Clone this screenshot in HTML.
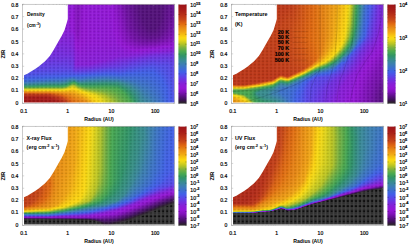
<!DOCTYPE html><html><head><meta charset="utf-8"><title>fig</title><style>html,body{margin:0;padding:0;background:#fff}body{width:409px;height:245px;position:relative;overflow:hidden;font-family:"Liberation Sans",sans-serif}.p{position:absolute;width:151px;height:99px;overflow:hidden}.p i{position:absolute;top:0;height:99px;display:block}.b{stroke:#000;stroke-width:.18px}</style></head><body><div class="p" style="left:24px;top:4px"><i style="left:0px;width:1px;background:linear-gradient(#8520d9 0.5px,#7b28dc 31.5px,#6838e3 53.5px,#4a56e8 72.5px,#4060e8 74.5px,#3c6fce 77.5px,#3c80af 79.5px,#39889c 80.5px,#358f80 81.5px,#399b5f 82.5px,#5dab49 83.5px,#9dbc30 84.5px,#dad11c 85.5px,#fad110 86.5px,#f0a414 87.5px,#e57c12 88.5px,#d25515 89.5px,#c13c18 90.5px,#ac2218 92.5px,#a71b18 93.5px,#a01718 98.5px)"></i><i style="left:1px;width:1px;background:linear-gradient(#8520d9 0.5px,#7b28dc 31.5px,#6838e3 53.5px,#4a56e8 72.5px,#4060e7 74.5px,#3c6fcd 77.5px,#3c81af 79.5px,#39889b 80.5px,#358f80 81.5px,#399b5f 82.5px,#5dab49 83.5px,#9dbc30 84.5px,#dad11c 85.5px,#fad110 86.5px,#f0a414 87.5px,#e57c12 88.5px,#d25515 89.5px,#c13c18 90.5px,#ac2218 92.5px,#a71b18 93.5px,#a01718 98.5px)"></i><i style="left:2px;width:1px;background:linear-gradient(#8520d9 0.5px,#7b28dc 31.5px,#6838e3 53.5px,#4d53e8 71.5px,#4061e7 74.5px,#3c6fcd 77.5px,#3c81ad 79.5px,#398999 80.5px,#34907d 81.5px,#399c5f 82.5px,#5dab49 83.5px,#9dbc30 84.5px,#dad11c 85.5px,#fad110 86.5px,#f0a414 87.5px,#e57c12 88.5px,#d25515 89.5px,#c13c18 90.5px,#ac2218 92.5px,#a71b18 93.5px,#a01718 98.5px)"></i><i style="left:3px;width:1px;background:linear-gradient(#8620d9 0.5px,#7b28dc 31.5px,#6838e3 53.5px,#4d53e8 71.5px,#4061e6 74.5px,#3c70cc 77.5px,#3c81ac 79.5px,#398997 80.5px,#34907a 81.5px,#3a9c5e 82.5px,#5dac49 83.5px,#9dbc30 84.5px,#dad11c 85.5px,#fad110 86.5px,#f0a414 87.5px,#e57c12 88.5px,#d25515 89.5px,#c13c18 90.5px,#ac2218 92.5px,#a71b18 93.5px,#a01718 98.5px)"></i><i style="left:4px;width:1px;background:linear-gradient(#8620d9 0.5px,#7b27dc 31.5px,#6838e3 53.5px,#4d53e8 71.5px,#4061e5 74.5px,#3c71cb 77.5px,#3b82ab 79.5px,#398a96 80.5px,#339179 81.5px,#3b9d5d 82.5px,#5dac49 83.5px,#9dbc30 84.5px,#dad11c 85.5px,#fad110 86.5px,#f0a414 87.5px,#e57c12 88.5px,#d25515 89.5px,#c13c18 90.5px,#ac2218 92.5px,#a71b18 93.5px,#a01718 98.5px)"></i><i style="left:5px;width:1px;background:linear-gradient(#8620d9 0.5px,#7b27dc 31.5px,#6838e3 53.5px,#4d53e8 71.5px,#4062e5 74.5px,#3c71ca 77.5px,#3b82aa 79.5px,#398a96 80.5px,#339178 81.5px,#3b9d5d 82.5px,#5dac49 83.5px,#9dbc30 84.5px,#dad11c 85.5px,#fad110 86.5px,#f0a414 87.5px,#e57c12 88.5px,#d25515 89.5px,#c13c18 90.5px,#ac2218 92.5px,#a71b18 93.5px,#a01718 98.5px)"></i><i style="left:6px;width:1px;background:linear-gradient(#8620d9 0.5px,#7c27dc 31.5px,#6739e3 54.5px,#4f51e8 70.5px,#4062e5 74.5px,#3c71ca 77.5px,#3b82a9 79.5px,#398a95 80.5px,#339178 81.5px,#3b9d5d 82.5px,#5dac49 83.5px,#9dbc30 84.5px,#dad11c 85.5px,#fad110 86.5px,#f0a414 87.5px,#e57c12 88.5px,#d25515 89.5px,#c13c18 90.5px,#ac2218 92.5px,#a71b18 93.5px,#a01718 98.5px)"></i><i style="left:7px;width:1px;background:linear-gradient(#8620d9 0.5px,#7c27dc 31.5px,#6739e3 54.5px,#4f51e8 70.5px,#4062e5 74.5px,#3c71ca 77.5px,#3b83a9 79.5px,#398a95 80.5px,#339178 81.5px,#3b9d5d 82.5px,#5eac49 83.5px,#9dbc30 84.5px,#dad11c 85.5px,#fad110 86.5px,#f0a414 87.5px,#e57c12 88.5px,#d25515 89.5px,#c13c18 90.5px,#ac2218 92.5px,#a71b18 93.5px,#a01718 98.5px)"></i><i style="left:8px;width:1px;background:linear-gradient(#861fd9 0.5px,#7c27dc 31.5px,#6739e3 54.5px,#514fe8 69.5px,#435de8 73.5px,#4062e5 74.5px,#3c72c9 77.5px,#388b93 80.5px,#339177 81.5px,#3b9d5d 82.5px,#5eac49 83.5px,#9dbc30 84.5px,#dad11c 85.5px,#fad110 86.5px,#f0a414 87.5px,#e57c12 88.5px,#d25515 89.5px,#c13c18 90.5px,#ac2218 92.5px,#a71b18 93.5px,#a01718 98.5px)"></i><i style="left:9px;width:1px;background:linear-gradient(#861fd9 0.5px,#7c27dc 31.5px,#6838e3 54.5px,#524ee8 69.5px,#435de8 73.5px,#4062e5 74.5px,#3c73c7 77.5px,#3b84a5 79.5px,#388c91 80.5px,#329274 81.5px,#3c9e5c 82.5px,#5eac49 83.5px,#9dbc30 84.5px,#dad11c 85.5px,#fad110 86.5px,#f0a414 87.5px,#e57d12 88.5px,#d25615 89.5px,#c13c18 90.5px,#ac2218 92.5px,#a71b18 93.5px,#a01718 98.5px)"></i><i style="left:10px;width:1px;background:linear-gradient(#871fd8 0.5px,#7c27dc 31.5px,#6838e3 54.5px,#554be8 68.5px,#435de8 73.5px,#3f62e4 74.5px,#3c73c6 77.5px,#3b84a4 79.5px,#388c8f 80.5px,#329272 81.5px,#3c9e5c 82.5px,#5eac49 83.5px,#9dbc30 84.5px,#dad11c 85.5px,#fad110 86.5px,#f0a414 87.5px,#e57e13 88.5px,#d45814 89.5px,#c13d18 90.5px,#b52d18 91.5px,#a71b18 93.5px,#a01718 98.5px)"></i><i style="left:11px;width:1px;background:linear-gradient(#871fd8 0.5px,#7c27dc 31.5px,#6739e3 55.5px,#554be8 68.5px,#435de8 73.5px,#3e67db 75.5px,#3c74c6 77.5px,#3a85a3 79.5px,#388c8f 80.5px,#329272 81.5px,#3d9f5b 82.5px,#5eac49 83.5px,#9dbc30 84.5px,#dad11c 85.5px,#fad110 86.5px,#f0a414 87.5px,#d65b13 89.5px,#c23e18 90.5px,#b52d18 91.5px,#a71b18 93.5px,#a01718 98.5px)"></i><i style="left:12px;width:1px;background:linear-gradient(#871fd8 0.5px,#7d26dc 31.5px,#6739e3 55.5px,#554be8 68.5px,#425ee8 73.5px,#3e68db 75.5px,#3c74c5 77.5px,#388c8e 80.5px,#329271 81.5px,#3d9f5b 82.5px,#5eac49 83.5px,#9dbc30 84.5px,#dad11c 85.5px,#fad110 86.5px,#f0a414 87.5px,#d75c13 89.5px,#c23e18 90.5px,#b52d18 91.5px,#a71b18 93.5px,#a01718 98.5px)"></i><i style="left:13px;width:1px;background:linear-gradient(#871fd8 0.5px,#7d26dc 31.5px,#6838e3 55.5px,#554be8 68.5px,#425ee8 73.5px,#3d6dd1 76.5px,#3c7db5 78.5px,#388c8e 80.5px,#329271 81.5px,#3d9f5b 82.5px,#5fac48 83.5px,#9ebc30 84.5px,#dad11c 85.5px,#fad110 86.5px,#f0a414 87.5px,#d75c13 89.5px,#c23e18 90.5px,#b52d18 91.5px,#a71b18 93.5px,#a01718 98.5px)"></i><i style="left:14px;width:1px;background:linear-gradient(#881ed8 0.5px,#7d26dc 31.5px,#6838e3 55.5px,#554be8 68.5px,#415fe8 73.5px,#3d6ed0 76.5px,#3c7eb4 78.5px,#378d8d 80.5px,#31936f 81.5px,#3ea05a 82.5px,#61ac48 83.5px,#9fbc2f 84.5px,#dad11c 85.5px,#fad110 86.5px,#f0a414 87.5px,#d75c13 89.5px,#c23e18 90.5px,#b52d18 91.5px,#a71b18 93.5px,#a01718 98.5px)"></i><i style="left:15px;width:1px;background:linear-gradient(#881ed8 0.5px,#7e25db 30.5px,#6937e2 55.5px,#5749e8 67.5px,#415fe8 73.5px,#3c6ecf 76.5px,#3c7fb2 78.5px,#378d8a 80.5px,#31936c 81.5px,#41a257 82.5px,#65ad46 83.5px,#a1bd2e 84.5px,#dad11c 85.5px,#fad110 86.5px,#f0a414 87.5px,#d75c13 89.5px,#c23f18 90.5px,#b52d18 91.5px,#a71b18 93.5px,#a01718 98.5px)"></i><i style="left:16px;width:1px;background:linear-gradient(#881ed8 0.5px,#7f25db 30.5px,#6838e3 56.5px,#5947e8 66.5px,#415fe8 73.5px,#3c6fce 76.5px,#3c80b1 78.5px,#368e87 80.5px,#309469 81.5px,#42a356 82.5px,#68ad45 83.5px,#a2bd2d 84.5px,#dbd11c 85.5px,#fad110 86.5px,#f0a414 87.5px,#d75c13 89.5px,#c23f18 90.5px,#b52d18 91.5px,#a71b18 93.5px,#a01718 98.5px)"></i><i style="left:17px;width:1px;background:linear-gradient(#881ed8 0.5px,#7f24db 29.5px,#6838e3 56.5px,#5b45e7 65.5px,#465ae8 72.5px,#415fe8 73.5px,#3c6fce 76.5px,#3c80b0 78.5px,#368e86 80.5px,#309468 81.5px,#43a455 82.5px,#69ad45 83.5px,#a3bd2d 84.5px,#dbd11c 85.5px,#fad110 86.5px,#f0a414 87.5px,#d75c13 89.5px,#c23f18 90.5px,#b52d18 91.5px,#a71b18 93.5px,#a01718 98.5px)"></i><i style="left:18px;width:1px;background:linear-gradient(#881ed8 0.5px,#8024db 29.5px,#6937e2 56.5px,#5c44e7 65.5px,#465ae8 72.5px,#415fe8 73.5px,#3c6fce 76.5px,#3c80b0 78.5px,#368e85 80.5px,#309468 81.5px,#43a455 82.5px,#69ad45 83.5px,#a3bd2d 84.5px,#dbd11c 85.5px,#fad110 86.5px,#f0a414 87.5px,#d75c13 89.5px,#c23f18 90.5px,#b62e18 91.5px,#a81c18 93.5px,#a01718 98.5px)"></i><i style="left:19px;width:1px;background:linear-gradient(#891ed8 0.5px,#8123da 28.5px,#6937e2 56.5px,#5c44e7 65.5px,#465ae8 72.5px,#415fe8 73.5px,#3c6fcd 76.5px,#3c80af 78.5px,#368e85 80.5px,#309468 81.5px,#43a455 82.5px,#69ae45 83.5px,#a3bd2d 84.5px,#dbd11c 85.5px,#fad110 86.5px,#f0a414 87.5px,#d75c13 89.5px,#c23f18 90.5px,#b62e18 91.5px,#a81c18 93.5px,#a01718 98.5px)"></i><i style="left:20px;width:1px;background:linear-gradient(#891dd8 0.5px,#8223da 27.5px,#6937e2 56.5px,#5c44e7 65.5px,#455be8 72.5px,#415fe8 73.5px,#3c70cc 76.5px,#39889b 79.5px,#368e85 80.5px,#309468 81.5px,#43a455 82.5px,#69ae45 83.5px,#a3bd2d 84.5px,#dbd11c 85.5px,#fad110 86.5px,#f0a414 87.5px,#d75c13 89.5px,#c23f18 90.5px,#b62e18 91.5px,#a81c18 93.5px,#a01718 98.5px)"></i><i style="left:21px;width:1px;background:linear-gradient(#891dd8 0.5px,#8322da 26.5px,#6b35e2 55.5px,#5c44e7 65.5px,#455be8 72.5px,#4060e8 73.5px,#3c71cb 76.5px,#39889a 79.5px,#368e84 80.5px,#319567 81.5px,#43a455 82.5px,#69ae45 83.5px,#a3bd2d 84.5px,#dbd11c 85.5px,#fad110 86.5px,#f0a414 87.5px,#d75c13 89.5px,#c23f18 90.5px,#b62e18 91.5px,#a81c18 93.5px,#a01718 98.5px)"></i><i style="left:22px;width:1px;background:linear-gradient(#891dd8 0.5px,#8322da 27.5px,#6a36e2 56.5px,#5947e8 66.5px,#4060e7 73.5px,#3c71ca 76.5px,#398998 79.5px,#329566 81.5px,#43a455 82.5px,#69ae45 83.5px,#a3bd2d 84.5px,#dbd11c 85.5px,#fad110 86.5px,#f0a414 87.5px,#d75c13 89.5px,#c23f18 90.5px,#b62e18 91.5px,#a81d18 93.5px,#a01718 98.5px)"></i><i style="left:23px;width:1px;background:linear-gradient(#8a1dd8 0.5px,#8322da 27.5px,#6b35e2 56.5px,#5947e8 66.5px,#4061e7 73.5px,#3c71ca 76.5px,#398a97 79.5px,#329666 81.5px,#43a455 82.5px,#69ae45 83.5px,#a3bd2d 84.5px,#dbd11c 85.5px,#fad110 86.5px,#f0a414 87.5px,#d85d13 89.5px,#c33f18 90.5px,#b72f18 91.5px,#a91e18 93.5px,#a01718 98.5px)"></i><i style="left:24px;width:1px;background:linear-gradient(#8a1dd8 0.5px,#8421d9 27.5px,#6b35e2 56.5px,#5947e8 66.5px,#4061e7 73.5px,#3c71ca 76.5px,#398a96 79.5px,#339665 81.5px,#44a454 82.5px,#69ae45 83.5px,#a3bd2d 84.5px,#dbd11c 85.5px,#fad110 86.5px,#f0a414 87.5px,#d85e13 89.5px,#c44118 90.5px,#b93118 91.5px,#ab2018 93.5px,#a41a18 95.5px,#a01718 98.5px)"></i><i style="left:25px;width:1px;background:linear-gradient(#8a1dd8 0.5px,#8421d9 27.5px,#6b35e2 56.5px,#5749e8 67.5px,#4061e7 73.5px,#3c72c8 76.5px,#398a96 79.5px,#339665 81.5px,#44a454 82.5px,#69ae45 83.5px,#a3bd2d 84.5px,#dbd11c 85.5px,#fad110 86.5px,#f0a514 87.5px,#d95f12 89.5px,#c54418 90.5px,#bb3318 91.5px,#ac2218 93.5px,#a51a18 95.5px,#a01718 98.5px)"></i><i style="left:26px;width:1px;background:linear-gradient(#8a1cd8 0.5px,#8421d9 28.5px,#6c34e1 56.5px,#5749e8 67.5px,#4061e7 73.5px,#3c73c7 76.5px,#398a96 79.5px,#339665 81.5px,#44a454 82.5px,#69ae45 83.5px,#a3bd2d 84.5px,#dbd11c 85.5px,#fad110 86.5px,#f1a714 87.5px,#dc6311 89.5px,#c74718 90.5px,#bd3618 91.5px,#a81c18 94.5px,#a11718 98.5px)"></i><i style="left:27px;width:1px;background:linear-gradient(#8b1cd8 0.5px,#8421d9 28.5px,#6e32e1 55.5px,#5749e8 67.5px,#4061e7 73.5px,#3c73c7 76.5px,#398a96 79.5px,#339665 81.5px,#44a454 82.5px,#69ae45 83.5px,#a3bd2d 84.5px,#dbd11c 85.5px,#fad210 86.5px,#f1aa13 87.5px,#df6710 89.5px,#ca4b17 90.5px,#bf3a18 91.5px,#aa1e18 94.5px,#a11718 98.5px)"></i><i style="left:28px;width:1px;background:linear-gradient(#8b1cd8 0.5px,#8421d9 29.5px,#6f31e0 54.5px,#5749e8 67.5px,#4061e6 73.5px,#3c73c6 76.5px,#398a95 79.5px,#339665 81.5px,#44a454 82.5px,#69ae45 83.5px,#a3bd2d 84.5px,#dbd11c 85.5px,#fad210 86.5px,#f2ab13 87.5px,#e16b10 89.5px,#ce5016 90.5px,#c13d18 91.5px,#b02818 93.5px,#a71b18 95.5px,#a21818 98.5px)"></i><i style="left:29px;width:1px;background:linear-gradient(#8b1cd7 0.5px,#8520d9 29.5px,#722fdf 52.5px,#5947e8 66.5px,#4061e5 73.5px,#3c73c6 76.5px,#398a95 79.5px,#339665 81.5px,#44a454 82.5px,#69ae45 83.5px,#a3bd2d 84.5px,#dbd11c 85.5px,#fad210 86.5px,#f2ac13 87.5px,#e16e11 89.5px,#d15415 90.5px,#c34018 91.5px,#bb3318 92.5px,#a81d18 95.5px,#a21818 98.5px)"></i><i style="left:30px;width:1px;background:linear-gradient(#8b1cd7 0.5px,#8520d9 30.5px,#742ddf 50.5px,#5c44e7 65.5px,#435de8 72.5px,#4062e5 73.5px,#3c73c6 76.5px,#398a95 79.5px,#339665 81.5px,#44a454 82.5px,#69ae45 83.5px,#a3bd2d 84.5px,#dbd11c 85.5px,#fbd210 86.5px,#f2ad13 87.5px,#e27211 89.5px,#c54418 91.5px,#bd3618 92.5px,#aa1f18 95.5px,#a31918 98.5px)"></i><i style="left:31px;width:1px;background:linear-gradient(#8c1cd7 0.5px,#8520d9 30.5px,#742ddf 50.5px,#5c44e7 65.5px,#435de8 72.5px,#3f62e4 73.5px,#3c73c6 76.5px,#398a95 79.5px,#339665 81.5px,#44a454 82.5px,#69ae45 83.5px,#a3bd2d 84.5px,#dbd11c 85.5px,#fbd210 86.5px,#f2af13 87.5px,#e37612 89.5px,#c74718 91.5px,#b72f18 93.5px,#a81c18 96.5px,#a41918 98.5px)"></i><i style="left:32px;width:1px;background:linear-gradient(#8c1bd7 0.5px,#8620d9 30.5px,#752dde 50.5px,#5c44e7 65.5px,#435de8 72.5px,#3f62e4 73.5px,#3c73c6 76.5px,#398a95 79.5px,#339665 81.5px,#44a454 82.5px,#69ae45 83.5px,#a3bd2d 84.5px,#dbd11c 85.5px,#fbd310 86.5px,#f3b013 87.5px,#da6012 90.5px,#ca4b17 91.5px,#b93118 93.5px,#a71b18 97.5px,#a51a18 98.5px)"></i><i style="left:33px;width:1px;background:linear-gradient(#8c1bd7 0.5px,#8620d9 31.5px,#732ddf 51.5px,#5c44e7 65.5px,#435de8 72.5px,#3f62e4 73.5px,#3c73c6 76.5px,#398a95 79.5px,#339765 81.5px,#44a454 82.5px,#69ae45 83.5px,#a3bd2d 84.5px,#dad11c 85.5px,#fbd310 86.5px,#f3b013 87.5px,#e47b12 89.5px,#dd6411 90.5px,#cd4f16 91.5px,#bb3318 93.5px,#a81c18 97.5px,#a61a18 98.5px)"></i><i style="left:34px;width:1px;background:linear-gradient(#8d1bd7 0.5px,#861fd9 31.5px,#722edf 52.5px,#5947e8 66.5px,#435de8 72.5px,#3f62e4 73.5px,#3c74c6 76.5px,#398a95 79.5px,#339765 81.5px,#44a454 82.5px,#69ad45 83.5px,#a2bd2e 84.5px,#d9d11c 85.5px,#fbd310 86.5px,#f3b113 87.5px,#e57d12 89.5px,#df6710 90.5px,#c54318 92.5px,#b72f18 94.5px,#a71b18 98.5px)"></i><i style="left:35px;width:1px;background:linear-gradient(#8d1bd7 0.5px,#861fd9 32.5px,#6f31e0 54.5px,#564ae8 67.5px,#425ee8 72.5px,#3e68db 74.5px,#3c74c5 76.5px,#398a95 79.5px,#339765 81.5px,#43a455 82.5px,#67ad46 83.5px,#a1bd2e 84.5px,#d9d11c 85.5px,#fbd410 86.5px,#ec9714 88.5px,#e06a10 90.5px,#c74618 92.5px,#ba3218 94.5px,#a91d18 98.5px)"></i><i style="left:36px;width:1px;background:linear-gradient(#8d1ad7 0.5px,#881ed8 31.5px,#6e32e1 55.5px,#564ae8 67.5px,#425ee8 72.5px,#3e68da 74.5px,#3c7db5 77.5px,#388b93 79.5px,#349764 81.5px,#44a454 82.5px,#67ad46 83.5px,#a1bd2e 84.5px,#dad11c 85.5px,#fbd410 86.5px,#ed9914 88.5px,#e16d11 90.5px,#ca4b17 92.5px,#b83018 95.5px,#ab2118 98.5px)"></i><i style="left:37px;width:1px;background:linear-gradient(#8d1ad7 0.5px,#881ed8 31.5px,#6e32e1 55.5px,#564ae8 67.5px,#415fe8 72.5px,#3c6fce 75.5px,#3a85a2 78.5px,#388c91 79.5px,#339179 80.5px,#359863 81.5px,#45a553 82.5px,#69ae45 83.5px,#a3be2d 84.5px,#dcd21c 85.5px,#fbd310 86.5px,#ed9a14 88.5px,#d95f12 91.5px,#c64418 93.5px,#b62e18 96.5px,#ae2518 98.5px)"></i><i style="left:38px;width:1px;background:linear-gradient(#8e1ad7 0.5px,#891dd8 28.5px,#712fe0 53.5px,#5947e8 66.5px,#415fe8 72.5px,#3c6fcd 75.5px,#3a86a0 78.5px,#388c8e 79.5px,#339176 80.5px,#379a61 81.5px,#46a752 82.5px,#6cae44 83.5px,#a7bf2b 84.5px,#e0d31b 85.5px,#fad210 86.5px,#ed9b14 88.5px,#dd6411 91.5px,#c94918 93.5px,#b93118 96.5px,#b12918 98.5px)"></i><i style="left:39px;width:1px;background:linear-gradient(#8e1ad7 0.5px,#8b1cd8 26.5px,#722edf 52.5px,#5947e8 66.5px,#415fe8 72.5px,#3c70cc 75.5px,#3a879e 78.5px,#378d8b 79.5px,#329273 80.5px,#399b5f 81.5px,#4aa84f 82.5px,#73af42 83.5px,#adc129 84.5px,#e4d51a 85.5px,#fad010 86.5px,#ee9d14 88.5px,#e06910 91.5px,#c64518 94.5px,#b72f18 97.5px,#b52d18 98.5px)"></i><i style="left:40px;width:1px;background:linear-gradient(#8e1ad7 0.5px,#8c1cd7 25.5px,#742ddf 51.5px,#5c44e7 65.5px,#415fe8 72.5px,#3c71ca 75.5px,#39889b 78.5px,#368e88 79.5px,#31936f 80.5px,#3a9d5e 81.5px,#4ea94e 82.5px,#7bb13e 83.5px,#b8c424 84.5px,#e8d619 85.5px,#fad010 86.5px,#ee9e14 88.5px,#e26f11 91.5px,#c44218 95.5px,#bb3318 97.5px,#b93118 98.5px)"></i><i style="left:41px;width:1px;background:linear-gradient(#8e1ad7 0.5px,#8d1bd7 24.5px,#752cde 50.5px,#5c44e7 65.5px,#415fe8 72.5px,#3c72c9 75.5px,#398999 78.5px,#368e84 79.5px,#31936b 80.5px,#3d9f5b 81.5px,#55aa4c 82.5px,#89b539 83.5px,#c3c821 84.5px,#eed817 85.5px,#facf10 86.5px,#efa014 88.5px,#e37411 91.5px,#d85e13 93.5px,#c84818 95.5px,#bd3618 98.5px)"></i><i style="left:42px;width:1px;background:linear-gradient(#8e1ad7 0.5px,#8e1ad7 23.5px,#752cde 50.5px,#5c44e7 65.5px,#415fe8 72.5px,#3d6cd3 74.5px,#3b84a5 77.5px,#398a94 78.5px,#339665 80.5px,#42a356 81.5px,#62ac47 82.5px,#cfcd1f 84.5px,#f3d815 85.5px,#f9cc10 86.5px,#efa114 88.5px,#e47812 91.5px,#d55a14 94.5px,#c44118 97.5px,#c13c18 98.5px)"></i><i style="left:43px;width:1px;background:linear-gradient(#8e1ad7 0.5px,#8f19d7 22.5px,#772bde 49.5px,#5e42e6 64.5px,#4a56e8 70.5px,#4060e8 72.5px,#3d6dd1 74.5px,#3a86a0 77.5px,#378d8d 78.5px,#339175 79.5px,#389b60 80.5px,#48a850 81.5px,#72af42 82.5px,#adc029 83.5px,#dad11c 84.5px,#f8d812 85.5px,#f8c910 86.5px,#efa114 88.5px,#e57c12 91.5px,#e06810 93.5px,#c74718 97.5px,#c44218 98.5px)"></i><i style="left:44px;width:1px;background:linear-gradient(#8e1ad7 0.5px,#9019d7 21.5px,#772ade 49.5px,#5f41e6 64.5px,#4a56e8 70.5px,#4060e8 72.5px,#3c78be 75.5px,#368e84 78.5px,#30946a 79.5px,#3fa159 80.5px,#59ab4a 81.5px,#89b538 82.5px,#bfc722 83.5px,#e5d51a 84.5px,#fcd810 85.5px,#efa214 88.5px,#e57f13 91.5px,#d95e12 95.5px,#c84718 98.5px)"></i><i style="left:45px;width:1px;background:linear-gradient(#8f1ad7 0.5px,#9118d6 20.5px,#7c27dc 44.5px,#6937e2 59.5px,#564ae8 67.5px,#4061e7 72.5px,#3c7bba 75.5px,#388b93 77.5px,#339179 78.5px,#369962 79.5px,#47a751 80.5px,#6dae44 81.5px,#a4be2d 82.5px,#cecd1f 83.5px,#eed817 84.5px,#fbd410 85.5px,#f0a214 88.5px,#e68213 91.5px,#d95f12 96.5px,#ce5016 98.5px)"></i><i style="left:46px;width:1px;background:linear-gradient(#8f19d7 0.5px,#9317d6 18.5px,#8c1bd7 28.5px,#7f25db 43.5px,#6a36e2 59.5px,#5749e8 67.5px,#4062e5 72.5px,#3c7db5 75.5px,#378d8a 77.5px,#31936e 78.5px,#3ea05a 79.5px,#57ab4b 80.5px,#85b43a 81.5px,#bac524 82.5px,#dbd11c 83.5px,#f3d814 84.5px,#fad010 85.5px,#f0a414 88.5px,#e78513 91.5px,#dd6411 96.5px,#d45814 98.5px)"></i><i style="left:47px;width:1px;background:linear-gradient(#8f19d7 0.5px,#9416d6 16.5px,#8f1ad7 27.5px,#871fd8 33.5px,#8024db 43.5px,#752cde 52.5px,#613fe5 64.5px,#455be8 71.5px,#3f62e4 72.5px,#3c80b1 75.5px,#358f81 77.5px,#349764 78.5px,#46a652 79.5px,#68ad45 80.5px,#9abb31 81.5px,#c5c921 82.5px,#e2d41a 83.5px,#f7d813 84.5px,#f9ce10 85.5px,#ed9b14 89.5px,#e47b12 93.5px,#dd6311 97.5px,#d95e12 98.5px)"></i><i style="left:48px;width:1px;background:linear-gradient(#9019d7 0.5px,#9316d5 9.5px,#9218d6 26.5px,#881ed8 32.5px,#8223da 43.5px,#7d26dc 46.5px,#762bde 52.5px,#6739e3 61.5px,#613fe5 65.5px,#455be8 71.5px,#3f63e3 72.5px,#3c81ad 75.5px,#398a96 76.5px,#339178 77.5px,#3b9d5d 78.5px,#51a94d 79.5px,#75af41 80.5px,#a7bf2c 81.5px,#cbcb20 82.5px,#e7d619 83.5px,#f9d812 84.5px,#ee9d14 89.5px,#e57f13 93.5px,#dc6311 98.5px)"></i><i style="left:49px;width:1px;background:linear-gradient(#9118d6 0.5px,#9216d3 8.5px,#9118d6 28.5px,#891dd8 31.5px,#8520d9 43.5px,#7f24db 46.5px,#7a29dd 52.5px,#6b35e2 61.5px,#653be4 65.5px,#4a56e8 70.5px,#3f63e3 72.5px,#3c81ad 75.5px,#388b93 76.5px,#329271 77.5px,#3fa159 78.5px,#58ab4b 79.5px,#7ab13f 80.5px,#a9bf2a 81.5px,#cacb20 82.5px,#e6d619 83.5px,#f8d812 84.5px,#f4b612 87.5px,#ea8f14 91.5px,#e06810 98.5px)"></i><i style="left:50px;width:1px;background:linear-gradient(#9015d1 0.5px,#8e15ce 5.5px,#9015d0 27.5px,#9416d6 29.5px,#881ed8 44.5px,#8322da 49.5px,#7929dd 60.5px,#6b35e2 65.5px,#5749e8 68.5px,#445ce8 71.5px,#3f63e2 72.5px,#3c74c5 74.5px,#3c80b1 75.5px,#398a96 76.5px,#329273 77.5px,#3fa059 78.5px,#54aa4c 79.5px,#73af42 80.5px,#9dbb30 81.5px,#c1c722 82.5px,#ded31b 83.5px,#f4d814 84.5px,#fad110 85.5px,#ed9b14 90.5px,#e47a12 95.5px,#e16d11 98.5px)"></i><i style="left:51px;width:1px;background:linear-gradient(#8613c3 0.5px,#8914c7 27.5px,#9317d6 39.5px,#871fd8 49.5px,#8322da 60.5px,#6e32e1 65.5px,#534de8 69.5px,#435de8 71.5px,#3d6ad6 73.5px,#3c71ca 74.5px,#3c7cb7 75.5px,#3a879e 76.5px,#358f80 77.5px,#379961 78.5px,#47a851 79.5px,#64ad47 80.5px,#87b539 81.5px,#b0c128 82.5px,#eed817 84.5px,#fbd610 85.5px,#f1a714 89.5px,#e88914 93.5px,#e27011 98.5px)"></i><i style="left:52px;width:1px;background:linear-gradient(#8413c0 0.5px,#8613c3 30.5px,#9015d0 36.5px,#9316d6 42.5px,#891dd8 48.5px,#8520d9 60.5px,#6e32e1 65.5px,#4b55e8 70.5px,#435de8 71.5px,#3c6fce 74.5px,#3c78be 75.5px,#388c8f 77.5px,#31936e 78.5px,#3ea05a 79.5px,#52aa4d 80.5px,#71af42 81.5px,#c0c722 83.5px,#e1d41b 84.5px,#f7d812 85.5px,#f6c111 87.5px,#ed9a14 91.5px,#e57c12 96.5px,#e37311 98.5px)"></i><i style="left:53px;width:1px;background:linear-gradient(#8413c0 0.5px,#8513c1 30.5px,#8f15d0 36.5px,#9216d4 42.5px,#891dd8 50.5px,#8620d9 60.5px,#6e32e1 65.5px,#4a56e8 70.5px,#435de8 71.5px,#3d6ed0 74.5px,#3c75c3 75.5px,#398998 77.5px,#34907d 78.5px,#359863 79.5px,#44a554 80.5px,#5eac49 81.5px,#82b33c 82.5px,#adc129 83.5px,#d1ce1e 84.5px,#f0d816 85.5px,#fbd310 86.5px,#f0a614 90.5px,#e88814 94.5px,#e37612 98.5px)"></i><i style="left:54px;width:1px;background:linear-gradient(#8413c0 0.5px,#8613c3 28.5px,#9015d1 38.5px,#9217d6 43.5px,#8a1dd8 51.5px,#8620d9 60.5px,#6e32e1 65.5px,#4a56e8 70.5px,#425ee8 71.5px,#3d6dd2 74.5px,#3c73c6 75.5px,#3a879e 77.5px,#368e87 78.5px,#31936b 79.5px,#4fa94e 81.5px,#70af43 82.5px,#c2c822 84.5px,#e4d51a 85.5px,#fad811 86.5px,#efa114 91.5px,#e78613 95.5px,#e47812 98.5px)"></i><i style="left:55px;width:1px;background:linear-gradient(#8513c1 0.5px,#8914c6 27.5px,#9317d6 42.5px,#891dd8 53.5px,#8620d9 60.5px,#6d33e1 65.5px,#514fe8 69.5px,#425ee8 71.5px,#3c73c7 75.5px,#378d8d 78.5px,#329272 79.5px,#399b5f 80.5px,#46a752 81.5px,#63ac47 82.5px,#b4c326 84.5px,#d8d01d 85.5px,#f3d814 86.5px,#fad110 87.5px,#f0a414 91.5px,#e88814 95.5px,#e47b12 98.5px)"></i><i style="left:56px;width:1px;background:linear-gradient(#8814c6 0.5px,#8d15cd 30.5px,#9217d6 42.5px,#891ed8 56.5px,#8620d9 60.5px,#6d33e1 65.5px,#514fe8 69.5px,#415fe8 71.5px,#3c73c6 75.5px,#388c8f 78.5px,#339176 79.5px,#369962 80.5px,#43a455 81.5px,#5aab4a 82.5px,#7cb13e 83.5px,#a6be2c 84.5px,#edd818 86.5px,#fcd610 87.5px,#f1a913 91.5px,#e88b14 95.5px,#e57d12 98.5px)"></i><i style="left:57px;width:1px;background:linear-gradient(#8c14cb 0.5px,#9216d4 38.5px,#8620d9 60.5px,#6d33e1 65.5px,#5050e8 69.5px,#415fe8 71.5px,#3d6ed0 74.5px,#3c7db5 76.5px,#388c90 78.5px,#349764 80.5px,#40a258 81.5px,#53aa4c 82.5px,#72af42 83.5px,#c0c722 85.5px,#e3d41a 86.5px,#f8d812 87.5px,#f4b712 90.5px,#eb9414 94.5px,#e57f13 98.5px)"></i><i style="left:58px;width:1px;background:linear-gradient(#9015d0 0.5px,#9316d4 37.5px,#8620d9 60.5px,#6c34e1 65.5px,#4f51e8 69.5px,#4060e8 71.5px,#3c6fce 74.5px,#3c7eb3 76.5px,#388c90 78.5px,#329666 80.5px,#4ea94e 82.5px,#6bae44 83.5px,#b5c325 85.5px,#d8d01d 86.5px,#f2d815 87.5px,#fad210 88.5px,#ef9f14 93.5px,#e78513 97.5px,#e68213 98.5px)"></i><i style="left:59px;width:1px;background:linear-gradient(#9216d3 0.5px,#9316d5 36.5px,#8620d9 60.5px,#6c34e1 65.5px,#4f51e8 69.5px,#4060e8 71.5px,#3c6fcd 74.5px,#3c7fb1 76.5px,#34907a 79.5px,#319567 80.5px,#49a850 82.5px,#84b43b 84.5px,#a9bf2a 85.5px,#ecd818 87.5px,#fcd710 88.5px,#f4b612 91.5px,#e98d14 96.5px,#e78413 98.5px)"></i><i style="left:60px;width:1px;background:linear-gradient(#9416d6 0.5px,#9216d3 29.5px,#9118d6 41.5px,#8620d9 60.5px,#6b35e2 65.5px,#4f51e8 69.5px,#4061e7 71.5px,#3c70cb 74.5px,#3a879e 77.5px,#319567 80.5px,#47a751 82.5px,#5fac48 83.5px,#7cb13e 84.5px,#c2c822 86.5px,#e3d51a 87.5px,#f8d812 88.5px,#f7c410 90.5px,#ea9214 96.5px,#e78714 98.5px)"></i><i style="left:61px;width:1px;background:linear-gradient(#9317d6 0.5px,#9316d4 29.5px,#9019d7 43.5px,#8620d9 60.5px,#6b35e2 65.5px,#4e52e8 69.5px,#4061e6 71.5px,#3c71ca 74.5px,#3a879c 77.5px,#319467 80.5px,#45a653 82.5px,#76b041 84.5px,#b9c424 86.5px,#d9d11c 87.5px,#f2d815 88.5px,#fbd310 89.5px,#ec9714 96.5px,#e88a14 98.5px)"></i><i style="left:62px;width:1px;background:linear-gradient(#9317d6 0.5px,#9316d5 30.5px,#881ed8 59.5px,#6b35e2 65.5px,#4e52e8 69.5px,#4061e5 71.5px,#3c72c9 74.5px,#39889c 77.5px,#309468 80.5px,#45a553 82.5px,#72af42 84.5px,#b1c227 86.5px,#edd817 88.5px,#fbd811 89.5px,#eb9514 97.5px,#e98e14 98.5px)"></i><i style="left:63px;width:1px;background:linear-gradient(#9317d6 0.5px,#9416d6 31.5px,#8620d9 60.5px,#6a36e2 65.5px,#455be8 70.5px,#4062e5 71.5px,#3c73c7 74.5px,#378d8b 78.5px,#309468 80.5px,#45a553 82.5px,#6faf43 84.5px,#c9cb20 87.5px,#e7d619 88.5px,#f6d813 89.5px,#fbd410 90.5px,#eb9314 98.5px)"></i><i style="left:64px;width:1px;background:linear-gradient(#9217d6 0.5px,#9118d6 39.5px,#8520d9 60.5px,#6a36e2 65.5px,#455be8 70.5px,#4062e5 71.5px,#3c73c7 74.5px,#378d8a 78.5px,#309468 80.5px,#45a553 82.5px,#6dae44 84.5px,#a4be2d 86.5px,#e0d31b 88.5px,#f2d815 89.5px,#fbd810 90.5px,#f5bc11 94.5px,#ed9914 98.5px)"></i><i style="left:65px;width:1px;background:linear-gradient(#9217d6 0.5px,#9118d6 38.5px,#8520d9 60.5px,#6937e2 65.5px,#445ce8 70.5px,#3f62e4 71.5px,#3c74c6 74.5px,#378d8a 78.5px,#309468 80.5px,#44a554 82.5px,#54aa4c 83.5px,#82b33c 85.5px,#bcc523 87.5px,#d9d11c 88.5px,#eed817 89.5px,#fbd610 91.5px,#f5ba12 95.5px,#efa014 98.5px)"></i><i style="left:66px;width:1px;background:linear-gradient(#9217d6 0.5px,#9118d6 38.5px,#881ed8 59.5px,#6f31e0 64.5px,#4c54e8 69.5px,#3f63e3 71.5px,#3c74c4 74.5px,#368e88 78.5px,#309468 80.5px,#43a455 82.5px,#51aa4d 83.5px,#7eb23e 85.5px,#b5c325 87.5px,#ead718 89.5px,#fbd811 91.5px,#f7c111 95.5px,#f1a814 98.5px)"></i><i style="left:67px;width:1px;background:linear-gradient(#9217d6 0.5px,#9118d6 37.5px,#871fd8 59.5px,#6e32e1 64.5px,#4b55e8 69.5px,#435de8 70.5px,#3e69d9 72.5px,#3c7db6 75.5px,#368e87 78.5px,#309468 80.5px,#42a356 82.5px,#50a94d 83.5px,#7ab13f 85.5px,#cbcb20 88.5px,#e5d51a 89.5px,#f1d815 90.5px,#fcd710 92.5px,#f6c111 96.5px,#f3b113 98.5px)"></i><i style="left:68px;width:1px;background:linear-gradient(#9217d6 0.5px,#9118d6 37.5px,#871fd8 59.5px,#6d33e1 64.5px,#4a56e8 69.5px,#435de8 70.5px,#3c6fcf 73.5px,#3b84a6 76.5px,#309468 80.5px,#42a356 82.5px,#4fa94e 83.5px,#77b040 85.5px,#c4c921 88.5px,#dfd31b 89.5px,#efd817 90.5px,#fad811 92.5px,#f7c111 97.5px,#f5b912 98.5px)"></i><i style="left:69px;width:1px;background:linear-gradient(#9217d6 0.5px,#9118d7 37.5px,#8620d9 59.5px,#6c34e1 64.5px,#514fe8 68.5px,#425ee8 70.5px,#3c6fce 73.5px,#398a96 77.5px,#309468 80.5px,#4fa94e 83.5px,#75af41 85.5px,#bec623 88.5px,#d9d11c 89.5px,#ecd818 90.5px,#fcd810 93.5px,#f7c211 98.5px)"></i><i style="left:70px;width:1px;background:linear-gradient(#9217d6 0.5px,#9118d7 37.5px,#881ed8 58.5px,#6b35e2 64.5px,#514fe8 68.5px,#425ee8 70.5px,#3c6fcd 73.5px,#398a96 77.5px,#309468 80.5px,#4ea94e 83.5px,#88b539 86.5px,#b9c424 88.5px,#e8d719 90.5px,#f9d812 93.5px,#fbd310 95.5px,#f8c810 98.5px)"></i><i style="left:71px;width:1px;background:linear-gradient(#9217d6 0.5px,#9018d7 38.5px,#871fd8 58.5px,#6a36e2 64.5px,#4957e8 69.5px,#415fe8 70.5px,#3c77c0 74.5px,#368e86 78.5px,#309468 80.5px,#4ea94e 83.5px,#85b43a 86.5px,#cacb20 89.5px,#e1d41b 90.5px,#edd817 91.5px,#fcd710 95.5px,#f9cc10 98.5px)"></i><i style="left:72px;width:1px;background:linear-gradient(#9217d6 0.5px,#9019d7 38.5px,#861fd9 58.5px,#6a36e2 64.5px,#4858e8 69.5px,#4060e8 70.5px,#3c77bf 74.5px,#368e86 78.5px,#309468 80.5px,#4da94e 83.5px,#82b33c 86.5px,#c2c822 89.5px,#d8d01d 90.5px,#e8d619 91.5px,#f7d813 94.5px,#fbd310 97.5px,#fad010 98.5px)"></i><i style="left:73px;width:1px;background:linear-gradient(#9217d6 0.5px,#9019d7 38.5px,#8620d9 58.5px,#6937e2 64.5px,#4759e8 69.5px,#4060e8 70.5px,#3c77bf 74.5px,#368e86 78.5px,#309468 80.5px,#4da94e 83.5px,#7eb23d 86.5px,#bbc523 89.5px,#e0d31b 91.5px,#ecd818 92.5px,#fcd610 97.5px,#fbd410 98.5px)"></i><i style="left:74px;width:1px;background:linear-gradient(#9217d6 0.5px,#9019d7 38.5px,#881ed8 57.5px,#6e32e1 63.5px,#4759e8 69.5px,#4060e8 70.5px,#3c78be 74.5px,#368e86 78.5px,#319467 80.5px,#4da94e 83.5px,#7bb13e 86.5px,#b6c325 89.5px,#e5d51a 92.5px,#f1d816 94.5px,#fcd710 98.5px)"></i><i style="left:75px;width:1px;background:linear-gradient(#9217d6 0.5px,#9019d7 38.5px,#871fd8 57.5px,#6d33e1 63.5px,#4759e8 69.5px,#4061e7 70.5px,#3c78be 74.5px,#368e85 78.5px,#319567 80.5px,#4ca94f 83.5px,#78b040 86.5px,#c0c722 90.5px,#ded21b 92.5px,#e8d719 93.5px,#f9d812 98.5px)"></i><i style="left:76px;width:1px;background:linear-gradient(#9217d6 0.5px,#9019d7 38.5px,#861fd9 57.5px,#6c34e1 63.5px,#4d53e8 68.5px,#4061e6 70.5px,#3c79bd 74.5px,#358f83 78.5px,#319567 80.5px,#4ca94f 83.5px,#76b041 86.5px,#bbc523 90.5px,#e1d41b 93.5px,#edd817 95.5px,#f5d814 98.5px)"></i><i style="left:77px;width:1px;background:linear-gradient(#9217d6 0.5px,#8f19d7 39.5px,#8620d9 57.5px,#6b35e2 63.5px,#4c54e8 68.5px,#4062e5 70.5px,#3c79bc 74.5px,#358f83 78.5px,#319567 80.5px,#4ca94f 83.5px,#84b43b 87.5px,#b6c425 90.5px,#e1d41b 94.5px,#efd817 97.5px,#f1d816 98.5px)"></i><i style="left:78px;width:1px;background:linear-gradient(#9317d6 0.5px,#8f19d7 39.5px,#8520d9 57.5px,#6a36e2 63.5px,#4c54e8 68.5px,#4062e5 70.5px,#3c7abb 74.5px,#358f82 78.5px,#319567 80.5px,#4ca94f 83.5px,#80b33c 87.5px,#b1c227 90.5px,#d8d01d 94.5px,#e9d719 97.5px,#edd818 98.5px)"></i><i style="left:79px;width:1px;background:linear-gradient(#9317d6 0.5px,#8f19d7 39.5px,#871fd8 56.5px,#6937e2 63.5px,#4b55e8 68.5px,#4062e5 70.5px,#3c7abb 74.5px,#358f82 78.5px,#319567 80.5px,#4ba94f 83.5px,#7cb13e 87.5px,#b8c424 91.5px,#ded21b 96.5px,#e7d619 98.5px)"></i><i style="left:80px;width:1px;background:linear-gradient(#9317d6 0.5px,#8f19d7 40.5px,#861fd9 56.5px,#6937e2 63.5px,#4b55e8 68.5px,#4062e5 70.5px,#3c7abb 74.5px,#358f82 78.5px,#319567 80.5px,#4ba84f 83.5px,#78b040 87.5px,#b1c227 91.5px,#d7d01d 96.5px,#e1d41b 98.5px)"></i><i style="left:81px;width:1px;background:linear-gradient(#9317d6 0.5px,#8f19d7 40.5px,#8620d9 56.5px,#6838e3 63.5px,#4a56e8 68.5px,#4062e5 70.5px,#3c7abb 74.5px,#358f82 78.5px,#319567 80.5px,#4aa84f 83.5px,#82b33c 88.5px,#b5c325 92.5px,#dbd11c 98.5px)"></i><i style="left:82px;width:1px;background:linear-gradient(#9317d6 0.5px,#8f19d7 40.5px,#8521d9 56.5px,#6739e3 63.5px,#4a56e8 68.5px,#4062e5 70.5px,#3c7abb 74.5px,#358f82 78.5px,#319567 80.5px,#4aa84f 83.5px,#7db23e 88.5px,#b8c424 93.5px,#d5cf1d 98.5px)"></i><i style="left:83px;width:1px;background:linear-gradient(#9317d6 0.5px,#8f19d7 40.5px,#871fd8 55.5px,#6b35e2 62.5px,#4a56e8 68.5px,#4062e5 70.5px,#3c79bb 74.5px,#358f83 78.5px,#319567 80.5px,#49a850 83.5px,#85b43b 89.5px,#b1c227 93.5px,#cfcd1f 98.5px)"></i><i style="left:84px;width:1px;background:linear-gradient(#9316d6 0.5px,#8f19d7 40.5px,#8620d9 55.5px,#6b35e2 62.5px,#4a56e8 68.5px,#4062e5 70.5px,#3c79bc 74.5px,#368e84 78.5px,#309468 80.5px,#47a851 83.5px,#8ab638 90.5px,#b3c226 94.5px,#cacb20 98.5px)"></i><i style="left:85px;width:1px;background:linear-gradient(#9316d6 0.5px,#8f19d7 41.5px,#8520d9 55.5px,#6a36e2 62.5px,#4a56e8 68.5px,#4062e5 70.5px,#3c78bd 74.5px,#368e85 78.5px,#309469 80.5px,#47a751 83.5px,#84b43b 90.5px,#b3c226 95.5px,#c4c821 98.5px)"></i><i style="left:86px;width:1px;background:linear-gradient(#9416d6 0.5px,#8f19d7 41.5px,#871fd8 54.5px,#6937e2 62.5px,#445ce8 69.5px,#4062e5 70.5px,#3c78be 74.5px,#368e86 78.5px,#30946a 80.5px,#46a752 83.5px,#88b539 91.5px,#b2c227 96.5px,#bec623 98.5px)"></i><i style="left:87px;width:1px;background:linear-gradient(#9416d6 0.5px,#8f19d7 41.5px,#861fd9 54.5px,#6838e3 62.5px,#445ce8 69.5px,#4062e5 70.5px,#3c77bf 74.5px,#368e87 78.5px,#31936b 80.5px,#45a653 83.5px,#8bb638 92.5px,#b7c424 98.5px)"></i><i style="left:88px;width:1px;background:linear-gradient(#9316d4 0.5px,#9019d7 39.5px,#8520d9 54.5px,#6838e3 62.5px,#445ce8 69.5px,#4062e5 70.5px,#3c77c0 74.5px,#368e87 78.5px,#31936c 80.5px,#45a553 83.5px,#94b934 94.5px,#b0c128 98.5px)"></i><i style="left:89px;width:1px;background:linear-gradient(#9015d1 0.5px,#9416d6 25.5px,#891dd8 51.5px,#8123da 55.5px,#633de4 63.5px,#445ce8 69.5px,#4062e5 70.5px,#3c76c1 74.5px,#368e88 78.5px,#31936d 80.5px,#3d9e5b 82.5px,#4ba84f 84.5px,#86b43a 93.5px,#a8bf2b 98.5px)"></i><i style="left:90px;width:1px;background:linear-gradient(#8e15cd 0.5px,#9416d6 25.5px,#8a1dd8 50.5px,#8421d9 54.5px,#633de4 63.5px,#445ce8 69.5px,#4061e6 70.5px,#3c76c2 74.5px,#368e88 78.5px,#31936e 80.5px,#349764 81.5px,#49a850 84.5px,#86b43a 94.5px,#a0bc2f 98.5px)"></i><i style="left:91px;width:1px;background:linear-gradient(#8b14c9 0.5px,#9416d6 29.5px,#881ed8 52.5px,#663ae3 62.5px,#4a56e8 68.5px,#4061e7 70.5px,#3c75c2 74.5px,#378d89 78.5px,#339665 81.5px,#48a850 84.5px,#8cb637 96.5px,#97ba32 98.5px)"></i><i style="left:92px;width:1px;background:linear-gradient(#8814c5 0.5px,#9317d6 33.5px,#881ed8 52.5px,#663ae3 62.5px,#4a56e8 68.5px,#4060e7 70.5px,#3c75c3 74.5px,#378d89 78.5px,#329566 81.5px,#47a751 84.5px,#8fb736 98.5px)"></i><i style="left:93px;width:1px;background:linear-gradient(#8613c2 0.5px,#9316d6 34.5px,#871fd8 52.5px,#653be4 62.5px,#5050e8 67.5px,#4060e7 70.5px,#3c74c4 74.5px,#378d8b 78.5px,#309468 81.5px,#46a652 84.5px,#87b53a 98.5px)"></i><i style="left:94px;width:1px;background:linear-gradient(#8313be 0.5px,#9015d1 28.5px,#9317d6 38.5px,#861fd9 52.5px,#653be4 62.5px,#5050e8 67.5px,#4060e7 70.5px,#3c73c6 74.5px,#388c8f 78.5px,#31936c 81.5px,#44a554 84.5px,#73af42 95.5px,#7eb23d 98.5px)"></i><i style="left:95px;width:1px;background:linear-gradient(#8112bb 0.5px,#8c14cb 26.5px,#9316d6 37.5px,#8620d9 52.5px,#643ce4 62.5px,#4f51e8 67.5px,#4060e7 70.5px,#3c72c8 74.5px,#388b92 78.5px,#339665 82.5px,#46a752 85.5px,#75af41 97.5px,#77b040 98.5px)"></i><i style="left:96px;width:1px;background:linear-gradient(#7e12b7 0.5px,#8a14c7 26.5px,#9316d6 39.5px,#8520d9 52.5px,#6040e5 63.5px,#4060e7 70.5px,#3c71c9 74.5px,#398a96 78.5px,#309469 82.5px,#47a751 86.5px,#70af43 97.5px,#72af42 98.5px)"></i><i style="left:97px;width:1px;background:linear-gradient(#7a12b2 0.5px,#8914c6 28.5px,#9317d6 41.5px,#8421d9 52.5px,#5f41e6 63.5px,#4061e6 70.5px,#3c71cb 74.5px,#388c8f 79.5px,#31936e 82.5px,#399c5f 84.5px,#48a850 87.5px,#6dae44 98.5px)"></i><i style="left:98px;width:1px;background:linear-gradient(#7711ad 0.5px,#8a14c8 32.5px,#9416d6 41.5px,#8421d9 52.5px,#5b45e7 64.5px,#4061e6 70.5px,#3c75c2 75.5px,#388b93 79.5px,#309469 83.5px,#46a652 87.5px,#69ae45 98.5px)"></i><i style="left:99px;width:1px;background:linear-gradient(#7311a8 0.5px,#8914c6 34.5px,#9317d6 42.5px,#8421d9 52.5px,#564ae8 65.5px,#4062e5 70.5px,#3c74c4 75.5px,#398a96 79.5px,#329666 84.5px,#46a752 88.5px,#65ad46 98.5px)"></i><i style="left:100px;width:1px;background:linear-gradient(#7011a4 0.5px,#7d12b6 22.5px,#8a14c8 37.5px,#9416d6 42.5px,#871fd8 51.5px,#564ae8 65.5px,#425ee8 69.5px,#3c73c6 75.5px,#388c90 80.5px,#30946a 84.5px,#47a751 89.5px,#61ac48 98.5px)"></i><i style="left:101px;width:1px;background:linear-gradient(#6e11a1 0.5px,#7812b0 21.5px,#8814c5 37.5px,#9416d6 42.5px,#871fd8 51.5px,#554be8 65.5px,#415fe8 69.5px,#3c73c8 75.5px,#388b93 80.5px,#319567 85.5px,#46a752 90.5px,#5dab49 98.5px)"></i><i style="left:102px;width:1px;background:linear-gradient(#6c119e 0.5px,#7511ab 21.5px,#8313be 35.5px,#8b14c9 39.5px,#9316d6 43.5px,#861fd9 51.5px,#5c44e7 63.5px,#4060e8 69.5px,#3c72c9 75.5px,#388c8e 81.5px,#329666 86.5px,#49a850 92.5px,#59ab4a 98.5px)"></i><i style="left:103px;width:1px;background:linear-gradient(#6a119b 0.5px,#7311a8 22.5px,#8613c3 38.5px,#9416d6 43.5px,#861fd9 51.5px,#653be4 60.5px,#4e52e8 66.5px,#4060e8 69.5px,#3c71ca 75.5px,#388b91 81.5px,#31936b 86.5px,#48a850 93.5px,#55aa4c 98.5px)"></i><i style="left:104px;width:1px;background:linear-gradient(#671198 0.5px,#7211a7 24.5px,#8814c5 39.5px,#9316d5 43.5px,#861fd9 51.5px,#6a36e2 58.5px,#524ee8 65.5px,#4061e7 69.5px,#3c71cb 75.5px,#378d8d 82.5px,#30946a 87.5px,#47a751 94.5px,#51a94d 98.5px)"></i><i style="left:105px;width:1px;background:linear-gradient(#651195 0.5px,#7011a4 24.5px,#8413bf 38.5px,#9416d6 44.5px,#8620d9 51.5px,#6c34e1 57.5px,#514fe8 65.5px,#4061e7 69.5px,#3c74c5 76.5px,#388c90 82.5px,#309469 88.5px,#48a850 96.5px,#4ca94f 98.5px)"></i><i style="left:106px;width:1px;background:linear-gradient(#631092 0.5px,#6e11a1 24.5px,#7912b0 33.5px,#8b14c9 41.5px,#9416d6 44.5px,#8520d9 51.5px,#6c34e1 57.5px,#5050e8 65.5px,#4061e6 69.5px,#3c73c7 76.5px,#398a94 82.5px,#30946a 89.5px,#46a652 97.5px,#48a850 98.5px)"></i><i style="left:107px;width:1px;background:linear-gradient(#61108f 0.5px,#6c119f 24.5px,#7611ac 33.5px,#9317d6 45.5px,#8421d9 51.5px,#6b35e2 57.5px,#4f51e8 65.5px,#4061e6 69.5px,#3c72c8 76.5px,#388b93 83.5px,#319567 91.5px,#44a554 98.5px)"></i><i style="left:108px;width:1px;background:linear-gradient(#5f108c 0.5px,#69119a 22.5px,#7511ab 34.5px,#9416d6 45.5px,#8321da 51.5px,#6a36e2 57.5px,#4f51e8 65.5px,#4061e6 69.5px,#3c72c9 76.5px,#398998 83.5px,#309468 92.5px,#3fa159 98.5px)"></i><i style="left:109px;width:1px;background:linear-gradient(#5d108a 0.5px,#661196 21.5px,#7311a8 34.5px,#8413bf 40.5px,#9316d5 45.5px,#881ed8 50.5px,#6d33e1 56.5px,#4e52e8 65.5px,#4062e5 69.5px,#3c74c4 77.5px,#388c91 85.5px,#319567 94.5px,#3a9d5e 98.5px)"></i><i style="left:110px;width:1px;background:linear-gradient(#5c1087 0.5px,#641093 21.5px,#7111a5 34.5px,#9317d6 46.5px,#8223da 51.5px,#6937e2 57.5px,#4957e8 66.5px,#4062e5 69.5px,#3c73c6 77.5px,#398a96 85.5px,#319567 96.5px,#359863 98.5px)"></i><i style="left:111px;width:1px;background:linear-gradient(#5a1085 0.5px,#621090 21.5px,#7211a7 35.5px,#9316d6 46.5px,#8123da 51.5px,#6838e3 57.5px,#4858e8 66.5px,#4062e5 69.5px,#3c75c3 78.5px,#388c91 87.5px,#309468 98.5px)"></i><i style="left:112px;width:1px;background:linear-gradient(#581082 0.5px,#621090 23.5px,#7111a5 35.5px,#8d15cc 44.5px,#9316d6 46.5px,#8024db 51.5px,#6838e3 57.5px,#4858e8 66.5px,#4062e5 69.5px,#3c74c5 78.5px,#398a96 87.5px,#31936f 98.5px)"></i><i style="left:113px;width:1px;background:linear-gradient(#571080 0.5px,#61108f 24.5px,#7011a4 35.5px,#8814c5 43.5px,#9317d6 46.5px,#8520d9 50.5px,#6e32e1 55.5px,#4b55e8 65.5px,#4062e5 69.5px,#3c73c7 78.5px,#39889b 87.5px,#339177 98.5px)"></i><i style="left:114px;width:1px;background:linear-gradient(#55107e 0.5px,#5f108d 24.5px,#6d11a0 34.5px,#7b12b3 39.5px,#8c14cb 44.5px,#9317d6 46.5px,#8421d9 50.5px,#6d33e1 55.5px,#4a56e8 65.5px,#3f62e4 69.5px,#3c74c5 79.5px,#39889c 88.5px,#358f7f 98.5px)"></i><i style="left:115px;width:1px;background:linear-gradient(#54107b 0.5px,#5d1089 22.5px,#661196 31.5px,#7611ac 38.5px,#8d15cc 44.5px,#9217d6 46.5px,#8322da 50.5px,#6c34e1 55.5px,#4a56e8 65.5px,#3f62e4 69.5px,#3c73c7 79.5px,#3a86a1 88.5px,#368e87 98.5px)"></i><i style="left:116px;width:1px;background:linear-gradient(#53117a 0.5px,#591084 19.5px,#621091 30.5px,#7411aa 38.5px,#8d15cc 44.5px,#9216d4 45.5px,#881ed8 49.5px,#6f31e0 54.5px,#4957e8 65.5px,#3f62e4 69.5px,#3c74c4 80.5px,#3a85a2 89.5px,#388c8e 98.5px)"></i><i style="left:117px;width:1px;background:linear-gradient(#53117a 0.5px,#56107f 17.5px,#631091 31.5px,#7311a7 38.5px,#9316d4 45.5px,#881ed8 49.5px,#6e32e1 54.5px,#4c54e8 64.5px,#4061e7 68.5px,#3c73c7 80.5px,#3a85a3 90.5px,#388b92 98.5px)"></i><i style="left:118px;width:1px;background:linear-gradient(#53117a 0.5px,#55107d 17.5px,#621090 31.5px,#7611ab 39.5px,#9316d5 45.5px,#871fd8 49.5px,#6e32e1 54.5px,#4c54e8 64.5px,#4061e7 68.5px,#3c74c4 81.5px,#3a86a1 92.5px,#398a95 98.5px)"></i><i style="left:119px;width:1px;background:linear-gradient(#53117a 0.5px,#54107c 18.5px,#631091 32.5px,#7511ab 39.5px,#9416d6 45.5px,#8620d9 49.5px,#6d33e1 54.5px,#4b55e8 64.5px,#4061e7 68.5px,#3c75c3 82.5px,#3a86a0 94.5px,#398998 98.5px)"></i><i style="left:120px;width:1px;background:linear-gradient(#53117a 0.5px,#55107d 20.5px,#621090 32.5px,#7511ab 39.5px,#9416d6 45.5px,#8521d9 49.5px,#7030e0 53.5px,#4b55e8 64.5px,#4061e6 68.5px,#3c76c2 83.5px,#3a869f 96.5px,#39889b 98.5px)"></i><i style="left:121px;width:1px;background:linear-gradient(#53117a 0.5px,#54107c 21.5px,#631092 33.5px,#7511ab 39.5px,#9316d6 45.5px,#8321da 49.5px,#6c34e1 54.5px,#4a56e8 64.5px,#4061e6 68.5px,#3c76c1 84.5px,#3a879e 98.5px)"></i><i style="left:122px;width:1px;background:linear-gradient(#53117a 0.5px,#54107b 22.5px,#621091 33.5px,#7511ab 39.5px,#9317d6 45.5px,#8322da 49.5px,#6f31e0 53.5px,#4d53e8 63.5px,#4061e6 68.5px,#3c77c0 85.5px,#3a86a0 98.5px)"></i><i style="left:123px;width:1px;background:linear-gradient(#53117a 0.5px,#55107d 24.5px,#641093 34.5px,#7511ab 39.5px,#8914c7 43.5px,#9317d6 45.5px,#881ed8 48.5px,#722fdf 52.5px,#4d53e8 63.5px,#4061e6 68.5px,#3c78bd 87.5px,#3a85a3 98.5px)"></i><i style="left:124px;width:1px;background:linear-gradient(#53117a 0.5px,#53117b 24.5px,#631092 34.5px,#7611ac 39.5px,#8a14c8 43.5px,#9115d2 44.5px,#8f1ad7 46.5px,#881ed8 48.5px,#712fe0 52.5px,#4c54e8 63.5px,#4061e6 68.5px,#3c78bd 88.5px,#3b84a6 98.5px)"></i><i style="left:125px;width:1px;background:linear-gradient(#53117a 0.5px,#54107c 25.5px,#621091 34.5px,#7c12b4 40.5px,#8a14c9 43.5px,#9115d2 44.5px,#8b1cd8 47.5px,#7030e0 52.5px,#4c54e8 63.5px,#4061e6 68.5px,#3c77c0 88.5px,#3b83a9 98.5px)"></i><i style="left:126px;width:1px;background:linear-gradient(#53117a 0.5px,#54107c 25.5px,#621091 34.5px,#7c12b4 40.5px,#8b14ca 43.5px,#9216d4 44.5px,#8520d9 48.5px,#7030e0 52.5px,#4f51e8 62.5px,#4061e6 68.5px,#3c77c0 89.5px,#3c81ac 98.5px)"></i><i style="left:127px;width:1px;background:linear-gradient(#53117a 0.5px,#54107c 25.5px,#631091 34.5px,#7711ad 39.5px,#8c14cb 43.5px,#9316d5 44.5px,#8421d9 48.5px,#6f31e0 52.5px,#4e52e8 62.5px,#4061e7 68.5px,#3c77c0 90.5px,#3c80af 98.5px)"></i><i style="left:128px;width:1px;background:linear-gradient(#53117a 0.5px,#53117a 24.5px,#631092 34.5px,#7d12b5 40.5px,#8d15cc 43.5px,#9416d6 44.5px,#8421d9 48.5px,#6f31e0 52.5px,#4e52e8 62.5px,#4061e7 68.5px,#3c77c1 91.5px,#3c7fb3 98.5px)"></i><i style="left:129px;width:1px;background:linear-gradient(#53117a 0.5px,#53117b 24.5px,#641093 34.5px,#7d12b6 40.5px,#8613c2 42.5px,#9416d6 44.5px,#8322da 48.5px,#6e32e1 52.5px,#4f51e8 62.5px,#4060e8 68.5px,#3c77bf 93.5px,#3c7db6 98.5px)"></i><i style="left:130px;width:1px;background:linear-gradient(#53117a 0.5px,#53117b 24.5px,#61108f 33.5px,#7812af 39.5px,#8613c2 42.5px,#9317d6 44.5px,#891dd8 47.5px,#722fdf 51.5px,#4f51e8 62.5px,#4061e7 69.5px,#3c79bc 96.5px,#3c7bb9 98.5px)"></i><i style="left:131px;width:1px;background:linear-gradient(#53117a 0.5px,#54107b 24.5px,#621090 33.5px,#7311a8 38.5px,#8713c4 42.5px,#9317d6 44.5px,#891ed8 47.5px,#762cde 50.5px,#5050e8 62.5px,#4061e7 70.5px,#3c79bc 98.5px)"></i><i style="left:132px;width:1px;background:linear-gradient(#53117a 0.5px,#54107b 23.5px,#631091 33.5px,#7411a9 38.5px,#8814c6 42.5px,#9015d1 43.5px,#8f19d7 45.5px,#881ed8 47.5px,#752cde 50.5px,#514fe8 62.5px,#4060e7 70.5px,#3c77bf 98.5px)"></i><i style="left:133px;width:1px;background:linear-gradient(#53117a 0.5px,#54107c 22.5px,#61108e 32.5px,#7511ab 38.5px,#8a14c8 42.5px,#9216d3 43.5px,#881ed8 47.5px,#712fe0 51.5px,#514fe8 62.5px,#4061e7 71.5px,#3c76c2 98.5px)"></i><i style="left:134px;width:1px;background:linear-gradient(#53117a 0.5px,#55107d 21.5px,#611090 32.5px,#7712ae 38.5px,#8c14ca 42.5px,#9316d5 43.5px,#881ed8 47.5px,#7130e0 51.5px,#524ee8 62.5px,#4061e7 72.5px,#3c74c5 98.5px)"></i><i style="left:135px;width:1px;background:linear-gradient(#53117a 0.5px,#55107d 19.5px,#631092 32.5px,#7912b1 38.5px,#8613c3 41.5px,#9416d6 43.5px,#871fd8 47.5px,#7030e0 51.5px,#524ee8 62.5px,#4061e7 73.5px,#3c72c9 98.5px)"></i><i style="left:136px;width:1px;background:linear-gradient(#53117a 0.5px,#55107d 17.5px,#631091 31.5px,#7711ad 37.5px,#8814c5 41.5px,#9316d6 43.5px,#871fd8 47.5px,#742ddf 50.5px,#544ce8 61.5px,#4060e8 73.5px,#3c70cc 98.5px)"></i><i style="left:137px;width:1px;background:linear-gradient(#54107b 0.5px,#56107f 16.5px,#631092 30.5px,#7411aa 36.5px,#8914c7 41.5px,#9317d6 43.5px,#8620d9 47.5px,#742ddf 50.5px,#554be8 61.5px,#4060e7 75.5px,#3c6ecf 98.5px)"></i><i style="left:138px;width:1px;background:linear-gradient(#55107d 0.5px,#581082 16.5px,#631092 29.5px,#7611ac 36.5px,#8b14c9 41.5px,#9115d2 42.5px,#9019d7 44.5px,#8520d9 47.5px,#7030e0 51.5px,#554be8 61.5px,#4060e8 76.5px,#3d6cd3 98.5px)"></i><i style="left:139px;width:1px;background:linear-gradient(#571080 0.5px,#5b1086 18.5px,#641093 28.5px,#7411a9 35.5px,#8c14cb 41.5px,#9216d3 42.5px,#8a1dd8 46.5px,#7030e0 51.5px,#554be8 61.5px,#4060e8 78.5px,#3e6ad7 98.5px)"></i><i style="left:140px;width:1px;background:linear-gradient(#581082 0.5px,#5f108c 23.5px,#6f11a3 33.5px,#8713c4 40.5px,#9316d5 42.5px,#8521d9 47.5px,#6f31e0 51.5px,#554be8 61.5px,#4060e7 80.5px,#3e68db 98.5px)"></i><i style="left:141px;width:1px;background:linear-gradient(#5a1085 0.5px,#621090 24.5px,#7411a9 34.5px,#8914c6 40.5px,#9416d6 42.5px,#8421d9 47.5px,#6f31e0 51.5px,#564ae8 61.5px,#4060e7 82.5px,#3f65de 98.5px)"></i><i style="left:142px;width:1px;background:linear-gradient(#5b1087 0.5px,#641093 23.5px,#7311a7 33.5px,#8a14c8 40.5px,#9416d6 42.5px,#8322da 47.5px,#6f31e0 51.5px,#5749e8 60.5px,#4060e8 85.5px,#3f63e2 98.5px)"></i><i style="left:143px;width:1px;background:linear-gradient(#5d108a 0.5px,#651195 22.5px,#7511aa 33.5px,#8112bc 37.5px,#8b14c9 40.5px,#9316d6 42.5px,#891dd8 46.5px,#722edf 50.5px,#5848e8 60.5px,#425ee8 85.5px,#4061e6 98.5px)"></i><i style="left:144px;width:1px;background:linear-gradient(#5f108c 0.5px,#651094 18.5px,#7311a8 31.5px,#8814c5 39.5px,#9317d6 42.5px,#891ed8 46.5px,#722edf 50.5px,#5848e8 60.5px,#455be8 85.5px,#415fe8 98.5px)"></i><i style="left:145px;width:1px;background:linear-gradient(#60108e 0.5px,#651094 15.5px,#7411a9 30.5px,#8914c7 39.5px,#9317d6 42.5px,#881ed8 46.5px,#722fdf 50.5px,#5848e8 61.5px,#4759e8 84.5px,#445ce8 98.5px)"></i><i style="left:146px;width:1px;background:linear-gradient(#621090 0.5px,#641092 12.5px,#7611ac 30.5px,#8b14c9 39.5px,#9317d6 42.5px,#881ed8 46.5px,#722fdf 50.5px,#5a46e7 61.5px,#4957e8 84.5px,#465ae8 98.5px)"></i><i style="left:147px;width:1px;background:linear-gradient(#631092 0.5px,#641093 11.5px,#7611ac 29.5px,#8f15d0 40.5px,#9217d6 42.5px,#881ed8 46.5px,#722fdf 50.5px,#5a46e7 61.5px,#4b55e8 86.5px,#4858e8 98.5px)"></i><i style="left:148px;width:1px;background:linear-gradient(#641093 0.5px,#631092 9.5px,#7111a5 23.5px,#7712ae 29.5px,#9015d0 40.5px,#9217d6 42.5px,#871ed8 46.5px,#712fe0 50.5px,#5a46e7 62.5px,#4b55e8 97.5px,#4b55e8 98.5px)"></i><i style="left:149px;width:1px;background:linear-gradient(#651195 0.5px,#631092 8.5px,#6b119d 15.5px,#7111a5 21.5px,#7611ad 28.5px,#8413c0 34.5px,#9115d1 40.5px,#9217d6 42.5px,#871ed8 46.5px,#712fe0 50.5px,#5b45e7 62.5px,#5050e8 86.5px,#4c54e8 96.5px,#4d53e8 98.5px)"></i><i style="left:150px;width:1px;background:linear-gradient(#661197 0.5px,#631091 7.5px,#6a119b 14.5px,#7011a4 17.5px,#7511ab 27.5px,#8513c0 34.5px,#9115d2 40.5px,#9416d6 41.5px,#871fd8 46.5px,#712fe0 50.5px,#5b45e7 62.5px,#554be8 85.5px,#4d53e8 90.5px,#4f51e8 98.5px)"></i></div><div class="p" style="left:233px;top:4px"><i style="left:0px;width:1px;background:linear-gradient(#bd3618 0.5px,#bf3818 59.5px,#bd3618 79.5px,#c23e18 80.5px,#dc6211 81.5px,#ec9614 82.5px,#f8c710 83.5px,#d4cf1e 84.5px,#87b53a 85.5px,#57aa4b 86.5px,#49a850 87.5px,#50a94d 88.5px,#7fb23d 89.5px,#d0cd1e 90.5px,#fad811 91.5px,#f1a614 94.5px,#ea9014 98.5px)"></i><i style="left:1px;width:1px;background:linear-gradient(#bd3618 0.5px,#bf3818 59.5px,#bd3618 79.5px,#c23d18 80.5px,#d95f12 81.5px,#eb9314 82.5px,#f8c610 83.5px,#d3cf1e 84.5px,#84b43b 85.5px,#55aa4c 86.5px,#49a850 87.5px,#4da94e 88.5px,#73af42 89.5px,#c5c921 90.5px,#f6d813 91.5px,#f9ca10 92.5px,#f1aa13 94.5px,#ec9714 97.5px,#eb9214 98.5px)"></i><i style="left:2px;width:1px;background:linear-gradient(#bd3618 0.5px,#bf3818 59.5px,#bd3618 79.5px,#c03b18 80.5px,#d55914 81.5px,#e98f14 82.5px,#f7c311 83.5px,#d3ce1e 84.5px,#80b23d 85.5px,#52aa4d 86.5px,#48a850 87.5px,#4ba94f 88.5px,#69ad45 89.5px,#b7c424 90.5px,#efd816 91.5px,#facf10 92.5px,#f3b013 94.5px,#f0a414 95.5px,#eb9514 98.5px)"></i><i style="left:3px;width:1px;background:linear-gradient(#bd3618 0.5px,#bf3818 59.5px,#bd3618 79.5px,#c03a18 80.5px,#d15415 81.5px,#e88c14 82.5px,#f7c211 83.5px,#d3ce1e 84.5px,#7eb23d 85.5px,#51aa4d 86.5px,#48a850 87.5px,#4aa84f 88.5px,#60ac48 89.5px,#a7bf2c 90.5px,#e6d619 91.5px,#fbd410 92.5px,#f1a913 95.5px,#ec9814 98.5px)"></i><i style="left:4px;width:1px;background:linear-gradient(#bd3618 0.5px,#bf3918 58.5px,#bd3618 79.5px,#c03a18 80.5px,#d15315 81.5px,#e88b14 82.5px,#f7c211 83.5px,#d3ce1e 84.5px,#7eb23e 85.5px,#51aa4d 86.5px,#48a850 87.5px,#49a850 88.5px,#5aab4a 89.5px,#97ba32 90.5px,#dbd11c 91.5px,#fbd811 92.5px,#f2af13 95.5px,#ef9f14 97.5px,#ed9b14 98.5px)"></i><i style="left:5px;width:1px;background:linear-gradient(#bd3618 0.5px,#bf3918 58.5px,#bd3618 79.5px,#c03a18 80.5px,#d05315 81.5px,#e88b14 82.5px,#f7c211 83.5px,#d3ce1e 84.5px,#7eb23e 85.5px,#51aa4d 86.5px,#48a850 87.5px,#49a850 88.5px,#54aa4c 89.5px,#88b539 90.5px,#cfcd1f 91.5px,#f6d813 92.5px,#face10 93.5px,#f1ab13 96.5px,#ee9e14 98.5px)"></i><i style="left:6px;width:1px;background:linear-gradient(#bd3618 0.5px,#bf3918 58.5px,#bd3618 79.5px,#c03a18 80.5px,#d05315 81.5px,#e88b14 82.5px,#f7c211 83.5px,#d3ce1e 84.5px,#7eb23e 85.5px,#51aa4d 86.5px,#48a850 87.5px,#48a850 88.5px,#51a94d 89.5px,#7bb13f 90.5px,#c3c822 91.5px,#efd816 92.5px,#fbd310 93.5px,#f1a814 97.5px,#efa214 98.5px)"></i><i style="left:7px;width:1px;background:linear-gradient(#bd3618 0.5px,#bf3918 57.5px,#bd3618 79.5px,#c03a18 80.5px,#d05315 81.5px,#e88b14 82.5px,#f7c211 83.5px,#d3ce1e 84.5px,#7eb23e 85.5px,#51aa4d 86.5px,#48a850 87.5px,#48a850 88.5px,#4ea94e 89.5px,#70af43 90.5px,#b6c325 91.5px,#e5d51a 92.5px,#fbd810 93.5px,#f0a614 98.5px)"></i><i style="left:8px;width:1px;background:linear-gradient(#bd3618 0.5px,#bf3918 57.5px,#bd3618 79.5px,#c03a18 80.5px,#d05315 81.5px,#e88b14 82.5px,#f7c211 83.5px,#d3ce1e 84.5px,#7eb23e 85.5px,#51aa4d 86.5px,#48a850 87.5px,#4ba94f 89.5px,#67ad46 90.5px,#a8bf2b 91.5px,#d9d11c 92.5px,#f4d814 93.5px,#fbd310 94.5px,#f2ac13 98.5px)"></i><i style="left:9px;width:1px;background:linear-gradient(#bd3618 0.5px,#bf3918 56.5px,#bd3618 79.5px,#bf3a18 80.5px,#d05215 81.5px,#e88a14 82.5px,#f7c211 83.5px,#d3ce1e 84.5px,#7db23e 85.5px,#51a94d 86.5px,#48a850 87.5px,#4aa84f 89.5px,#5eac49 90.5px,#98ba32 91.5px,#cccc1f 92.5px,#ebd818 93.5px,#fbd811 94.5px,#f3b212 98.5px)"></i><i style="left:10px;width:1px;background:linear-gradient(#bd3618 0.5px,#bf3918 56.5px,#bd3618 79.5px,#bf3918 80.5px,#cf5116 81.5px,#e88b14 82.5px,#f7c311 83.5px,#d1ce1e 84.5px,#7cb13e 85.5px,#51a94d 86.5px,#48a850 87.5px,#49a850 89.5px,#55aa4c 90.5px,#84b43b 91.5px,#bec623 92.5px,#dcd21c 93.5px,#f3d815 94.5px,#fbd510 95.5px,#f5b812 98.5px)"></i><i style="left:11px;width:1px;background:linear-gradient(#bd3618 0.5px,#bf3918 55.5px,#bd3618 79.5px,#bf3a18 80.5px,#d05315 81.5px,#e98d14 82.5px,#f8c910 83.5px,#c9ca20 84.5px,#75b041 85.5px,#4fa94e 86.5px,#48a850 87.5px,#48a850 89.5px,#4da94e 90.5px,#6bae44 91.5px,#a1bd2e 92.5px,#c9ca20 93.5px,#e6d619 94.5px,#f8d812 95.5px,#f8c710 97.5px,#f6bf11 98.5px)"></i><i style="left:12px;width:1px;background:linear-gradient(#bd3618 0.5px,#bf3918 55.5px,#bd3618 79.5px,#c03b18 80.5px,#d65a13 81.5px,#eb9414 82.5px,#fad110 83.5px,#bcc623 84.5px,#6dae44 85.5px,#4ca94f 86.5px,#47a751 88.5px,#48a850 90.5px,#55aa4c 91.5px,#79b03f 92.5px,#afc128 93.5px,#d2ce1e 94.5px,#eed817 95.5px,#fcd710 96.5px,#f7c510 98.5px)"></i><i style="left:13px;width:1px;background:linear-gradient(#bd3618 0.5px,#bf3918 54.5px,#bd3618 79.5px,#c23e18 80.5px,#dc6311 81.5px,#ed9c14 82.5px,#fcd810 83.5px,#b3c226 84.5px,#67ad46 85.5px,#4ba84f 86.5px,#47a751 89.5px,#4aa84f 91.5px,#5eac49 92.5px,#8ab638 93.5px,#b9c424 94.5px,#dbd11c 95.5px,#f4d814 96.5px,#fbd310 97.5px,#f9cb10 98.5px)"></i><i style="left:14px;width:1px;background:linear-gradient(#bd3618 0.5px,#bf3918 54.5px,#bd3618 79.5px,#c34018 80.5px,#e16c10 81.5px,#f0a414 82.5px,#f2d815 83.5px,#a4be2d 84.5px,#60ac48 85.5px,#49a850 86.5px,#47a751 91.5px,#4ea94e 92.5px,#68ad45 93.5px,#c2c822 95.5px,#e2d41a 96.5px,#f7d813 97.5px,#fbd210 98.5px)"></i><i style="left:15px;width:1px;background:linear-gradient(#bd3618 0.5px,#bf3a18 53.5px,#be3718 79.5px,#c54418 80.5px,#e37511 81.5px,#f2ad13 82.5px,#ecd818 83.5px,#99ba32 84.5px,#5bab4a 85.5px,#48a850 86.5px,#47a751 92.5px,#54aa4c 93.5px,#73af42 94.5px,#a2bd2e 95.5px,#c7ca20 96.5px,#e6d619 97.5px,#f7d812 98.5px)"></i><i style="left:16px;width:1px;background:linear-gradient(#bd3618 0.5px,#bf3a18 52.5px,#be3818 79.5px,#c84818 80.5px,#e57e13 81.5px,#f4b712 82.5px,#dfd31b 83.5px,#8db637 84.5px,#56aa4b 85.5px,#47a751 86.5px,#44a554 91.5px,#49a850 93.5px,#5cab49 94.5px,#80b23d 95.5px,#acc029 96.5px,#cdcc1f 97.5px,#e8d719 98.5px)"></i><i style="left:17px;width:1px;background:linear-gradient(#bd3618 0.5px,#c03a18 52.5px,#bd3618 78.5px,#bf3918 79.5px,#cc4e17 80.5px,#e78814 81.5px,#f6c111 82.5px,#d4cf1e 83.5px,#80b23d 84.5px,#51a94d 85.5px,#46a652 86.5px,#42a356 91.5px,#45a653 93.5px,#4da94e 94.5px,#65ad46 95.5px,#b2c227 97.5px,#cfcd1f 98.5px)"></i><i style="left:18px;width:1px;background:linear-gradient(#bd3618 0.5px,#c03a18 51.5px,#bd3618 78.5px,#c03a18 79.5px,#d35614 80.5px,#ea9014 81.5px,#f8c910 82.5px,#c9cb20 83.5px,#77b040 84.5px,#4da94e 85.5px,#44a554 86.5px,#3fa059 90.5px,#46a652 94.5px,#52aa4d 95.5px,#6bae44 96.5px,#b4c326 98.5px)"></i><i style="left:19px;width:1px;background:linear-gradient(#bd3618 0.5px,#c03a18 50.5px,#bd3618 78.5px,#c13c18 79.5px,#d95f12 80.5px,#ec9814 81.5px,#fbd310 82.5px,#bcc623 83.5px,#6dae44 84.5px,#48a850 85.5px,#3c9e5c 88.5px,#3d9f5b 92.5px,#47a751 95.5px,#55aa4c 96.5px,#70af43 97.5px,#93b934 98.5px)"></i><i style="left:20px;width:1px;background:linear-gradient(#bd3618 0.5px,#c03b18 49.5px,#bd3618 78.5px,#c33f18 79.5px,#e06810 80.5px,#ef9f14 81.5px,#f9d811 82.5px,#b2c227 83.5px,#66ad46 84.5px,#46a652 85.5px,#389b60 88.5px,#379a61 91.5px,#48a850 96.5px,#5aab4a 97.5px,#75af41 98.5px)"></i><i style="left:21px;width:1px;background:linear-gradient(#bd3618 0.5px,#c03b18 49.5px,#be3718 78.5px,#c44218 79.5px,#e27111 80.5px,#f1a913 81.5px,#f1d816 82.5px,#a3bd2d 83.5px,#5fac48 84.5px,#44a554 85.5px,#329666 88.5px,#309468 90.5px,#44a454 96.5px,#4aa84f 97.5px,#5eac49 98.5px)"></i><i style="left:22px;width:1px;background:linear-gradient(#bd3618 0.5px,#c03b18 48.5px,#be3718 78.5px,#c74618 79.5px,#e47912 80.5px,#f3b113 81.5px,#e9d719 82.5px,#98ba32 83.5px,#58ab4b 84.5px,#41a257 85.5px,#319567 87.5px,#339178 89.5px,#31936f 91.5px,#309468 92.5px,#44a554 97.5px,#4ca94f 98.5px)"></i><i style="left:23px;width:1px;background:linear-gradient(#bd3618 0.5px,#c03b18 47.5px,#bf3818 78.5px,#ca4b17 79.5px,#e78413 80.5px,#f5bc11 81.5px,#dcd21c 82.5px,#8db637 83.5px,#52aa4d 84.5px,#3fa059 85.5px,#359863 86.5px,#329270 87.5px,#358f7f 88.5px,#368e87 89.5px,#339179 91.5px,#309468 93.5px,#45a553 98.5px)"></i><i style="left:24px;width:1px;background:linear-gradient(#bd3618 0.5px,#c03b18 46.5px,#bd3618 77.5px,#bf3a18 78.5px,#d05315 79.5px,#e98c14 80.5px,#f7c410 81.5px,#d2ce1e 82.5px,#80b33c 83.5px,#4ca94f 84.5px,#3c9e5c 85.5px,#319567 86.5px,#368e88 88.5px,#388c8e 89.5px,#378d8a 90.5px,#319567 94.5px,#41a257 98.5px)"></i><i style="left:25px;width:1px;background:linear-gradient(#bd3618 0.5px,#c13c18 46.5px,#bd3618 77.5px,#c13c18 78.5px,#d75c13 79.5px,#eb9514 80.5px,#f9cd10 81.5px,#c7ca21 82.5px,#76b041 83.5px,#47a751 84.5px,#389b60 85.5px,#31936e 86.5px,#358f81 87.5px,#378d8d 88.5px,#388c8e 90.5px,#329666 95.5px,#3ea05a 98.5px)"></i><i style="left:26px;width:1px;background:linear-gradient(#bd3618 0.5px,#c13c18 45.5px,#bd3618 77.5px,#c33f18 78.5px,#df6710 79.5px,#ee9d14 80.5px,#fcd610 81.5px,#bac523 82.5px,#6bae44 83.5px,#43a455 84.5px,#359863 85.5px,#339176 86.5px,#368e88 87.5px,#388c8f 88.5px,#388c8f 90.5px,#358f83 92.5px,#30946a 95.5px,#3b9d5d 98.5px)"></i><i style="left:27px;width:1px;background:linear-gradient(#bd3618 0.5px,#c13c18 44.5px,#be3718 77.5px,#c54318 78.5px,#e27211 79.5px,#f1a714 80.5px,#f4d814 81.5px,#abc02a 82.5px,#61ac48 83.5px,#40a158 84.5px,#319567 85.5px,#34907d 86.5px,#378d8c 87.5px,#388c90 90.5px,#368e87 92.5px,#319567 96.5px,#399b5f 98.5px)"></i><i style="left:28px;width:1px;background:linear-gradient(#bd3618 0.5px,#c13c18 43.5px,#be3818 77.5px,#c84818 78.5px,#e57e13 79.5px,#f3b312 80.5px,#ead718 81.5px,#9abb31 82.5px,#57aa4b 83.5px,#3c9e5c 84.5px,#31936d 85.5px,#358f83 86.5px,#388c8e 87.5px,#388c8f 91.5px,#358f83 93.5px,#30946a 96.5px,#379a61 98.5px)"></i><i style="left:29px;width:1px;background:linear-gradient(#bd3618 0.5px,#c13d18 42.5px,#bd3618 76.5px,#bf3918 77.5px,#cf5116 78.5px,#e88a14 79.5px,#f6bf11 80.5px,#dbd21c 81.5px,#89b538 82.5px,#4da94e 83.5px,#399b5f 84.5px,#329272 85.5px,#368e87 86.5px,#388c8f 87.5px,#388c8e 92.5px,#319567 97.5px,#369962 98.5px)"></i><i style="left:30px;width:1px;background:linear-gradient(#bd3618 0.5px,#c13d18 42.5px,#bd3618 76.5px,#c13c18 77.5px,#d75c13 78.5px,#eb9414 79.5px,#f8ca10 80.5px,#cecc1f 81.5px,#7ab13f 82.5px,#47a751 83.5px,#369962 84.5px,#339177 85.5px,#378d8a 86.5px,#388c90 87.5px,#388c8f 92.5px,#339179 95.5px,#309468 97.5px,#349764 98.5px)"></i><i style="left:31px;width:1px;background:linear-gradient(#bd3618 0.5px,#c23d18 41.5px,#bd3618 76.5px,#c33f18 77.5px,#df6610 78.5px,#ee9d14 79.5px,#fbd410 80.5px,#bfc722 81.5px,#6eae43 82.5px,#43a455 83.5px,#339665 84.5px,#34907c 85.5px,#378d8c 86.5px,#388c91 88.5px,#378d8d 93.5px,#31936b 97.5px,#339665 98.5px)"></i><i style="left:32px;width:1px;background:linear-gradient(#bd3618 0.5px,#c23e18 40.5px,#be3718 76.5px,#c54318 77.5px,#e27311 78.5px,#f1a714 79.5px,#f6d813 80.5px,#b0c227 81.5px,#64ad47 82.5px,#40a158 83.5px,#309468 84.5px,#358f80 85.5px,#388c8e 86.5px,#388b92 91.5px,#388c8f 93.5px,#329566 98.5px)"></i><i style="left:33px;width:1px;background:linear-gradient(#bd3618 0.5px,#c23e18 39.5px,#be3818 76.5px,#c84818 77.5px,#e57f13 78.5px,#f3b412 79.5px,#ecd818 80.5px,#9fbc2f 81.5px,#59ab4a 82.5px,#3c9e5c 83.5px,#31936d 84.5px,#368e84 85.5px,#388c90 86.5px,#388b93 91.5px,#378d8b 94.5px,#309468 98.5px)"></i><i style="left:34px;width:1px;background:linear-gradient(#bd3618 0.5px,#c23e18 38.5px,#bd3618 75.5px,#bf3918 76.5px,#cf5216 77.5px,#e88b14 78.5px,#f6bf11 79.5px,#ddd21b 80.5px,#8fb736 81.5px,#50a94d 82.5px,#399c5f 83.5px,#329271 84.5px,#368e87 85.5px,#388c91 86.5px,#398a95 91.5px,#378d8d 94.5px,#309469 98.5px)"></i><i style="left:35px;width:1px;background:linear-gradient(#bd3618 0.5px,#c23f18 37.5px,#bd3618 75.5px,#c13c18 76.5px,#d75d13 77.5px,#eb9414 78.5px,#f8c910 79.5px,#d1cd1e 80.5px,#7fb23d 81.5px,#48a850 82.5px,#379a61 83.5px,#339176 84.5px,#378d8a 85.5px,#388b92 86.5px,#398998 90.5px,#388c8f 94.5px,#31936b 98.5px)"></i><i style="left:36px;width:1px;background:linear-gradient(#bd3618 0.5px,#c33f18 37.5px,#bd3618 75.5px,#c33f18 76.5px,#e06810 77.5px,#ee9e14 78.5px,#fbd310 79.5px,#c3c821 80.5px,#72af42 81.5px,#44a554 82.5px,#349764 83.5px,#378d8d 85.5px,#398998 87.5px,#39889b 90.5px,#388c90 94.5px,#31936e 98.5px)"></i><i style="left:37px;width:1px;background:linear-gradient(#bd3618 0.5px,#c33f18 36.5px,#be3718 75.5px,#c54418 76.5px,#e37411 77.5px,#f1a714 78.5px,#f8d812 79.5px,#b6c325 80.5px,#67ad46 81.5px,#40a258 82.5px,#319567 83.5px,#358f7f 84.5px,#388c90 85.5px,#3a869f 88.5px,#3a879d 91.5px,#378d8b 95.5px,#329270 98.5px)"></i><i style="left:38px;width:1px;background:linear-gradient(#bd3618 0.5px,#c34018 35.5px,#be3818 75.5px,#c94a18 76.5px,#e68113 77.5px,#f3b312 78.5px,#efd817 79.5px,#a5be2d 80.5px,#5cab49 81.5px,#3d9f5b 82.5px,#31936d 83.5px,#358f83 84.5px,#388b92 85.5px,#3b84a6 88.5px,#3b84a6 90.5px,#378d8d 95.5px,#329273 98.5px)"></i><i style="left:39px;width:1px;background:linear-gradient(#bd3618 0.5px,#c34018 34.5px,#bd3618 74.5px,#c03a18 75.5px,#d35614 76.5px,#e98e14 77.5px,#f6c011 78.5px,#e0d41b 79.5px,#92b835 80.5px,#50a94d 81.5px,#389b60 82.5px,#329274 83.5px,#378d89 84.5px,#3a879f 86.5px,#3c81ac 88.5px,#3b82ab 90.5px,#368e87 96.5px,#339176 98.5px)"></i><i style="left:40px;width:1px;background:linear-gradient(#bd3618 0.5px,#c44118 33.5px,#be3718 70.5px,#be3718 74.5px,#c44218 75.5px,#e16d11 76.5px,#efa014 77.5px,#fbd510 78.5px,#c3c821 79.5px,#73af42 80.5px,#43a455 81.5px,#319567 82.5px,#34907e 83.5px,#388c90 84.5px,#3b82ab 87.5px,#3c80b1 89.5px,#3b84a4 92.5px,#358f81 97.5px,#339179 98.5px)"></i><i style="left:41px;width:1px;background:linear-gradient(#bd3618 0.5px,#c44118 32.5px,#bf3918 67.5px,#bd3618 73.5px,#c03b18 74.5px,#d25615 75.5px,#e98c14 76.5px,#f6be11 77.5px,#e0d41b 78.5px,#93b834 79.5px,#52aa4d 80.5px,#399b5f 81.5px,#339175 82.5px,#378d8b 83.5px,#3b82aa 86.5px,#3c7fb1 88.5px,#3c81ad 91.5px,#34907c 98.5px)"></i><i style="left:42px;width:1px;background:linear-gradient(#bd3618 0.5px,#c44118 31.5px,#bf3a18 65.5px,#be3818 73.5px,#c74618 74.5px,#e37612 75.5px,#f1a814 76.5px,#f7d812 77.5px,#b5c325 78.5px,#66ad46 79.5px,#3fa159 80.5px,#31936c 81.5px,#368e85 82.5px,#398a96 83.5px,#3c80af 86.5px,#3c7fb2 90.5px,#3b84a4 93.5px,#358f80 98.5px)"></i><i style="left:43px;width:1px;background:linear-gradient(#bd3618 0.5px,#c44218 30.5px,#c03a18 64.5px,#be3718 72.5px,#c23f18 73.5px,#db6212 74.5px,#ec9614 75.5px,#f8ca10 76.5px,#d1ce1e 77.5px,#80b33c 78.5px,#47a751 79.5px,#339665 80.5px,#358f7f 81.5px,#388b93 82.5px,#3b83a9 84.5px,#3c7eb3 86.5px,#3c7eb4 90.5px,#3b83a8 93.5px,#368e84 98.5px)"></i><i style="left:44px;width:1px;background:linear-gradient(#bd3618 0.5px,#c44218 29.5px,#c13c18 62.5px,#bd3618 71.5px,#bf3a18 72.5px,#ce4f16 73.5px,#e78413 74.5px,#f4b412 75.5px,#edd817 76.5px,#a1bd2e 77.5px,#59ab4a 78.5px,#399b5f 79.5px,#339178 80.5px,#388c90 81.5px,#3b83a8 83.5px,#3c7eb4 85.5px,#3c7bb8 89.5px,#3b82ac 93.5px,#378d89 98.5px)"></i><i style="left:45px;width:1px;background:linear-gradient(#bd3618 0.5px,#c54218 28.5px,#c13c18 61.5px,#be3718 71.5px,#c54318 72.5px,#e16e11 73.5px,#efa014 74.5px,#fbd410 75.5px,#c0c722 76.5px,#70af43 77.5px,#41a257 78.5px,#31936f 79.5px,#378d8b 80.5px,#3b83a7 82.5px,#3c7db5 84.5px,#3c78be 88.5px,#3c80af 93.5px,#378d8d 98.5px)"></i><i style="left:46px;width:1px;background:linear-gradient(#bd3618 0.5px,#c54318 27.5px,#c23e18 59.5px,#be3718 70.5px,#c03b18 71.5px,#d35614 72.5px,#e98e14 73.5px,#f6bf11 74.5px,#dfd31b 75.5px,#8fb736 76.5px,#4ea94e 77.5px,#349864 78.5px,#358f82 79.5px,#398998 80.5px,#3c80af 82.5px,#3c75c4 87.5px,#3c7aba 91.5px,#3b84a6 95.5px,#388b92 98.5px)"></i><i style="left:47px;width:1px;background:linear-gradient(#bd3618 0.5px,#c54318 26.5px,#c23e18 58.5px,#be3718 70.5px,#c33f18 71.5px,#e06810 72.5px,#ee9e14 73.5px,#fbd310 74.5px,#c4c921 75.5px,#72af42 76.5px,#42a356 77.5px,#31936e 78.5px,#388c8e 79.5px,#3c81ac 81.5px,#3c73c7 86.5px,#3c71c9 88.5px,#3b82aa 95.5px,#398a96 98.5px)"></i><i style="left:48px;width:1px;background:linear-gradient(#bd3618 0.5px,#c54318 24.5px,#c34018 56.5px,#be3718 70.5px,#c34018 71.5px,#e06a10 72.5px,#ee9e14 73.5px,#fbd310 74.5px,#c5c921 75.5px,#73af42 76.5px,#41a357 77.5px,#329270 78.5px,#388c90 79.5px,#3c81ad 81.5px,#3c72c8 85.5px,#3c70cc 88.5px,#3c7bb8 93.5px,#39889b 98.5px)"></i><i style="left:49px;width:1px;background:linear-gradient(#bd3618 0.5px,#c54418 23.5px,#c44118 54.5px,#be3718 70.5px,#c13d18 71.5px,#da6012 72.5px,#ec9614 73.5px,#f8c910 74.5px,#d3ce1e 75.5px,#82b33c 76.5px,#46a652 77.5px,#31936c 78.5px,#378d8c 79.5px,#3b82ab 81.5px,#3c73c7 84.5px,#3c70cc 87.5px,#3c71c9 90.5px,#3a86a1 98.5px)"></i><i style="left:50px;width:1px;background:linear-gradient(#bd3618 0.5px,#c64418 22.5px,#c44218 53.5px,#be3718 70.5px,#c03a18 71.5px,#d15415 72.5px,#e88b14 73.5px,#f5bd11 74.5px,#e3d51a 75.5px,#93b834 76.5px,#4ca94f 77.5px,#319567 78.5px,#368e87 79.5px,#39889b 80.5px,#3c77c1 83.5px,#3c72c9 84.5px,#3c70cc 89.5px,#3c74c5 92.5px,#3b84a6 98.5px)"></i><i style="left:51px;width:1px;background:linear-gradient(#bd3618 0.5px,#c64418 20.5px,#c54318 50.5px,#bf3918 71.5px,#c94a18 72.5px,#e57e13 73.5px,#f3b113 74.5px,#efd817 75.5px,#a0bc2f 76.5px,#54aa4c 77.5px,#359863 78.5px,#358f83 79.5px,#398999 80.5px,#3c76c2 83.5px,#3c71ca 84.5px,#3c70cb 91.5px,#3c80b1 97.5px,#3b82ac 98.5px)"></i><i style="left:52px;width:1px;background:linear-gradient(#bd3618 0.5px,#c64518 19.5px,#c64418 49.5px,#bf3918 71.5px,#c54418 72.5px,#e27111 73.5px,#f0a414 74.5px,#f9d812 75.5px,#b0c227 76.5px,#5dac49 77.5px,#389a60 78.5px,#358f80 79.5px,#398998 80.5px,#3c75c3 83.5px,#3c71cb 84.5px,#3c70cd 91.5px,#3c76c1 95.5px,#3c7fb1 98.5px)"></i><i style="left:53px;width:1px;background:linear-gradient(#bd3618 0.5px,#c64418 17.5px,#c64518 47.5px,#bf3918 71.5px,#c34018 72.5px,#de6511 73.5px,#ed9b14 74.5px,#fad110 75.5px,#bec623 76.5px,#65ad46 77.5px,#3a9c5e 78.5px,#34907c 79.5px,#398a96 80.5px,#3c75c4 83.5px,#3c70cb 84.5px,#3c6fcd 92.5px,#3c76c2 96.5px,#3c7cb7 98.5px)"></i><i style="left:54px;width:1px;background:linear-gradient(#bd3618 0.5px,#c64418 15.5px,#c74718 44.5px,#bf3918 71.5px,#c23f18 72.5px,#db6112 73.5px,#ec9614 74.5px,#f9cc10 75.5px,#c5c921 76.5px,#69ad45 77.5px,#3a9d5e 78.5px,#34907c 79.5px,#398997 80.5px,#3c73c6 83.5px,#3c6fce 85.5px,#3c6fce 93.5px,#3c75c3 97.5px,#3c78be 98.5px)"></i><i style="left:55px;width:1px;background:linear-gradient(#be3718 0.5px,#c64518 14.5px,#c84818 41.5px,#c03a18 71.5px,#c54318 72.5px,#e16b10 73.5px,#ee9e14 74.5px,#fbd610 75.5px,#b5c326 76.5px,#5cab49 77.5px,#369962 78.5px,#358f83 79.5px,#3a879c 80.5px,#3c78bd 82.5px,#3c72c9 83.5px,#3d6dd1 87.5px,#3c6fce 95.5px,#3c74c4 98.5px)"></i><i style="left:56px;width:1px;background:linear-gradient(#be3818 0.5px,#c64518 14.5px,#c94918 40.5px,#c03b18 70.5px,#c13d18 71.5px,#ce5016 72.5px,#e68213 73.5px,#f4b412 74.5px,#e9d719 75.5px,#8fb736 76.5px,#47a751 77.5px,#31936c 78.5px,#388c8e 79.5px,#3c7db5 81.5px,#3c75c3 82.5px,#3c70cc 83.5px,#3d6cd3 90.5px,#3c6fcd 97.5px,#3c71ca 98.5px)"></i><i style="left:57px;width:1px;background:linear-gradient(#bf3918 0.5px,#c84718 16.5px,#ca4b17 40.5px,#c13c18 70.5px,#c54318 71.5px,#df6710 72.5px,#ec9814 73.5px,#f9ce10 74.5px,#c6c921 75.5px,#6dae44 76.5px,#3c9e5c 77.5px,#34907c 78.5px,#398998 79.5px,#3c79bc 81.5px,#3c72c8 82.5px,#3d6dd1 85.5px,#3d6bd5 93.5px,#3c6ecf 98.5px)"></i><i style="left:58px;width:1px;background:linear-gradient(#c03b18 0.5px,#ca4a17 20.5px,#ca4a17 44.5px,#c23f18 70.5px,#ce5116 71.5px,#e68013 72.5px,#f2af13 73.5px,#f0d816 74.5px,#a1bd2e 75.5px,#52aa4d 76.5px,#329566 77.5px,#378d8b 78.5px,#3c7eb4 80.5px,#3c75c3 81.5px,#3c70cc 82.5px,#3e69d8 89.5px,#3d6cd4 98.5px)"></i><i style="left:59px;width:1px;background:linear-gradient(#c23d18 0.5px,#cc4d17 25.5px,#c94918 49.5px,#c23e18 69.5px,#c64418 70.5px,#de6511 71.5px,#eb9514 72.5px,#f8c810 73.5px,#d1ce1e 74.5px,#79b03f 75.5px,#41a257 76.5px,#339176 77.5px,#398a96 78.5px,#3c7abb 80.5px,#3c72c8 81.5px,#3d6cd3 84.5px,#3e67db 92.5px,#3e69d8 98.5px)"></i><i style="left:60px;width:1px;background:linear-gradient(#c33f18 0.5px,#cd4f16 27.5px,#c94918 51.5px,#c34018 69.5px,#ce5016 70.5px,#e57c12 71.5px,#f1aa13 72.5px,#f6d813 73.5px,#aec128 74.5px,#5cab49 75.5px,#359863 76.5px,#368e86 77.5px,#3a86a0 78.5px,#3c75c2 80.5px,#3c70cc 81.5px,#3e67dc 88.5px,#3e67dd 98.5px)"></i><i style="left:61px;width:1px;background:linear-gradient(#c44118 0.5px,#ce5016 27.5px,#ca4a17 51.5px,#c33f18 68.5px,#c64418 69.5px,#dc6211 70.5px,#ea9114 71.5px,#f7c211 72.5px,#dbd11c 73.5px,#89b539 74.5px,#46a652 75.5px,#329271 76.5px,#388b93 77.5px,#3c7aba 79.5px,#3c72c8 80.5px,#3d6bd5 83.5px,#3f64e0 90.5px,#3f64e1 98.5px)"></i><i style="left:62px;width:1px;background:linear-gradient(#c54318 0.5px,#cf5216 28.5px,#ca4b17 52.5px,#c44118 68.5px,#cd4f16 69.5px,#e47912 70.5px,#f0a414 71.5px,#fcd810 72.5px,#bdc623 73.5px,#69ad45 74.5px,#3a9c5e 75.5px,#358f81 76.5px,#3a879d 77.5px,#3c76c1 79.5px,#3c70cc 80.5px,#3f65df 86.5px,#4062e5 98.5px)"></i><i style="left:63px;width:1px;background:linear-gradient(#c64518 0.5px,#d05315 28.5px,#cb4c17 52.5px,#c44118 67.5px,#c64518 68.5px,#db6112 69.5px,#f5bc11 71.5px,#e6d619 72.5px,#98ba32 73.5px,#4ea94e 74.5px,#31936b 75.5px,#388c91 76.5px,#3c7bb9 78.5px,#3c73c7 79.5px,#3d6cd4 81.5px,#4061e6 88.5px,#415fe8 98.5px)"></i><i style="left:64px;width:1px;background:linear-gradient(#c74718 0.5px,#d15415 28.5px,#cc4d17 52.5px,#c54318 67.5px,#ce5016 68.5px,#e37612 69.5px,#ef9f14 70.5px,#fad210 71.5px,#c7ca21 72.5px,#74af41 73.5px,#3fa059 74.5px,#34907c 75.5px,#39889c 76.5px,#3c77c0 78.5px,#3c70cc 79.5px,#3f64e1 84.5px,#415fe8 88.5px,#435de8 98.5px)"></i><i style="left:65px;width:1px;background:linear-gradient(#c94a18 0.5px,#d25615 29.5px,#cd4e16 52.5px,#c54318 66.5px,#c74718 67.5px,#db6112 68.5px,#f4b612 70.5px,#eed817 71.5px,#a6be2c 72.5px,#59ab4a 73.5px,#339665 74.5px,#378d8c 75.5px,#3b84a5 76.5px,#3c73c7 78.5px,#3d6bd5 80.5px,#4061e7 85.5px,#465ae8 98.5px)"></i><i style="left:66px;width:1px;background:linear-gradient(#cb4d17 0.5px,#d45714 31.5px,#cd4e16 54.5px,#c64518 66.5px,#cf5116 67.5px,#e37511 68.5px,#ee9d14 69.5px,#f9cd10 70.5px,#d1ce1e 71.5px,#82b33b 72.5px,#44a454 73.5px,#339177 74.5px,#398999 75.5px,#3c77c0 77.5px,#3c70cd 78.5px,#3f63e2 82.5px,#415fe8 85.5px,#4858e8 98.5px)"></i><i style="left:67px;width:1px;background:linear-gradient(#cd4f16 0.5px,#d55914 33.5px,#cd4e16 55.5px,#c64518 65.5px,#c84918 66.5px,#da6012 67.5px,#f3b113 69.5px,#f4d814 70.5px,#b3c326 71.5px,#65ad46 72.5px,#389a60 73.5px,#368e88 74.5px,#3a85a3 75.5px,#3c73c7 77.5px,#3e69d8 79.5px,#415fe8 83.5px,#4a56e8 95.5px,#4b55e8 98.5px)"></i><i style="left:68px;width:1px;background:linear-gradient(#cf5116 0.5px,#d65a13 33.5px,#ce5016 55.5px,#c74718 65.5px,#d05315 66.5px,#e27311 67.5px,#ed9914 68.5px,#f8c710 69.5px,#dcd21c 70.5px,#90b835 71.5px,#4aa84f 72.5px,#31936f 73.5px,#398a96 74.5px,#3c81ad 75.5px,#3c6fce 77.5px,#3f63e3 80.5px,#435de8 83.5px,#4d53e8 96.5px,#4d53e8 98.5px)"></i><i style="left:69px;width:1px;background:linear-gradient(#d05315 0.5px,#d75c13 33.5px,#cf5116 55.5px,#c74718 64.5px,#ca4b17 65.5px,#db6112 66.5px,#f2ac13 68.5px,#f9d812 69.5px,#bfc722 70.5px,#70af43 71.5px,#3c9e5c 72.5px,#358f83 73.5px,#3a86a1 74.5px,#3c73c7 76.5px,#3f66de 78.5px,#4060e8 80.5px,#4d53e8 90.5px,#4f51e8 98.5px)"></i><i style="left:70px;width:1px;background:linear-gradient(#d25515 0.5px,#d85d13 34.5px,#cf5216 56.5px,#c94918 64.5px,#d15415 65.5px,#e27211 66.5px,#ec9714 67.5px,#f7c311 68.5px,#e3d51a 69.5px,#9fbc2f 70.5px,#55aa4c 71.5px,#309468 72.5px,#388b93 73.5px,#3b82ab 74.5px,#3c6ecf 76.5px,#4062e5 78.5px,#455be8 81.5px,#5050e8 92.5px,#524ee8 98.5px)"></i><i style="left:71px;width:1px;background:linear-gradient(#d35714 0.5px,#d95f12 34.5px,#d05315 56.5px,#ca4b17 63.5px,#cd4f16 64.5px,#dd6411 65.5px,#f2ab13 67.5px,#fad811 68.5px,#c5c921 69.5px,#79b03f 70.5px,#40a258 71.5px,#34907d 72.5px,#3a879e 73.5px,#3c7db5 74.5px,#3d6ad6 76.5px,#3f63e3 77.5px,#415fe8 78.5px,#514fe8 87.5px,#544ce8 98.5px)"></i><i style="left:72px;width:1px;background:linear-gradient(#d55914 0.5px,#da6112 34.5px,#d25515 56.5px,#cd4f16 63.5px,#d75c13 64.5px,#ed9a14 66.5px,#f8c610 67.5px,#e0d41b 68.5px,#9fbc2f 69.5px,#59ab4a 70.5px,#319567 71.5px,#388c91 72.5px,#3c78bf 74.5px,#3f66de 76.5px,#4060e8 77.5px,#514fe8 84.5px,#5749e8 98.5px)"></i><i style="left:73px;width:1px;background:linear-gradient(#d65b13 0.5px,#dc6211 34.5px,#d35714 56.5px,#ce5016 62.5px,#d45814 63.5px,#e26f11 64.5px,#f3b212 66.5px,#f7d812 67.5px,#c1c822 68.5px,#77b040 69.5px,#41a257 70.5px,#34907c 71.5px,#3a879e 72.5px,#3c73c7 74.5px,#3f62e4 76.5px,#4759e8 78.5px,#564ae8 86.5px,#5947e8 98.5px)"></i><i style="left:74px;width:1px;background:linear-gradient(#d85d13 0.5px,#dd6411 34.5px,#d45814 56.5px,#d05315 61.5px,#d35714 62.5px,#df6710 63.5px,#efa114 65.5px,#f9cc10 66.5px,#dcd21c 67.5px,#9cbb30 68.5px,#58ab4b 69.5px,#339665 70.5px,#388c8f 71.5px,#3b82aa 72.5px,#3d6ed0 74.5px,#3f65df 75.5px,#415fe8 76.5px,#514fe8 80.5px,#5947e8 88.5px,#5a46e7 98.5px)"></i><i style="left:75px;width:1px;background:linear-gradient(#d95f12 0.5px,#de6611 34.5px,#d65a13 56.5px,#d35714 61.5px,#dc6211 62.5px,#ec9514 64.5px,#f5ba12 65.5px,#f2d815 66.5px,#bbc523 67.5px,#74af41 68.5px,#41a257 69.5px,#339179 70.5px,#3a879c 71.5px,#3c72c9 73.5px,#4061e5 75.5px,#524ee8 79.5px,#5a46e7 87.5px,#5c44e7 98.5px)"></i><i style="left:76px;width:1px;background:linear-gradient(#db6112 0.5px,#df6710 34.5px,#d75c13 56.5px,#d55914 60.5px,#da6012 61.5px,#e27211 62.5px,#f1a814 64.5px,#fad210 65.5px,#d5cf1d 66.5px,#96b933 67.5px,#57aa4b 68.5px,#339765 69.5px,#378d8d 70.5px,#3b83a9 71.5px,#3d6dd2 73.5px,#3f64e0 74.5px,#435de8 75.5px,#544ce8 78.5px,#5b45e7 89.5px,#5d43e6 98.5px)"></i><i style="left:77px;width:1px;background:linear-gradient(#dc6311 0.5px,#e06910 34.5px,#d85e13 56.5px,#d65b13 59.5px,#d95f12 60.5px,#e16c10 61.5px,#ed9b14 63.5px,#f6c111 64.5px,#eed817 65.5px,#b8c424 66.5px,#73af42 67.5px,#42a356 68.5px,#339178 69.5px,#39889b 70.5px,#3c72c9 72.5px,#4061e6 74.5px,#544ce8 77.5px,#5a46e7 82.5px,#5f41e6 98.5px)"></i><i style="left:78px;width:1px;background:linear-gradient(#de6511 0.5px,#e16b10 34.5px,#db6112 55.5px,#da6012 59.5px,#e06910 60.5px,#ea9114 62.5px,#f3b013 63.5px,#fcd610 64.5px,#d2ce1e 65.5px,#95b933 66.5px,#57ab4b 67.5px,#359863 68.5px,#378d8b 69.5px,#3b83a8 70.5px,#3d6dd2 72.5px,#3f64e1 73.5px,#435de8 74.5px,#5749e8 77.5px,#6040e5 98.5px)"></i><i style="left:79px;width:1px;background:linear-gradient(#df6710 0.5px,#e16d11 34.5px,#dc6311 55.5px,#db6212 58.5px,#e06910 59.5px,#e88c14 61.5px,#efa214 62.5px,#f8c710 63.5px,#e9d719 64.5px,#b4c326 65.5px,#72af42 66.5px,#42a356 67.5px,#339175 68.5px,#398899 69.5px,#3c7db5 70.5px,#3e68db 72.5px,#4060e7 73.5px,#564ae8 76.5px,#613fe5 96.5px,#623ee5 98.5px)"></i><i style="left:80px;width:1px;background:linear-gradient(#e06a10 0.5px,#e26f11 35.5px,#dd6511 57.5px,#e16b10 58.5px,#e88914 60.5px,#ed9c14 61.5px,#f8d812 63.5px,#cbcb20 64.5px,#8fb736 65.5px,#56aa4b 66.5px,#359863 67.5px,#368e88 68.5px,#3c77c1 70.5px,#3f63e2 72.5px,#455be8 73.5px,#544ce8 75.5px,#5c44e7 82.5px,#633de4 98.5px)"></i><i style="left:81px;width:1px;background:linear-gradient(#e16c10 0.5px,#e27011 36.5px,#df6710 56.5px,#e16d11 57.5px,#ec9814 60.5px,#f2af13 61.5px,#facf10 62.5px,#e3d51a 63.5px,#aec128 64.5px,#70af43 65.5px,#42a356 66.5px,#329274 67.5px,#398998 68.5px,#3c7eb4 69.5px,#3c71cb 70.5px,#415fe8 72.5px,#524ee8 74.5px,#5a46e7 77.5px,#653be4 98.5px)"></i><i style="left:82px;width:1px;background:linear-gradient(#e26f11 0.5px,#e27211 38.5px,#e16a10 55.5px,#e26f11 56.5px,#e78714 58.5px,#f1a714 60.5px,#f7c311 61.5px,#f5d813 62.5px,#c9ca20 63.5px,#8eb737 64.5px,#57aa4b 65.5px,#379a61 66.5px,#368e85 67.5px,#3b84a5 68.5px,#3c77c0 69.5px,#3d6bd4 70.5px,#3f63e3 71.5px,#465ae8 72.5px,#564ae8 74.5px,#643ce4 93.5px,#663ae3 98.5px)"></i><i style="left:83px;width:1px;background:linear-gradient(#e27111 0.5px,#e37411 40.5px,#e16e11 54.5px,#e47a12 56.5px,#efa114 59.5px,#fad210 61.5px,#e3d41a 62.5px,#afc128 63.5px,#72af42 64.5px,#45a553 65.5px,#31936d 66.5px,#388b93 67.5px,#3c72c9 69.5px,#4060e8 71.5px,#524ee8 73.5px,#5947e8 75.5px,#6838e3 98.5px)"></i><i style="left:84px;width:1px;background:linear-gradient(#e37411 0.5px,#e37512 43.5px,#e37311 53.5px,#e78614 56.5px,#ee9d14 58.5px,#f8c710 60.5px,#f5d813 61.5px,#cdcc1f 62.5px,#94b934 63.5px,#5eac49 64.5px,#3c9e5c 65.5px,#34907b 66.5px,#3a879c 67.5px,#3c6fce 69.5px,#3f66de 70.5px,#425ee8 71.5px,#544ce8 73.5px,#5d43e6 78.5px,#6937e2 98.5px)"></i><i style="left:85px;width:1px;background:linear-gradient(#e37712 0.5px,#e37712 46.5px,#e47812 52.5px,#ea9114 56.5px,#f1a913 58.5px,#fad210 60.5px,#e7d619 61.5px,#b8c424 62.5px,#7cb13e 63.5px,#4ca94f 64.5px,#339765 65.5px,#368e88 66.5px,#3c78be 68.5px,#3d6cd3 69.5px,#3f64e1 70.5px,#445ce8 71.5px,#554be8 73.5px,#653be4 86.5px,#6b35e2 98.5px)"></i><i style="left:86px;width:1px;background:linear-gradient(#e47912 0.5px,#e47b12 50.5px,#e98c14 54.5px,#f0a614 57.5px,#f8c810 59.5px,#f8d812 60.5px,#d5cf1d 61.5px,#a2bd2e 62.5px,#69ae45 63.5px,#42a356 64.5px,#329270 65.5px,#388b93 66.5px,#3c74c4 68.5px,#3f63e4 70.5px,#4f51e8 72.5px,#5947e8 74.5px,#6a36e2 93.5px,#6c34e1 98.5px)"></i><i style="left:87px;width:1px;background:linear-gradient(#e57c12 0.5px,#e57e13 48.5px,#e88b14 52.5px,#ee9c14 55.5px,#f3b212 57.5px,#fad210 59.5px,#edd818 60.5px,#c2c822 61.5px,#8bb638 62.5px,#59ab4a 63.5px,#3a9c5e 64.5px,#34907c 65.5px,#39889a 66.5px,#3c71c9 68.5px,#4061e6 70.5px,#5749e8 73.5px,#6937e2 88.5px,#6e32e1 98.5px)"></i><i style="left:88px;width:1px;background:linear-gradient(#e57f13 0.5px,#e68013 45.5px,#e88914 50.5px,#ee9d14 54.5px,#f3b013 56.5px,#f9d811 59.5px,#dbd21c 60.5px,#aec129 61.5px,#75b041 62.5px,#48a850 63.5px,#329666 64.5px,#368e88 65.5px,#3c7bb9 67.5px,#3c6fce 68.5px,#4060e8 70.5px,#5848e8 73.5px,#6a36e2 88.5px,#6f31e0 98.5px)"></i><i style="left:89px;width:1px;background:linear-gradient(#e68213 0.5px,#e68313 42.5px,#ea9014 50.5px,#f0a514 54.5px,#fad210 58.5px,#f0d816 59.5px,#cacb20 60.5px,#64ad47 62.5px,#40a258 63.5px,#329271 64.5px,#388b92 65.5px,#3c77bf 67.5px,#3d6dd2 68.5px,#425ee8 70.5px,#5848e8 73.5px,#6b35e2 87.5px,#7130e0 98.5px)"></i><i style="left:90px;width:1px;background:linear-gradient(#e78413 0.5px,#e78614 40.5px,#eb9414 49.5px,#f1a714 53.5px,#fbd811 58.5px,#e2d41a 59.5px,#b8c424 60.5px,#81b33c 61.5px,#54aa4c 62.5px,#399b5f 63.5px,#34907d 64.5px,#398999 65.5px,#3c74c5 67.5px,#3f64e2 69.5px,#435de8 70.5px,#5947e8 73.5px,#6d33e1 87.5px,#722edf 98.5px)"></i><i style="left:91px;width:1px;background:linear-gradient(#e78714 0.5px,#e88814 36.5px,#ec9614 47.5px,#f1a913 52.5px,#fbd310 57.5px,#f2d815 58.5px,#d0cd1e 59.5px,#a3bd2d 60.5px,#6eae43 61.5px,#46a752 62.5px,#319567 63.5px,#368e88 64.5px,#3c71ca 67.5px,#3f62e4 69.5px,#4e52e8 71.5px,#5947e8 73.5px,#6e32e1 86.5px,#742ddf 98.5px)"></i><i style="left:92px;width:1px;background:linear-gradient(#e88a14 0.5px,#e88b14 32.5px,#ec9514 44.5px,#f0a514 50.5px,#f8c810 55.5px,#fad811 57.5px,#e5d51a 58.5px,#bec623 59.5px,#8cb637 60.5px,#5dac49 61.5px,#3fa059 62.5px,#329272 63.5px,#388c91 64.5px,#3c6fce 67.5px,#4061e6 69.5px,#564ae8 72.5px,#6b35e2 82.5px,#752cde 98.5px)"></i><i style="left:93px;width:1px;background:linear-gradient(#e88b14 0.5px,#e98f14 32.5px,#ed9b14 44.5px,#f1a814 49.5px,#f9ce10 55.5px,#fcd710 56.5px,#efd817 57.5px,#cecd1f 58.5px,#a6be2c 59.5px,#74af41 60.5px,#4da94e 61.5px,#379a61 62.5px,#34907e 63.5px,#398998 64.5px,#3c76c1 66.5px,#3e66dd 68.5px,#4060e8 69.5px,#5749e8 72.5px,#6d33e1 82.5px,#772bde 98.5px)"></i><i style="left:94px;width:1px;background:linear-gradient(#e98e14 0.5px,#eb9314 32.5px,#efa014 44.5px,#f3b013 49.5px,#fbd410 55.5px,#f4d814 56.5px,#dad11c 57.5px,#b8c424 58.5px,#60ac48 60.5px,#42a356 61.5px,#30946a 62.5px,#378d89 63.5px,#3c7eb3 65.5px,#3c73c8 66.5px,#3f65e0 68.5px,#425ee8 69.5px,#5848e8 72.5px,#6d33e1 81.5px,#7929dd 98.5px)"></i><i style="left:95px;width:1px;background:linear-gradient(#ea9114 0.5px,#ec9614 32.5px,#f0a514 44.5px,#f6c111 51.5px,#f9d812 55.5px,#e5d51a 56.5px,#c3c821 57.5px,#70af43 59.5px,#4ca94f 60.5px,#389b60 61.5px,#34907a 62.5px,#388b93 63.5px,#3c70cd 66.5px,#3f63e3 68.5px,#435de8 69.5px,#5947e8 72.5px,#6f31e0 81.5px,#7a28dd 98.5px)"></i><i style="left:96px;width:1px;background:linear-gradient(#eb9314 0.5px,#ed9b14 33.5px,#f1a814 43.5px,#f7c211 50.5px,#fbd810 54.5px,#edd817 55.5px,#abc02a 57.5px,#80b23d 58.5px,#5aab4a 59.5px,#40a158 60.5px,#31936c 61.5px,#378d89 62.5px,#3c81ad 64.5px,#3d6dd2 66.5px,#4061e6 68.5px,#5a46e7 72.5px,#6f31e0 80.5px,#7c27dc 98.5px)"></i><i style="left:97px;width:1px;background:linear-gradient(#ec9614 0.5px,#ee9f14 33.5px,#f2ac13 42.5px,#f8c810 50.5px,#fcd810 53.5px,#f1d815 54.5px,#d8d01d 55.5px,#b8c424 56.5px,#69ae45 58.5px,#48a850 59.5px,#369962 60.5px,#34907d 61.5px,#398a94 62.5px,#3c7db6 64.5px,#3e6ad7 66.5px,#425ee8 68.5px,#5848e8 71.5px,#7030e0 79.5px,#7e26db 98.5px)"></i><i style="left:98px;width:1px;background:linear-gradient(#ec9814 0.5px,#f0a314 33.5px,#f4b412 43.5px,#fad210 51.5px,#fcd810 52.5px,#f2d815 53.5px,#ddd21b 54.5px,#c1c722 55.5px,#9fbc2f 56.5px,#76b041 57.5px,#56aa4b 58.5px,#3ea05a 59.5px,#329270 60.5px,#378d8c 61.5px,#3c77bf 64.5px,#3e67db 66.5px,#4061e6 67.5px,#5b45e7 71.5px,#7030e0 78.5px,#7f25db 98.5px)"></i><i style="left:99px;width:1px;background:linear-gradient(#ed9a14 0.5px,#f0a614 32.5px,#f5b912 43.5px,#fcd810 51.5px,#f2d815 52.5px,#ded31b 53.5px,#a7bf2b 55.5px,#61ac48 57.5px,#45a553 58.5px,#339765 59.5px,#358f80 60.5px,#398a96 61.5px,#3d6bd5 65.5px,#425ee8 67.5px,#5848e8 70.5px,#7030e0 77.5px,#8123da 98.5px)"></i><i style="left:100px;width:1px;background:linear-gradient(#ee9d14 0.5px,#f1aa13 31.5px,#f5bc11 42.5px,#fcd810 50.5px,#f2d815 51.5px,#ded31b 52.5px,#aabf2a 54.5px,#6aae45 56.5px,#4ea94e 57.5px,#3b9d5d 58.5px,#329274 59.5px,#388c8f 60.5px,#3c77c0 63.5px,#3e67db 65.5px,#4062e5 66.5px,#5b45e7 70.5px,#6f31e0 76.5px,#8123da 95.5px,#8322da 98.5px)"></i><i style="left:101px;width:1px;background:linear-gradient(#ef9f14 0.5px,#f3b013 32.5px,#f7c311 43.5px,#fcd810 49.5px,#f2d815 50.5px,#ded31b 51.5px,#aac02a 53.5px,#6dae44 55.5px,#53aa4c 56.5px,#40a258 57.5px,#309468 58.5px,#368e84 59.5px,#3c7bb9 62.5px,#3e69d8 64.5px,#425ee8 66.5px,#5d43e6 70.5px,#712fe0 76.5px,#8322da 95.5px,#8421d9 98.5px)"></i><i style="left:102px;width:1px;background:linear-gradient(#efa214 0.5px,#f4b512 33.5px,#f9cb10 44.5px,#fad811 48.5px,#f1d816 49.5px,#ded21b 50.5px,#abc02a 52.5px,#70af43 54.5px,#42a356 56.5px,#349764 57.5px,#388c91 59.5px,#3c7fb2 61.5px,#3e6ad7 63.5px,#4060e8 65.5px,#6040e5 70.5px,#712fe0 75.5px,#8322da 93.5px,#8620d9 98.5px)"></i><i style="left:103px;width:1px;background:linear-gradient(#f0a414 0.5px,#f5bb11 34.5px,#fad210 45.5px,#fad811 47.5px,#efd816 48.5px,#c4c921 50.5px,#8db737 52.5px,#70af43 53.5px,#44a554 55.5px,#369962 56.5px,#339176 57.5px,#378d8c 58.5px,#3b82ac 60.5px,#3d6bd4 62.5px,#3f64e1 63.5px,#415fe8 64.5px,#623ee5 70.5px,#712fe0 74.5px,#8421d9 91.5px,#871ed8 98.5px)"></i><i style="left:104px;width:1px;background:linear-gradient(#f1a814 0.5px,#f6c011 34.5px,#fbd610 45.5px,#f9d812 46.5px,#eed817 47.5px,#aac02a 50.5px,#71af42 52.5px,#45a653 54.5px,#389b60 55.5px,#329273 56.5px,#378d8a 57.5px,#3b83a8 59.5px,#3d6dd1 61.5px,#3f64e1 62.5px,#415fe8 63.5px,#653be4 70.5px,#732edf 74.5px,#8520d9 90.5px,#881ed8 98.5px)"></i><i style="left:105px;width:1px;background:linear-gradient(#f2ac13 0.5px,#f7c610 35.5px,#fcd710 44.5px,#f7d813 45.5px,#ecd818 46.5px,#a8bf2b 49.5px,#71af42 51.5px,#46a652 53.5px,#329270 55.5px,#368e86 56.5px,#3b84a5 58.5px,#3f64e1 61.5px,#425ee8 62.5px,#633de4 69.5px,#722edf 73.5px,#8620d9 88.5px,#891dd8 98.5px)"></i><i style="left:106px;width:1px;background:linear-gradient(#f3b013 0.5px,#f8ca10 35.5px,#fad811 43.5px,#f3d814 44.5px,#e7d619 45.5px,#bdc623 47.5px,#70af43 50.5px,#47a751 52.5px,#31936e 54.5px,#368e85 55.5px,#3c7db5 58.5px,#3f64e2 60.5px,#435de8 61.5px,#613fe5 68.5px,#722fdf 72.5px,#8620d9 86.5px,#8a1dd8 98.5px)"></i><i style="left:107px;width:1px;background:linear-gradient(#f4b512 0.5px,#facf10 36.5px,#fcd810 41.5px,#efd816 43.5px,#bac524 46.5px,#6eae43 49.5px,#47a751 51.5px,#31936b 53.5px,#398a96 55.5px,#3c7eb3 57.5px,#3f64e1 59.5px,#435de8 60.5px,#5f41e6 67.5px,#712fe0 71.5px,#861fd9 84.5px,#8b1cd8 98.5px)"></i><i style="left:108px;width:1px;background:linear-gradient(#f5b912 0.5px,#fbd210 36.5px,#fcd810 39.5px,#f3d815 41.5px,#e8d719 42.5px,#b4c326 45.5px,#6cae44 48.5px,#46a652 50.5px,#30946a 52.5px,#3b82a9 55.5px,#3c72c8 57.5px,#3f65de 58.5px,#425ee8 59.5px,#633de4 67.5px,#732edf 71.5px,#871fd8 83.5px,#8c1cd7 98.5px)"></i><i style="left:109px;width:1px;background:linear-gradient(#f6be11 0.5px,#fcd610 36.5px,#f8d812 38.5px,#ecd818 40.5px,#bec623 43.5px,#96b933 45.5px,#69ad45 47.5px,#45a653 49.5px,#30946a 51.5px,#398a95 53.5px,#3c78be 55.5px,#3d6bd5 57.5px,#4062e5 58.5px,#544ce8 62.5px,#742ddf 71.5px,#871ed8 82.5px,#8c1bd7 98.5px)"></i><i style="left:110px;width:1px;background:linear-gradient(#f7c211 0.5px,#f9d811 35.5px,#ead718 38.5px,#b7c425 42.5px,#76b041 45.5px,#52aa4d 47.5px,#399c5f 49.5px,#31936c 50.5px,#388b94 52.5px,#3c77c0 54.5px,#3c71ca 56.5px,#4060e8 58.5px,#554be8 61.5px,#762bde 71.5px,#881ed8 81.5px,#8d1bd7 98.5px)"></i><i style="left:111px;width:1px;background:linear-gradient(#f8c710 0.5px,#fbd811 30.5px,#edd817 35.5px,#c7ca21 39.5px,#acc029 41.5px,#6fae43 44.5px,#4ea94e 46.5px,#389b60 48.5px,#31936e 49.5px,#3b84a5 52.5px,#3c79bc 53.5px,#3c72c9 54.5px,#3c73c7 55.5px,#3c6fcf 56.5px,#3f65e0 57.5px,#455be8 58.5px,#554be8 60.5px,#762cde 70.5px,#881ed8 79.5px,#8e1ad7 98.5px)"></i><i style="left:112px;width:1px;background:linear-gradient(#f9cc10 0.5px,#fad811 24.5px,#eed817 31.5px,#ded31b 34.5px,#bac524 38.5px,#9ebc30 40.5px,#67ad46 43.5px,#48a850 45.5px,#369962 47.5px,#329270 48.5px,#3a869f 51.5px,#3c74c5 53.5px,#3d6ed0 55.5px,#435de8 57.5px,#554be8 59.5px,#7b28dc 71.5px,#881ed8 78.5px,#8f19d7 98.5px)"></i><i style="left:113px;width:1px;background:linear-gradient(#fad110 0.5px,#f9d811 16.5px,#e8d719 27.5px,#cecc1f 33.5px,#b6c325 36.5px,#8db737 39.5px,#4fa94e 43.5px,#339665 46.5px,#388b92 49.5px,#3b82ab 51.5px,#3d6cd3 53.5px,#3f64e2 55.5px,#445ce8 56.5px,#554be8 58.5px,#7d26dc 71.5px,#891dd8 78.5px,#9019d7 98.5px)"></i><i style="left:114px;width:1px;background:linear-gradient(#fcd710 0.5px,#efd816 16.5px,#ddd21c 24.5px,#b8c424 33.5px,#a4be2d 35.5px,#63ac47 40.5px,#48a850 42.5px,#309469 45.5px,#388b94 48.5px,#3b82aa 50.5px,#3e6ad7 52.5px,#3f62e4 53.5px,#4858e8 55.5px,#5a46e7 58.5px,#8520d9 73.5px,#9019d7 94.5px,#9018d7 98.5px)"></i><i style="left:115px;width:1px;background:linear-gradient(#f5d814 0.5px,#e4d51a 13.5px,#cccc1f 23.5px,#aec128 30.5px,#9abb31 33.5px,#62ac47 38.5px,#43a455 41.5px,#349764 43.5px,#34907e 45.5px,#3b82ab 49.5px,#3c77c0 50.5px,#3e68da 51.5px,#425ee8 52.5px,#5b45e7 57.5px,#871fd8 73.5px,#9118d6 98.5px)"></i><i style="left:116px;width:1px;background:linear-gradient(#e7d619 0.5px,#bfc722 21.5px,#9dbc30 28.5px,#83b43b 32.5px,#4aa84f 38.5px,#309469 42.5px,#388c90 45.5px,#3a86a1 47.5px,#3c81ae 48.5px,#3c76c1 49.5px,#3e68da 50.5px,#445ce8 51.5px,#5c44e7 56.5px,#8620d9 71.5px,#9118d7 93.5px,#9217d6 98.5px)"></i><i style="left:117px;width:1px;background:linear-gradient(#d4cf1e 0.5px,#b3c226 17.5px,#a7bf2b 21.5px,#62ac47 33.5px,#48a850 36.5px,#319567 40.5px,#398a94 44.5px,#3b84a5 46.5px,#3c7fb1 47.5px,#3e68db 49.5px,#445ce8 50.5px,#564ae8 53.5px,#772bde 65.5px,#891ed8 72.5px,#9317d6 98.5px)"></i><i style="left:118px;width:1px;background:linear-gradient(#c0c722 0.5px,#aac02a 10.5px,#8ab638 21.5px,#4da94e 33.5px,#319567 38.5px,#3a86a0 44.5px,#3c7db5 46.5px,#3f66de 48.5px,#445ce8 49.5px,#5749e8 52.5px,#752cde 63.5px,#891dd8 71.5px,#9416d6 98.5px)"></i><i style="left:119px;width:1px;background:linear-gradient(#a5be2c 0.5px,#6cae44 22.5px,#46a652 31.5px,#359863 35.5px,#309469 36.5px,#3a85a4 43.5px,#3c7aba 45.5px,#3f64e1 47.5px,#465ae8 48.5px,#5b45e7 52.5px,#782add 63.5px,#891dd8 70.5px,#9416d6 95.5px,#9316d5 98.5px)"></i><i style="left:120px;width:1px;background:linear-gradient(#87b53a 0.5px,#71af42 9.5px,#5aab4a 21.5px,#44a454 27.5px,#329666 33.5px,#398a94 39.5px,#3b83a9 42.5px,#3c76c1 44.5px,#3f63e3 46.5px,#4e52e8 48.5px,#653be4 54.5px,#881ed8 68.5px,#9416d6 90.5px,#9216d3 98.5px)"></i><i style="left:121px;width:1px;background:linear-gradient(#6bae44 0.5px,#4fa94e 16.5px,#42a356 23.5px,#309469 30.5px,#358f82 34.5px,#39889b 38.5px,#3c80af 41.5px,#3c72c8 43.5px,#4060e8 45.5px,#554be8 48.5px,#7030e0 57.5px,#8a1dd8 69.5px,#9316d5 88.5px,#9015d0 98.5px)"></i><i style="left:122px;width:1px;background:linear-gradient(#53aa4c 0.5px,#48a850 6.5px,#399c5f 21.5px,#31936d 26.5px,#378d8d 33.5px,#3c7cb7 40.5px,#425ee8 44.5px,#564ae8 47.5px,#722fdf 56.5px,#8a1cd8 68.5px,#9316d5 84.5px,#8e15ce 98.5px)"></i><i style="left:123px;width:1px;background:linear-gradient(#42a356 0.5px,#309469 19.5px,#3a86a0 34.5px,#3c77c0 39.5px,#3f63e2 42.5px,#445ce8 43.5px,#5b45e7 47.5px,#732edf 55.5px,#8b1cd8 67.5px,#9316d5 81.5px,#8d15cc 98.5px)"></i><i style="left:124px;width:1px;background:linear-gradient(#389b60 0.5px,#31936b 10.5px,#34907b 18.5px,#3a879f 30.5px,#3c81ae 34.5px,#3d6dd1 39.5px,#4062e5 41.5px,#5848e8 45.5px,#722fdf 53.5px,#8a1dd8 65.5px,#9316d5 79.5px,#8b14c9 98.5px)"></i><i style="left:125px;width:1px;background:linear-gradient(#31936c 0.5px,#378d8b 17.5px,#3c7cb7 33.5px,#3f65df 39.5px,#4060e8 40.5px,#5947e8 44.5px,#712fe0 51.5px,#8a1dd8 64.5px,#9416d5 76.5px,#8914c7 98.5px)"></i><i style="left:126px;width:1px;background:linear-gradient(#358f7f 0.5px,#3a869f 19.5px,#3c77c0 32.5px,#415fe8 39.5px,#5a46e7 43.5px,#722fdf 50.5px,#8a1dd8 62.5px,#9316d5 74.5px,#8814c5 98.5px)"></i><i style="left:127px;width:1px;background:linear-gradient(#388c90 0.5px,#3b82aa 18.5px,#3c70cc 32.5px,#435de8 38.5px,#5f41e6 43.5px,#732edf 49.5px,#8a1dd8 61.5px,#9316d5 72.5px,#8613c2 98.5px)"></i><i style="left:128px;width:1px;background:linear-gradient(#3a879e 0.5px,#3c7bb9 19.5px,#3d6cd4 32.5px,#4061e6 36.5px,#5c44e7 41.5px,#732ddf 48.5px,#8a1cd8 60.5px,#9316d4 71.5px,#8513c1 95.5px,#8413c0 98.5px)"></i><i style="left:129px;width:1px;background:linear-gradient(#3c81ac 0.5px,#3c74c6 19.5px,#3e68db 32.5px,#4060e8 35.5px,#5d43e6 40.5px,#722fdf 46.5px,#8a1dd8 58.5px,#9316d5 69.5px,#8513c2 90.5px,#8313be 98.5px)"></i><i style="left:130px;width:1px;background:linear-gradient(#3c7bba 0.5px,#3f64e1 32.5px,#425ee8 34.5px,#5e42e6 39.5px,#722edf 45.5px,#8a1cd8 57.5px,#9316d4 68.5px,#8413c0 88.5px,#8112bb 98.5px)"></i><i style="left:131px;width:1px;background:linear-gradient(#3c73c6 0.5px,#3f64e1 29.5px,#435de8 33.5px,#5b45e7 37.5px,#732edf 44.5px,#8a1dd8 55.5px,#9416d5 66.5px,#8413c0 85.5px,#7f12b9 98.5px)"></i><i style="left:132px;width:1px;background:linear-gradient(#3c6ecf 0.5px,#3f63e2 24.5px,#445ce8 31.5px,#643ce4 38.5px,#742ddf 43.5px,#8a1dd8 54.5px,#9316d5 65.5px,#8313be 84.5px,#7d12b6 98.5px)"></i><i style="left:133px;width:1px;background:linear-gradient(#3d6ad6 0.5px,#4061e6 22.5px,#4d53e8 31.5px,#722edf 41.5px,#8a1dd8 52.5px,#9316d4 64.5px,#8112bc 83.5px,#7a12b2 98.5px)"></i><i style="left:134px;width:1px;background:linear-gradient(#3e67dc 0.5px,#435de8 20.5px,#5b45e7 33.5px,#732edf 40.5px,#8a1dd8 51.5px,#9316d5 62.5px,#8012bb 82.5px,#7812af 98.5px)"></i><i style="left:135px;width:1px;background:linear-gradient(#3f63e3 0.5px,#445ce8 15.5px,#6040e5 33.5px,#762cde 40.5px,#8a1cd8 50.5px,#9416d5 60.5px,#8012ba 80.5px,#7611ac 98.5px)"></i><i style="left:136px;width:1px;background:linear-gradient(#415fe8 0.5px,#5050e8 18.5px,#653be4 33.5px,#7d26dc 42.5px,#8d1bd7 51.5px,#9316d4 59.5px,#7f12b9 79.5px,#7311a9 98.5px)"></i><i style="left:137px;width:1px;background:linear-gradient(#4759e8 0.5px,#643ce4 30.5px,#891ed8 46.5px,#9316d5 57.5px,#7e12b7 78.5px,#7111a5 98.5px)"></i><i style="left:138px;width:1px;background:linear-gradient(#4c54e8 0.5px,#6937e2 31.5px,#8a1dd8 46.5px,#9316d4 56.5px,#7e12b7 76.5px,#6f11a2 98.5px)"></i><i style="left:139px;width:1px;background:linear-gradient(#524ee8 0.5px,#6f31e0 32.5px,#8a1cd8 45.5px,#9416d6 54.5px,#7e12b7 74.5px,#6d119f 98.5px)"></i><i style="left:140px;width:1px;background:linear-gradient(#5749e8 0.5px,#722edf 32.5px,#8b1cd8 44.5px,#9316d5 53.5px,#7e12b7 72.5px,#6b119d 96.5px,#6a119c 98.5px)"></i><i style="left:141px;width:1px;background:linear-gradient(#5c44e7 0.5px,#762cde 32.5px,#8c1bd7 44.5px,#9316d5 52.5px,#7f12b8 70.5px,#6a119b 94.5px,#681198 98.5px)"></i><i style="left:142px;width:1px;background:linear-gradient(#613fe5 0.5px,#782add 31.5px,#8d1bd7 43.5px,#9316d4 51.5px,#8012b9 67.5px,#681199 93.5px,#661195 98.5px)"></i><i style="left:143px;width:1px;background:linear-gradient(#663ae3 0.5px,#7a28dd 30.5px,#9218d6 46.5px,#9115d2 51.5px,#8012ba 65.5px,#7311a7 79.5px,#661195 93.5px,#631092 98.5px)"></i><i style="left:144px;width:1px;background:linear-gradient(#6c34e1 0.5px,#7a29dd 26.5px,#9316d5 48.5px,#8012b9 64.5px,#7411a9 77.5px,#651094 90.5px,#61108f 98.5px)"></i><i style="left:145px;width:1px;background:linear-gradient(#7130e0 0.5px,#7b27dc 24.5px,#9316d5 47.5px,#8012ba 62.5px,#7711ad 74.5px,#631091 89.5px,#5e108b 98.5px)"></i><i style="left:146px;width:1px;background:linear-gradient(#752cde 0.5px,#772bde 12.5px,#8d1bd7 38.5px,#9316d5 46.5px,#8012ba 61.5px,#7712ae 73.5px,#61108f 88.5px,#5c1087 98.5px)"></i><i style="left:147px;width:1px;background:linear-gradient(#7a29dd 0.5px,#762bde 8.5px,#8e1ad7 38.5px,#9316d5 45.5px,#8513c1 55.5px,#7f12b9 62.5px,#7611ad 73.5px,#61108e 86.5px,#5a1085 97.5px,#591083 98.5px)"></i><i style="left:148px;width:1px;background:linear-gradient(#7e25db 0.5px,#772bde 6.5px,#871fd8 29.5px,#9416d5 43.5px,#8b14c9 51.5px,#8012bb 57.5px,#7912b0 71.5px,#69119b 79.5px,#60108d 85.5px,#5b1087 95.5px,#561080 98.5px)"></i><i style="left:149px;width:1px;background:linear-gradient(#8322da 0.5px,#782add 5.5px,#8421d9 18.5px,#8c1bd7 35.5px,#9416d6 41.5px,#8c14cb 50.5px,#8012ba 56.5px,#7912b1 70.5px,#6d11a0 77.5px,#61108f 82.5px,#5c1088 94.5px,#54107c 98.5px)"></i><i style="left:150px;width:1px;background:linear-gradient(#861fd9 0.5px,#7a29dd 4.5px,#7d26dc 9.5px,#8520d9 13.5px,#8b1cd7 34.5px,#9416d6 40.5px,#8d15cd 49.5px,#8012ba 55.5px,#7a12b2 69.5px,#6d119f 77.5px,#60108e 81.5px,#5b1087 94.5px,#521179 98.5px)"></i></div><div class="p" style="left:24px;top:126px"><i style="left:0px;width:1px;background:linear-gradient(#c03b18 0.5px,#d75c13 17.5px,#de6511 32.5px,#d75c13 48.5px,#c44118 68.5px,#c23e18 78.5px,#ca4a17 80.5px,#d95f12 81.5px,#ec9714 83.5px,#f5bb11 84.5px,#efd817 85.5px,#98ba32 86.5px,#329666 87.5px,#3c7db5 88.5px,#3f62e4 89.5px,#7030e0 90.5px,#8713c4 91.5px,#3c1257 92.5px,#343434 93.5px,#343434 98.5px)"></i><i style="left:1px;width:1px;background:linear-gradient(#c13c18 0.5px,#d85d13 18.5px,#de6511 33.5px,#d65b13 49.5px,#c44118 68.5px,#c33f18 78.5px,#c64418 79.5px,#cd4e16 80.5px,#dc6311 81.5px,#ed9a14 83.5px,#f5bd11 84.5px,#ecd818 85.5px,#91b835 86.5px,#329566 87.5px,#3c7db5 88.5px,#3f62e4 89.5px,#7030e0 90.5px,#8713c4 91.5px,#3c1257 92.5px,#343434 93.5px,#343434 98.5px)"></i><i style="left:2px;width:1px;background:linear-gradient(#c13c18 0.5px,#d85d13 18.5px,#de6511 33.5px,#d65b13 49.5px,#c44118 68.5px,#c23e18 77.5px,#c74718 79.5px,#d15415 80.5px,#e06810 81.5px,#ee9c14 83.5px,#f6c011 84.5px,#e8d719 85.5px,#89b538 86.5px,#319567 87.5px,#3c7db5 88.5px,#3f62e4 89.5px,#7030e0 90.5px,#8713c4 91.5px,#3e125a 92.5px,#343434 93.5px,#343434 98.5px)"></i><i style="left:3px;width:1px;background:linear-gradient(#c23d18 0.5px,#d85d13 18.5px,#de6511 33.5px,#d75b13 49.5px,#c34018 69.5px,#c23e18 76.5px,#c94a18 79.5px,#d45914 80.5px,#e16d11 81.5px,#ef9f14 83.5px,#f7c410 84.5px,#e5d51a 85.5px,#87b53a 86.5px,#309468 87.5px,#3c7db5 88.5px,#3f62e4 89.5px,#7030e0 90.5px,#8914c6 91.5px,#421260 92.5px,#343434 93.5px,#343434 98.5px)"></i><i style="left:4px;width:1px;background:linear-gradient(#c23e18 0.5px,#d95f12 19.5px,#de6611 35.5px,#d55914 51.5px,#c34018 69.5px,#c34018 76.5px,#c74618 78.5px,#cc4e17 79.5px,#e27111 81.5px,#efa214 83.5px,#f8c810 84.5px,#e0d31b 85.5px,#85b43a 86.5px,#309468 87.5px,#3c7db5 88.5px,#3f62e4 89.5px,#7030e0 90.5px,#8914c7 91.5px,#441163 92.5px,#343434 93.5px,#343434 98.5px)"></i><i style="left:5px;width:1px;background:linear-gradient(#c33f18 0.5px,#d95f12 19.5px,#de6611 35.5px,#d55914 51.5px,#c33f18 69.5px,#c34018 75.5px,#c84818 78.5px,#db6112 80.5px,#e98d14 82.5px,#f0a414 83.5px,#f9ca10 84.5px,#ddd21b 85.5px,#84b43b 86.5px,#309468 87.5px,#3c7db5 88.5px,#3f62e4 89.5px,#7030e0 90.5px,#8914c7 91.5px,#441163 92.5px,#343434 93.5px,#343434 98.5px)"></i><i style="left:6px;width:1px;background:linear-gradient(#c34018 0.5px,#da6012 19.5px,#df6610 35.5px,#d55a14 51.5px,#c23e18 69.5px,#c34018 74.5px,#c74618 77.5px,#cb4c17 78.5px,#de6511 80.5px,#f1a814 83.5px,#f9cc10 84.5px,#dbd11c 85.5px,#83b33b 86.5px,#309468 87.5px,#3c7db5 88.5px,#3f62e4 89.5px,#7030e0 90.5px,#8914c7 91.5px,#441163 92.5px,#343434 93.5px,#343434 98.5px)"></i><i style="left:7px;width:1px;background:linear-gradient(#c44118 0.5px,#da6012 19.5px,#df6710 35.5px,#d65a13 51.5px,#c23e18 69.5px,#c74618 76.5px,#cf5116 78.5px,#e06910 80.5px,#f2ab13 83.5px,#face10 84.5px,#d6cf1d 85.5px,#7db23e 86.5px,#309468 87.5px,#3c7db5 88.5px,#3f62e4 89.5px,#7030e0 90.5px,#8914c7 91.5px,#451165 92.5px,#343434 93.5px,#343434 98.5px)"></i><i style="left:8px;width:1px;background:linear-gradient(#c44118 0.5px,#da6012 18.5px,#e06810 34.5px,#d75c13 50.5px,#c23e18 68.5px,#c84818 76.5px,#da5f12 79.5px,#e16c11 80.5px,#eb9414 82.5px,#f2ac13 83.5px,#fad010 84.5px,#d1ce1e 85.5px,#77b040 86.5px,#30946a 87.5px,#3c7db5 88.5px,#3f62e4 89.5px,#7030e0 90.5px,#8914c7 91.5px,#471167 92.5px,#343434 93.5px,#343434 98.5px)"></i><i style="left:9px;width:1px;background:linear-gradient(#c54218 0.5px,#db6112 18.5px,#e06810 34.5px,#d85d13 50.5px,#c33f18 68.5px,#c84818 75.5px,#dc6211 79.5px,#e27011 80.5px,#ec9714 82.5px,#f3af13 83.5px,#fbd210 84.5px,#cecc1f 85.5px,#71af42 86.5px,#31936c 87.5px,#3c7db5 88.5px,#3f62e4 89.5px,#7030e0 90.5px,#8a14c7 91.5px,#471168 92.5px,#343434 93.5px,#343434 98.5px)"></i><i style="left:10px;width:1px;background:linear-gradient(#c54318 0.5px,#db6112 17.5px,#e06910 33.5px,#d95f12 49.5px,#c44218 67.5px,#c84818 74.5px,#d85d13 78.5px,#de6511 79.5px,#e27211 80.5px,#ed9a14 82.5px,#f4b412 83.5px,#fcd710 84.5px,#c9ca20 85.5px,#6aae45 86.5px,#329272 87.5px,#3c7db6 88.5px,#3f62e4 89.5px,#7030e0 90.5px,#8a14c7 91.5px,#471168 92.5px,#343434 93.5px,#343434 98.5px)"></i><i style="left:11px;width:1px;background:linear-gradient(#c64418 0.5px,#db6212 17.5px,#e06a10 34.5px,#d95e12 50.5px,#c64418 66.5px,#c84818 73.5px,#da6012 78.5px,#e06810 79.5px,#e88814 81.5px,#ed9b14 82.5px,#f4b612 83.5px,#fbd810 84.5px,#c6c921 85.5px,#67ad46 86.5px,#339175 87.5px,#3c7db6 88.5px,#3f62e4 89.5px,#7030e0 90.5px,#8a14c7 91.5px,#471168 92.5px,#343434 93.5px,#343434 98.5px)"></i><i style="left:12px;width:1px;background:linear-gradient(#c64518 0.5px,#db6212 16.5px,#e16b10 33.5px,#db6112 49.5px,#c74618 65.5px,#c84818 72.5px,#dc6311 78.5px,#e16b10 79.5px,#ee9d14 82.5px,#f4b712 83.5px,#fad811 84.5px,#c4c921 85.5px,#66ad46 86.5px,#339175 87.5px,#3c7db6 88.5px,#3f62e4 89.5px,#7030e0 90.5px,#8a14c7 91.5px,#471168 92.5px,#343434 93.5px,#343434 98.5px)"></i><i style="left:13px;width:1px;background:linear-gradient(#c74618 0.5px,#da6012 14.5px,#e16c10 30.5px,#de6511 46.5px,#cf5216 58.5px,#c74718 64.5px,#c94a18 71.5px,#db6112 77.5px,#e27011 79.5px,#e98d14 81.5px,#ee9f14 82.5px,#f5b912 83.5px,#f9d812 84.5px,#bfc722 85.5px,#63ac47 86.5px,#339175 87.5px,#3c7db6 88.5px,#3f62e4 89.5px,#7030e0 90.5px,#8a14c7 91.5px,#471168 92.5px,#343434 93.5px,#343434 98.5px)"></i><i style="left:14px;width:1px;background:linear-gradient(#c74718 0.5px,#da6112 13.5px,#e16c11 28.5px,#e06810 44.5px,#d25515 57.5px,#c84718 63.5px,#c94a18 69.5px,#da6012 76.5px,#e16b10 78.5px,#e68113 80.5px,#efa114 82.5px,#f7d813 84.5px,#b9c424 85.5px,#5fac48 86.5px,#339176 87.5px,#3c7db6 88.5px,#3f62e4 89.5px,#7030e0 90.5px,#8a14c7 91.5px,#471168 92.5px,#343434 93.5px,#343434 98.5px)"></i><i style="left:15px;width:1px;background:linear-gradient(#c84818 0.5px,#da5f12 11.5px,#e16d11 26.5px,#e06a10 43.5px,#d45814 56.5px,#c84818 62.5px,#cc4e17 69.5px,#dc6311 76.5px,#e47912 79.5px,#ea9114 81.5px,#f0a314 82.5px,#f6bf11 83.5px,#f4d814 84.5px,#b6c325 85.5px,#5dac49 86.5px,#339176 87.5px,#3c7db6 88.5px,#3f62e4 89.5px,#7030e0 90.5px,#8a14c7 91.5px,#471168 92.5px,#343434 93.5px,#343434 98.5px)"></i><i style="left:16px;width:1px;background:linear-gradient(#ca4a17 0.5px,#db6112 11.5px,#e16e11 26.5px,#e16b10 43.5px,#d55a14 56.5px,#ca4b17 62.5px,#d15415 70.5px,#de6611 76.5px,#e57c12 79.5px,#eb9314 81.5px,#f0a414 82.5px,#f7c211 83.5px,#f1d816 84.5px,#b4c326 85.5px,#5dac49 86.5px,#339176 87.5px,#3c7db6 88.5px,#3f62e4 89.5px,#7030e0 90.5px,#8a14c7 91.5px,#471168 92.5px,#343434 93.5px,#343434 98.5px)"></i><i style="left:17px;width:1px;background:linear-gradient(#cc4e17 0.5px,#dd6411 12.5px,#e27011 30.5px,#e06a10 46.5px,#d15515 59.5px,#cd4f16 63.5px,#d55a14 71.5px,#e06910 76.5px,#e88814 80.5px,#eb9514 81.5px,#f1a714 82.5px,#f7c410 83.5px,#efd816 84.5px,#b2c227 85.5px,#5dab49 86.5px,#339176 87.5px,#3c7db6 88.5px,#3f62e4 89.5px,#7030e0 90.5px,#8a14c7 91.5px,#471168 92.5px,#343434 93.5px,#343434 98.5px)"></i><i style="left:18px;width:1px;background:linear-gradient(#cf5116 0.5px,#e06810 14.5px,#e27211 32.5px,#e06910 48.5px,#d15315 63.5px,#d95f12 72.5px,#e16d11 76.5px,#e88a14 80.5px,#ec9714 81.5px,#f1aa13 82.5px,#f8c610 83.5px,#eed817 84.5px,#b0c128 85.5px,#5dab49 86.5px,#339176 87.5px,#3c7db6 88.5px,#3f62e4 89.5px,#7030e0 90.5px,#8a14c7 91.5px,#471168 92.5px,#343434 93.5px,#343434 98.5px)"></i><i style="left:19px;width:1px;background:linear-gradient(#d25515 0.5px,#e16b10 15.5px,#e37311 34.5px,#e06a10 49.5px,#d35714 63.5px,#dc6211 72.5px,#e27111 76.5px,#e88c14 80.5px,#ec9914 81.5px,#f2ab13 82.5px,#f8c710 83.5px,#ebd818 84.5px,#aac02a 85.5px,#5bab4a 86.5px,#339176 87.5px,#3c7db6 88.5px,#3f62e4 89.5px,#7030e0 90.5px,#8a14c7 91.5px,#471168 92.5px,#343434 93.5px,#343434 98.5px)"></i><i style="left:20px;width:1px;background:linear-gradient(#d55914 0.5px,#e16c10 14.5px,#e37511 33.5px,#e16c10 49.5px,#d65b13 62.5px,#dd6311 71.5px,#e37512 76.5px,#e98d14 80.5px,#ed9a14 81.5px,#f2ad13 82.5px,#f8c810 83.5px,#e8d619 84.5px,#a3bd2d 85.5px,#58ab4b 86.5px,#339176 87.5px,#3c7db6 88.5px,#3f62e4 89.5px,#7030e0 90.5px,#8a14c7 91.5px,#471168 92.5px,#343434 93.5px,#343434 98.5px)"></i><i style="left:21px;width:1px;background:linear-gradient(#d75d13 0.5px,#e16e11 14.5px,#e37612 34.5px,#e16e11 49.5px,#d85e13 62.5px,#df6710 71.5px,#e88814 79.5px,#ea9014 80.5px,#ee9c14 81.5px,#f3af13 82.5px,#f9cb10 83.5px,#e5d51a 84.5px,#9fbc2f 85.5px,#56aa4b 86.5px,#339177 87.5px,#3c7db6 88.5px,#3f62e4 89.5px,#7030e0 90.5px,#8a14c7 91.5px,#471168 92.5px,#343434 93.5px,#343434 98.5px)"></i><i style="left:22px;width:1px;background:linear-gradient(#da6012 0.5px,#e27111 16.5px,#e47712 36.5px,#e16d11 51.5px,#da6012 61.5px,#e06810 70.5px,#e88b14 79.5px,#ee9f14 81.5px,#f3b312 82.5px,#facf10 83.5px,#e0d31b 84.5px,#9bbb31 85.5px,#51aa4d 86.5px,#339178 87.5px,#3c7cb6 88.5px,#3f62e4 89.5px,#7030e0 90.5px,#8a14c7 91.5px,#471168 92.5px,#332f34 93.5px,#343434 95.5px,#343434 98.5px)"></i><i style="left:23px;width:1px;background:linear-gradient(#dd6411 0.5px,#e47812 25.5px,#e37612 44.5px,#e06810 55.5px,#dc6311 63.5px,#e16e11 70.5px,#e98e14 79.5px,#efa014 81.5px,#f4b412 82.5px,#fad010 83.5px,#ddd21b 84.5px,#97ba33 85.5px,#4ba84f 86.5px,#34907c 87.5px,#3c7cb7 88.5px,#3f62e4 89.5px,#7030e0 90.5px,#8a14c7 91.5px,#471168 92.5px,#322d33 93.5px,#343434 94.5px,#343434 98.5px)"></i><i style="left:24px;width:1px;background:linear-gradient(#e06810 0.5px,#e47a12 27.5px,#e47712 46.5px,#e06910 55.5px,#de6511 61.5px,#e27111 69.5px,#e98c14 78.5px,#efa114 81.5px,#f4b512 82.5px,#fad110 83.5px,#dbd11c 84.5px,#94b934 85.5px,#48a850 86.5px,#358f7f 87.5px,#3c7cb7 88.5px,#4062e5 89.5px,#7030e0 90.5px,#8a14c8 91.5px,#481169 92.5px,#322c33 93.5px,#343434 94.5px,#343434 98.5px)"></i><i style="left:25px;width:1px;background:linear-gradient(#e16c10 0.5px,#e57c12 30.5px,#e37712 49.5px,#e16b10 55.5px,#df6710 59.5px,#e47912 70.5px,#ea8f14 78.5px,#ed9a14 80.5px,#f0a314 81.5px,#f5b812 82.5px,#fbd410 83.5px,#d5cf1d 84.5px,#8eb737 85.5px,#46a652 86.5px,#368e84 87.5px,#3c7aba 88.5px,#415fe8 89.5px,#722edf 90.5px,#8d15cc 91.5px,#4c116f 92.5px,#322c33 93.5px,#343434 94.5px,#343434 98.5px)"></i><i style="left:26px;width:1px;background:linear-gradient(#e26f11 0.5px,#e57e13 32.5px,#e47812 50.5px,#e16b10 57.5px,#e57d12 69.5px,#eb9314 78.5px,#ee9e14 80.5px,#f1a913 81.5px,#fad811 83.5px,#cbcb20 84.5px,#82b33c 85.5px,#42a356 86.5px,#378d8d 87.5px,#3c77c0 88.5px,#465ae8 89.5px,#762cde 90.5px,#8e15ce 91.5px,#4f1173 92.5px,#322c33 93.5px,#343434 94.5px,#343434 98.5px)"></i><i style="left:27px;width:1px;background:linear-gradient(#e37311 0.5px,#e68013 34.5px,#e47912 52.5px,#e37311 58.5px,#ea9014 76.5px,#efa214 80.5px,#f3b013 81.5px,#f8c610 82.5px,#f3d814 83.5px,#c0c722 84.5px,#75b041 85.5px,#3d9f5b 86.5px,#388b93 87.5px,#3c74c5 88.5px,#4957e8 89.5px,#7929dd 90.5px,#8e15cd 91.5px,#4f1174 92.5px,#322c33 93.5px,#343434 94.5px,#343434 98.5px)"></i><i style="left:28px;width:1px;background:linear-gradient(#e37612 0.5px,#e68213 37.5px,#e47b12 59.5px,#eb9314 76.5px,#ee9f14 79.5px,#f1a614 80.5px,#f4b612 81.5px,#f9cc10 82.5px,#edd818 83.5px,#b4c326 84.5px,#6cae44 85.5px,#389b60 86.5px,#398999 87.5px,#3c73c8 88.5px,#4b55e8 89.5px,#7d26dc 90.5px,#8c14ca 91.5px,#4e1173 92.5px,#322c33 93.5px,#343434 94.5px,#343434 98.5px)"></i><i style="left:29px;width:1px;background:linear-gradient(#e47912 0.5px,#e78413 40.5px,#e68113 59.5px,#ec9714 76.5px,#efa214 79.5px,#f2ab13 80.5px,#fad210 82.5px,#e3d51a 83.5px,#a7bf2b 84.5px,#62ac47 85.5px,#349764 86.5px,#3a86a0 87.5px,#3c70cc 88.5px,#4e52e8 89.5px,#7f25db 90.5px,#8a14c8 91.5px,#4e1172 92.5px,#322c33 93.5px,#343434 94.5px,#343434 98.5px)"></i><i style="left:30px;width:1px;background:linear-gradient(#e57d12 0.5px,#e78613 44.5px,#e88814 60.5px,#eb9514 74.5px,#efa014 78.5px,#f0a514 79.5px,#f3b013 80.5px,#fcd710 82.5px,#dad11c 83.5px,#9cbb30 84.5px,#59ab4a 85.5px,#309469 86.5px,#3b84a5 87.5px,#3d6dd2 88.5px,#534de8 89.5px,#8223da 90.5px,#8a14c8 91.5px,#4e1172 92.5px,#322c33 93.5px,#343434 94.5px,#343434 98.5px)"></i><i style="left:31px;width:1px;background:linear-gradient(#e68013 0.5px,#e98d14 63.5px,#ed9a14 75.5px,#efa214 78.5px,#f1a814 79.5px,#f4b412 80.5px,#f8d812 82.5px,#cfcd1f 83.5px,#90b835 84.5px,#51a94d 85.5px,#329271 86.5px,#3b82aa 87.5px,#3d6bd5 88.5px,#564ae8 89.5px,#8321da 90.5px,#8a14c8 91.5px,#4e1172 92.5px,#322c33 93.5px,#343434 94.5px,#343434 98.5px)"></i><i style="left:32px;width:1px;background:linear-gradient(#e68313 0.5px,#ea9014 64.5px,#ee9e14 76.5px,#f0a414 78.5px,#f2ac13 79.5px,#f9cc10 81.5px,#f2d815 82.5px,#c6c921 83.5px,#85b43a 84.5px,#47a851 85.5px,#34907a 86.5px,#3c80b0 87.5px,#3e6ad7 88.5px,#5749e8 89.5px,#8421d9 90.5px,#8914c7 91.5px,#4d1172 92.5px,#322c33 93.5px,#343434 94.5px,#343434 98.5px)"></i><i style="left:33px;width:1px;background:linear-gradient(#e78714 0.5px,#ea9114 62.5px,#ee9e14 75.5px,#f1a714 78.5px,#f3b013 79.5px,#fad010 81.5px,#edd818 82.5px,#bcc623 83.5px,#7ab13f 84.5px,#44a454 85.5px,#358f81 86.5px,#3c7db5 87.5px,#3e67db 88.5px,#5a46e7 89.5px,#871fd8 90.5px,#8814c6 91.5px,#4d1171 92.5px,#322c33 93.5px,#343434 94.5px,#343434 98.5px)"></i><i style="left:34px;width:1px;background:linear-gradient(#e88a14 0.5px,#ea9014 57.5px,#ee9d14 73.5px,#f1a714 77.5px,#f4b612 79.5px,#fbd510 81.5px,#e5d51a 82.5px,#b3c226 83.5px,#71af42 84.5px,#3fa059 85.5px,#378d8a 86.5px,#3c7bba 87.5px,#3f65e0 88.5px,#5f41e6 89.5px,#891dd8 90.5px,#8713c4 91.5px,#4d1171 92.5px,#322c33 93.5px,#343434 94.5px,#343434 98.5px)"></i><i style="left:35px;width:1px;background:linear-gradient(#e98c14 0.5px,#ea9114 52.5px,#ee9e14 72.5px,#f2ab13 77.5px,#f6bd11 79.5px,#fbd811 81.5px,#dcd21c 82.5px,#a8bf2b 83.5px,#69ad45 84.5px,#3b9d5d 85.5px,#388c90 86.5px,#3c79bd 87.5px,#3f63e3 88.5px,#633de4 89.5px,#8b1cd8 90.5px,#8613c3 91.5px,#4d1170 92.5px,#322c33 93.5px,#343434 94.5px,#343434 98.5px)"></i><i style="left:36px;width:1px;background:linear-gradient(#e98e14 0.5px,#ea9114 44.5px,#ed9c14 69.5px,#f1a714 75.5px,#f5b912 78.5px,#face10 80.5px,#f6d813 81.5px,#d4cf1e 82.5px,#9dbc30 83.5px,#60ac48 84.5px,#379a61 85.5px,#398a95 86.5px,#3c76c1 87.5px,#4062e5 88.5px,#663ae3 89.5px,#8b1cd7 90.5px,#8613c2 91.5px,#4d1170 92.5px,#322c33 93.5px,#343434 94.5px,#343434 98.5px)"></i><i style="left:37px;width:1px;background:linear-gradient(#ea9014 0.5px,#eb9214 45.5px,#ee9e14 69.5px,#f1aa13 75.5px,#f6bf11 78.5px,#fbd210 80.5px,#f1d815 81.5px,#cbcb20 82.5px,#93b834 83.5px,#58ab4b 84.5px,#329666 85.5px,#39889c 86.5px,#3c74c5 87.5px,#4060e8 88.5px,#6739e3 89.5px,#8b1cd7 90.5px,#8613c2 91.5px,#4d1170 92.5px,#322c33 93.5px,#343434 94.5px,#343434 98.5px)"></i><i style="left:38px;width:1px;background:linear-gradient(#ea9214 0.5px,#eb9414 46.5px,#efa014 69.5px,#f1aa13 74.5px,#f7c410 78.5px,#fbd510 80.5px,#edd818 81.5px,#c3c821 82.5px,#88b539 83.5px,#50a94d 84.5px,#31936b 85.5px,#3a86a0 86.5px,#3c72c8 87.5px,#435de8 88.5px,#6838e3 89.5px,#8b1cd7 90.5px,#8613c2 91.5px,#4d1171 92.5px,#322b33 93.5px,#343434 94.5px,#343434 98.5px)"></i><i style="left:39px;width:1px;background:linear-gradient(#eb9314 0.5px,#ec9614 47.5px,#efa214 68.5px,#f1aa13 73.5px,#facf10 79.5px,#fbd810 80.5px,#e5d51a 81.5px,#bac524 82.5px,#7db23e 83.5px,#48a850 84.5px,#329272 85.5px,#3b84a5 86.5px,#3c70cc 87.5px,#455be8 88.5px,#6937e2 89.5px,#8b1cd7 90.5px,#8613c3 91.5px,#4e1173 92.5px,#312a33 93.5px,#343434 94.5px,#343434 98.5px)"></i><i style="left:40px;width:1px;background:linear-gradient(#eb9514 0.5px,#ec9814 47.5px,#f0a414 68.5px,#f2ae13 73.5px,#fbd210 79.5px,#f7d813 80.5px,#dbd11c 81.5px,#adc029 82.5px,#72af42 83.5px,#43a455 84.5px,#34907b 85.5px,#3b82ab 86.5px,#3d6ed0 87.5px,#4858e8 88.5px,#6c34e1 89.5px,#8c1cd7 90.5px,#8613c3 91.5px,#4f1174 92.5px,#312a33 93.5px,#343434 94.5px,#343434 98.5px)"></i><i style="left:41px;width:1px;background:linear-gradient(#ec9714 0.5px,#ed9914 47.5px,#f0a514 67.5px,#f3b312 73.5px,#fbd510 79.5px,#f1d815 80.5px,#cfcd1f 81.5px,#9fbc2f 82.5px,#67ad46 83.5px,#3e9f5a 84.5px,#368e84 85.5px,#3c80b1 86.5px,#3d6cd2 87.5px,#4a56e8 88.5px,#6e32e1 89.5px,#8c1bd7 90.5px,#8613c3 91.5px,#4f1174 92.5px,#312a33 93.5px,#343434 94.5px,#343434 98.5px)"></i><i style="left:42px;width:1px;background:linear-gradient(#ec9814 0.5px,#ed9b14 47.5px,#f1a814 67.5px,#f4b812 73.5px,#fbd810 79.5px,#ead719 80.5px,#c4c921 81.5px,#5dab49 83.5px,#389b60 84.5px,#378d8d 85.5px,#3c7db6 86.5px,#3d6bd6 87.5px,#4c54e8 88.5px,#6f31e0 89.5px,#8c1bd7 90.5px,#8613c3 91.5px,#4f1174 92.5px,#312a33 93.5px,#343434 94.5px,#343434 98.5px)"></i><i style="left:43px;width:1px;background:linear-gradient(#ed9a14 0.5px,#ee9c14 46.5px,#f1a913 66.5px,#f5bc11 73.5px,#fbd410 78.5px,#f7d813 79.5px,#dfd31b 80.5px,#b9c424 81.5px,#83b43b 82.5px,#52aa4d 83.5px,#339665 84.5px,#398a95 85.5px,#3c7abb 86.5px,#3e69d9 87.5px,#4e52e8 88.5px,#6f31e0 89.5px,#8c1bd7 90.5px,#8613c3 91.5px,#4f1174 92.5px,#312a33 93.5px,#343434 94.5px,#343434 98.5px)"></i><i style="left:44px;width:1px;background:linear-gradient(#ed9b14 0.5px,#ee9e14 45.5px,#f1ab13 65.5px,#f6c011 73.5px,#fcd710 78.5px,#f1d815 79.5px,#d4cf1e 80.5px,#abc02a 81.5px,#75b041 82.5px,#47a851 83.5px,#31936d 84.5px,#39889b 85.5px,#3c78be 86.5px,#3e68db 87.5px,#4f51e8 88.5px,#7030e0 89.5px,#8c1bd7 90.5px,#8613c3 91.5px,#4f1174 92.5px,#312a33 93.5px,#343434 94.5px,#343434 98.5px)"></i><i style="left:45px;width:1px;background:linear-gradient(#ee9d14 0.5px,#efa014 44.5px,#f2ac13 63.5px,#f6c011 72.5px,#fad811 78.5px,#ead718 79.5px,#c8ca20 80.5px,#9dbc30 81.5px,#6bae44 82.5px,#42a356 83.5px,#339176 84.5px,#3a86a0 85.5px,#3c76c2 86.5px,#3f66de 87.5px,#534de8 88.5px,#722edf 89.5px,#8c1bd7 90.5px,#8613c2 91.5px,#4f1174 92.5px,#312a33 93.5px,#343434 94.5px,#343434 98.5px)"></i><i style="left:46px;width:1px;background:linear-gradient(#ee9f14 0.5px,#efa114 43.5px,#f2ae13 62.5px,#f7c311 72.5px,#fbd510 77.5px,#f6d813 78.5px,#e0d41b 79.5px,#bfc722 80.5px,#61ac48 82.5px,#3d9f5b 83.5px,#34907e 84.5px,#3b84a6 85.5px,#3f64e1 87.5px,#554be8 88.5px,#742ddf 89.5px,#8c1bd7 90.5px,#8613c2 91.5px,#4f1174 92.5px,#312a33 93.5px,#343434 94.5px,#343434 98.5px)"></i><i style="left:47px;width:1px;background:linear-gradient(#efa014 0.5px,#f0a314 43.5px,#f3b013 61.5px,#f8c610 72.5px,#fcd810 77.5px,#f1d815 78.5px,#d6d01d 79.5px,#b4c326 80.5px,#84b43b 81.5px,#58ab4b 82.5px,#399b5f 83.5px,#368e86 84.5px,#3b82ab 85.5px,#3f63e3 87.5px,#564ae8 88.5px,#742ddf 89.5px,#8c1bd7 90.5px,#8613c2 91.5px,#4f1174 92.5px,#312a33 93.5px,#343434 94.5px,#343434 98.5px)"></i><i style="left:48px;width:1px;background:linear-gradient(#efa214 0.5px,#f0a514 42.5px,#f3b312 60.5px,#f8c910 72.5px,#fbd510 76.5px,#f9d812 77.5px,#ead718 78.5px,#cccc1f 79.5px,#a8bf2b 80.5px,#77b040 81.5px,#4fa94e 82.5px,#349764 83.5px,#378d8d 84.5px,#3c80af 85.5px,#3f62e4 87.5px,#5749e8 88.5px,#742ddf 89.5px,#8c1bd7 90.5px,#8613c3 91.5px,#4f1174 92.5px,#312933 93.5px,#343434 94.5px,#343434 98.5px)"></i><i style="left:49px;width:1px;background:linear-gradient(#f0a414 0.5px,#f1a614 40.5px,#f4b712 61.5px,#f9ce10 73.5px,#fcd710 76.5px,#f4d814 77.5px,#e0d31b 78.5px,#c3c822 79.5px,#9cbb30 80.5px,#6eae43 81.5px,#47a751 82.5px,#309469 83.5px,#388b93 84.5px,#3c7eb4 85.5px,#4060e8 87.5px,#5947e8 88.5px,#752cde 89.5px,#8c1bd7 90.5px,#8613c3 91.5px,#511177 92.5px,#312833 93.5px,#343434 94.5px,#343434 98.5px)"></i><i style="left:50px;width:1px;background:linear-gradient(#f0a614 0.5px,#f1a814 38.5px,#f6bd11 63.5px,#fad811 76.5px,#efd817 77.5px,#bac523 79.5px,#65ad46 81.5px,#42a356 82.5px,#329272 83.5px,#398998 84.5px,#3d6dd1 86.5px,#435de8 87.5px,#5c44e7 88.5px,#762bde 89.5px,#8d1bd7 90.5px,#8713c4 91.5px,#55107d 92.5px,#302733 93.5px,#343434 94.5px,#343434 98.5px)"></i><i style="left:51px;width:1px;background:linear-gradient(#f1a814 0.5px,#f1ab13 35.5px,#f6c111 63.5px,#fcd710 75.5px,#f6d813 76.5px,#e7d619 77.5px,#b1c227 79.5px,#5dac49 81.5px,#3e9f5a 82.5px,#339179 83.5px,#3a879d 84.5px,#3d6cd3 86.5px,#445ce8 87.5px,#5e42e6 88.5px,#772bde 89.5px,#8d1bd7 90.5px,#8713c4 91.5px,#571080 92.5px,#302633 93.5px,#343434 94.5px,#343434 98.5px)"></i><i style="left:52px;width:1px;background:linear-gradient(#f1ab13 0.5px,#f2ad13 31.5px,#f7c311 62.5px,#fbd811 75.5px,#f2d815 76.5px,#dfd31b 77.5px,#c6c921 78.5px,#a6be2c 79.5px,#7ab13f 80.5px,#54aa4c 81.5px,#399c5f 82.5px,#358f80 83.5px,#3a85a2 84.5px,#3d6bd5 86.5px,#455be8 87.5px,#5e42e6 88.5px,#782add 89.5px,#8d1bd7 90.5px,#8713c4 91.5px,#571080 92.5px,#302633 93.5px,#343434 94.5px,#343434 98.5px)"></i><i style="left:53px;width:1px;background:linear-gradient(#f2ae13 0.5px,#f3b212 32.5px,#f8c710 63.5px,#fcd710 74.5px,#f8d812 75.5px,#ecd818 76.5px,#bec623 78.5px,#9bbb31 79.5px,#70af43 80.5px,#4ba94f 81.5px,#359863 82.5px,#3b84a6 84.5px,#3e69d8 86.5px,#4759e8 87.5px,#6040e5 88.5px,#782add 89.5px,#8d1bd7 90.5px,#8713c4 91.5px,#571080 92.5px,#302633 93.5px,#343434 94.5px,#343434 98.5px)"></i><i style="left:54px;width:1px;background:linear-gradient(#f3b113 0.5px,#f4b812 36.5px,#f9cc10 65.5px,#fbd811 74.5px,#f3d815 75.5px,#e3d41a 76.5px,#b5c325 78.5px,#67ad46 80.5px,#45a653 81.5px,#309468 82.5px,#378d8d 83.5px,#3c75c3 85.5px,#3e68da 86.5px,#4a56e8 87.5px,#7a28dd 89.5px,#8e1ad7 90.5px,#8713c3 91.5px,#561080 92.5px,#2f2332 93.5px,#343434 94.5px,#343434 98.5px)"></i><i style="left:55px;width:1px;background:linear-gradient(#f3b412 0.5px,#f6be11 41.5px,#fbd210 68.5px,#fad811 73.5px,#ecd818 75.5px,#c5c921 77.5px,#abc02a 78.5px,#5eac49 80.5px,#41a257 81.5px,#31936f 82.5px,#388b93 83.5px,#3c73c6 85.5px,#3e67dc 86.5px,#4c54e8 87.5px,#7d26dc 89.5px,#8f19d7 90.5px,#8613c2 91.5px,#56107f 92.5px,#2e1f32 93.5px,#343434 94.5px,#343434 98.5px)"></i><i style="left:56px;width:1px;background:linear-gradient(#f4b712 0.5px,#f8c710 49.5px,#fcd710 70.5px,#f4d814 73.5px,#edd817 74.5px,#d0cd1f 76.5px,#bdc623 77.5px,#9fbc2f 78.5px,#76b041 79.5px,#54aa4c 80.5px,#3c9e5c 81.5px,#339177 82.5px,#398998 83.5px,#3c71ca 85.5px,#3f65df 86.5px,#4e52e8 87.5px,#7f25db 89.5px,#9019d7 90.5px,#8513c1 91.5px,#56107f 92.5px,#2e1f32 93.5px,#343434 94.5px,#343434 98.5px)"></i><i style="left:57px;width:1px;background:linear-gradient(#f5ba12 0.5px,#fad010 61.5px,#fad811 70.5px,#edd818 73.5px,#c7ca20 76.5px,#b5c326 77.5px,#6cae44 79.5px,#4ba94f 80.5px,#379a61 81.5px,#358f7f 82.5px,#3a879d 83.5px,#3f64e2 86.5px,#5050e8 87.5px,#7f24db 89.5px,#9019d7 90.5px,#8513c1 91.5px,#56107f 92.5px,#2e1f32 93.5px,#343434 94.5px,#343434 98.5px)"></i><i style="left:58px;width:1px;background:linear-gradient(#f6bd11 0.5px,#fcd610 65.5px,#f8d812 69.5px,#ecd818 72.5px,#cecc1f 75.5px,#c0c722 76.5px,#abc02a 77.5px,#63ac47 79.5px,#45a553 80.5px,#329666 81.5px,#3a85a2 83.5px,#3f62e4 86.5px,#524ee8 87.5px,#8024db 89.5px,#9019d7 90.5px,#8513c0 91.5px,#56107f 92.5px,#2e1e32 93.5px,#343434 94.5px,#343434 98.5px)"></i><i style="left:59px;width:1px;background:linear-gradient(#f6c111 0.5px,#fbd810 65.5px,#ead718 71.5px,#c7ca20 75.5px,#bac524 76.5px,#9fbc2f 77.5px,#79b040 78.5px,#59ab4a 79.5px,#40a258 80.5px,#31936c 81.5px,#378d8d 82.5px,#3d6dd2 85.5px,#4060e7 86.5px,#554be8 87.5px,#6c34e1 88.5px,#8222da 89.5px,#9118d7 90.5px,#8413c0 91.5px,#561080 92.5px,#2f1d34 93.5px,#343434 94.5px,#343434 98.5px)"></i><i style="left:60px;width:1px;background:linear-gradient(#f7c510 0.5px,#fad811 63.5px,#edd818 69.5px,#d4cf1e 73.5px,#c2c822 75.5px,#b2c227 76.5px,#6faf43 78.5px,#51a94d 79.5px,#3c9e5c 80.5px,#329274 81.5px,#388b92 82.5px,#3d6bd4 85.5px,#415fe8 86.5px,#5749e8 87.5px,#6e32e1 88.5px,#8520d9 89.5px,#9118d6 90.5px,#8413bf 91.5px,#571080 92.5px,#2f1d35 93.5px,#343434 94.5px,#343434 98.5px)"></i><i style="left:61px;width:1px;background:linear-gradient(#f8c910 0.5px,#fad811 55.5px,#efd816 66.5px,#e0d41b 70.5px,#c6c921 74.5px,#bcc623 75.5px,#a8bf2b 76.5px,#66ad46 78.5px,#48a850 79.5px,#389a60 80.5px,#34907b 81.5px,#3c81ae 83.5px,#3e6ad7 85.5px,#435de8 86.5px,#5848e8 87.5px,#7030e0 88.5px,#861fd9 89.5px,#9217d6 90.5px,#8313be 91.5px,#571080 92.5px,#2f1d36 93.5px,#343434 94.5px,#343434 98.5px)"></i><i style="left:62px;width:1px;background:linear-gradient(#f9cc10 0.5px,#fad811 41.5px,#f1d816 62.5px,#e6d619 67.5px,#c8ca20 73.5px,#b7c424 75.5px,#9ebc2f 76.5px,#7bb13f 77.5px,#44a554 79.5px,#339765 80.5px,#39889b 82.5px,#3e68d9 85.5px,#455be8 86.5px,#5a46e7 87.5px,#712fe0 88.5px,#871fd8 89.5px,#9217d6 90.5px,#8313be 91.5px,#571080 92.5px,#2f1d36 93.5px,#343434 94.5px,#343434 98.5px)"></i><i style="left:63px;width:1px;background:linear-gradient(#fad010 0.5px,#f9d811 30.5px,#edd817 61.5px,#dbd11c 68.5px,#bdc623 74.5px,#b0c128 75.5px,#71af42 77.5px,#55aa4c 78.5px,#40a158 79.5px,#30946a 80.5px,#368e88 81.5px,#3c72c9 84.5px,#3e67dc 85.5px,#4858e8 86.5px,#5d43e6 87.5px,#732edf 88.5px,#881ed8 89.5px,#9317d6 90.5px,#8313be 91.5px,#571080 92.5px,#301c38 93.5px,#343434 94.5px,#343434 98.5px)"></i><i style="left:64px;width:1px;background:linear-gradient(#fbd310 0.5px,#f8d812 22.5px,#ead718 59.5px,#d8d01d 67.5px,#b9c424 74.5px,#a7bf2c 75.5px,#68ad45 77.5px,#4da94e 78.5px,#3c9e5c 79.5px,#329271 80.5px,#388c8e 81.5px,#3c70cb 84.5px,#3f66de 85.5px,#4957e8 86.5px,#5f41e6 87.5px,#752cde 88.5px,#891ed8 89.5px,#9317d6 90.5px,#8212bd 91.5px,#571081 92.5px,#321a3d 93.5px,#343434 94.5px,#343434 98.5px)"></i><i style="left:65px;width:1px;background:linear-gradient(#fcd710 0.5px,#e7d619 56.5px,#d4cf1e 66.5px,#bac524 73.5px,#b0c128 74.5px,#98ba32 75.5px,#77b040 76.5px,#46a652 78.5px,#389a60 79.5px,#339177 80.5px,#388b92 81.5px,#3c6fce 84.5px,#3f64e0 85.5px,#4c54e8 86.5px,#772bde 88.5px,#8a1dd8 89.5px,#9416d6 90.5px,#8212bd 91.5px,#5a1085 92.5px,#341843 93.5px,#343434 94.5px,#343434 98.5px)"></i><i style="left:66px;width:1px;background:linear-gradient(#f9d812 0.5px,#e3d51a 53.5px,#d3ce1e 64.5px,#b7c424 72.5px,#aec128 73.5px,#9dbc30 74.5px,#53aa4c 77.5px,#339765 79.5px,#3b82ac 82.5px,#3f62e4 85.5px,#4f51e8 86.5px,#7a28dd 88.5px,#8b1cd8 89.5px,#9316d5 90.5px,#8212bd 91.5px,#5d1089 92.5px,#37154a 93.5px,#343434 94.5px,#343434 98.5px)"></i><i style="left:67px;width:1px;background:linear-gradient(#f4d814 0.5px,#dcd21c 54.5px,#cacb20 65.5px,#bac524 70.5px,#a9bf2a 72.5px,#88b539 74.5px,#4aa84f 77.5px,#30946a 79.5px,#3c80b0 82.5px,#4060e8 85.5px,#534de8 86.5px,#7d26dc 88.5px,#8c1bd7 89.5px,#9216d3 90.5px,#8112bc 91.5px,#5f108c 92.5px,#391351 93.5px,#322e33 94.5px,#343434 95.5px,#343434 98.5px)"></i><i style="left:68px;width:1px;background:linear-gradient(#efd816 0.5px,#d4cf1d 55.5px,#c1c722 66.5px,#b6c325 69.5px,#a5be2c 71.5px,#89b539 73.5px,#44a554 77.5px,#389b60 78.5px,#329270 79.5px,#3c7eb3 82.5px,#3e69d8 84.5px,#445ce8 85.5px,#5749e8 86.5px,#8024db 88.5px,#8d1bd7 89.5px,#9115d1 90.5px,#8112bc 91.5px,#61108f 92.5px,#3d1258 93.5px,#322c33 94.5px,#343434 95.5px,#343434 98.5px)"></i><i style="left:69px;width:1px;background:linear-gradient(#ead719 0.5px,#cecd1f 55.5px,#b8c424 67.5px,#a1bd2e 70.5px,#6bae44 74.5px,#4ba94f 76.5px,#349864 78.5px,#339176 79.5px,#3a86a1 81.5px,#3e67dc 84.5px,#4759e8 85.5px,#5a46e7 86.5px,#7030e0 87.5px,#8421d9 88.5px,#8e1ad7 89.5px,#8f15d0 90.5px,#8112bb 91.5px,#621091 92.5px,#40125d 93.5px,#302633 94.5px,#343434 95.5px,#343434 98.5px)"></i><i style="left:70px;width:1px;background:linear-gradient(#e2d41a 0.5px,#c9cb20 54.5px,#b6c325 65.5px,#a5be2c 68.5px,#87b53a 71.5px,#46a652 76.5px,#319567 78.5px,#3b84a5 81.5px,#3f64e0 84.5px,#4b55e8 85.5px,#732edf 87.5px,#861fd9 88.5px,#8f19d7 89.5px,#8e15ce 90.5px,#8012ba 91.5px,#631092 92.5px,#431162 93.5px,#2f2132 94.5px,#343434 95.5px,#343434 98.5px)"></i><i style="left:71px;width:1px;background:linear-gradient(#dad11c 0.5px,#c5c921 51.5px,#b9c424 61.5px,#a6be2c 66.5px,#85b43a 70.5px,#4da94e 75.5px,#389b60 77.5px,#31936c 78.5px,#3b83a9 81.5px,#3f62e4 84.5px,#4e52e8 85.5px,#772bde 87.5px,#891ed8 88.5px,#9019d7 89.5px,#8d15cd 90.5px,#8012ba 91.5px,#651094 92.5px,#471167 93.5px,#301c38 94.5px,#343434 95.5px,#343434 98.5px)"></i><i style="left:72px;width:1px;background:linear-gradient(#d3ce1e 0.5px,#c1c822 48.5px,#b6c325 59.5px,#9ebc2f 65.5px,#82b33c 69.5px,#53aa4c 74.5px,#3fa059 76.5px,#359863 77.5px,#329271 78.5px,#398998 80.5px,#4060e8 84.5px,#653be4 86.5px,#7a29dd 87.5px,#8a1dd8 88.5px,#9118d6 89.5px,#8c14cb 90.5px,#7f12b9 91.5px,#661196 92.5px,#49116b 93.5px,#331940 94.5px,#333134 95.5px,#343434 98.5px)"></i><i style="left:73px;width:1px;background:linear-gradient(#cbcb20 0.5px,#bcc623 46.5px,#afc128 58.5px,#92b835 65.5px,#57aa4b 73.5px,#44a554 75.5px,#329566 77.5px,#39889b 80.5px,#3e69d9 83.5px,#435de8 84.5px,#554be8 85.5px,#7d26dc 87.5px,#8b1cd8 88.5px,#9217d6 89.5px,#8c14ca 90.5px,#7f12b8 91.5px,#4d1171 93.5px,#37154b 94.5px,#302733 95.5px,#343434 96.5px,#343434 98.5px)"></i><i style="left:74px;width:1px;background:linear-gradient(#c3c821 0.5px,#b8c424 43.5px,#a6bf2c 57.5px,#8cb637 64.5px,#59ab4a 72.5px,#48a850 74.5px,#30946a 77.5px,#3a869f 80.5px,#3e67dc 83.5px,#465ae8 84.5px,#5848e8 85.5px,#8024db 87.5px,#9317d6 89.5px,#7e12b8 91.5px,#3b1255 94.5px,#2f1d34 95.5px,#333234 96.5px,#343434 98.5px)"></i><i style="left:75px;width:1px;background:linear-gradient(#bbc523 0.5px,#b1c227 41.5px,#9bbb31 57.5px,#81b33c 64.5px,#53aa4c 72.5px,#45a553 74.5px,#359863 76.5px,#31936f 77.5px,#388c8f 79.5px,#3c6fcd 82.5px,#3f64e0 83.5px,#4a56e8 84.5px,#5c44e7 85.5px,#7130e0 86.5px,#8322da 87.5px,#9316d6 89.5px,#7e12b7 91.5px,#3f125c 94.5px,#321a3e 95.5px,#312a33 96.5px,#343434 97.5px,#343434 98.5px)"></i><i style="left:76px;width:1px;background:linear-gradient(#b2c227 0.5px,#a5be2c 42.5px,#90b835 57.5px,#6eae43 66.5px,#47a751 73.5px,#329566 76.5px,#388b92 79.5px,#3f62e4 83.5px,#4d53e8 84.5px,#742ddf 86.5px,#861fd9 87.5px,#9416d5 89.5px,#7d12b6 91.5px,#421261 94.5px,#351747 95.5px,#2f2232 96.5px,#333234 97.5px,#343434 98.5px)"></i><i style="left:77px;width:1px;background:linear-gradient(#a8bf2b 0.5px,#9bbb31 42.5px,#88b539 56.5px,#66ad46 66.5px,#47a751 72.5px,#369962 75.5px,#31936b 76.5px,#398a95 79.5px,#3d6bd5 82.5px,#4060e8 83.5px,#633de4 85.5px,#782add 86.5px,#891ed8 87.5px,#9216d3 89.5px,#7c12b4 91.5px,#451165 94.5px,#38144e 95.5px,#301c37 96.5px,#312b33 97.5px,#343334 98.5px)"></i><i style="left:78px;width:1px;background:linear-gradient(#9dbc30 0.5px,#8fb736 43.5px,#7eb23d 56.5px,#63ad47 65.5px,#42a356 72.5px,#329666 75.5px,#368e88 78.5px,#398999 79.5px,#3e69d9 82.5px,#435de8 83.5px,#534de8 84.5px,#7c27dc 86.5px,#8a1dd8 87.5px,#9019d7 88.5px,#9115d1 89.5px,#7912b1 91.5px,#481169 94.5px,#3a1255 95.5px,#33193f 96.5px,#2f2332 97.5px,#322e33 98.5px)"></i><i style="left:79px;width:1px;background:linear-gradient(#93b834 0.5px,#85b43a 43.5px,#71af42 58.5px,#58ab4b 66.5px,#42a356 71.5px,#31936b 75.5px,#378d8b 78.5px,#3a879c 79.5px,#3c71ca 81.5px,#3e67dd 82.5px,#465ae8 83.5px,#5749e8 84.5px,#7f25db 86.5px,#8b1cd8 87.5px,#9118d7 88.5px,#8f15cf 89.5px,#7812ae 91.5px,#3d1258 95.5px,#2f1d35 97.5px,#302533 98.5px)"></i><i style="left:80px;width:1px;background:linear-gradient(#88b539 0.5px,#7ab03f 44.5px,#69ae45 58.5px,#4da94e 67.5px,#3a9d5e 72.5px,#319567 74.5px,#388c8f 78.5px,#3a86a1 79.5px,#3c6fce 81.5px,#3f64e1 82.5px,#4a56e8 83.5px,#5b45e7 84.5px,#7030e0 85.5px,#8322da 86.5px,#9217d6 88.5px,#8e15ce 89.5px,#8413c0 90.5px,#3e125a 95.5px,#311b3a 97.5px,#2f2132 98.5px)"></i><i style="left:81px;width:1px;background:linear-gradient(#7eb23d 0.5px,#6faf43 47.5px,#60ac48 59.5px,#45a653 68.5px,#31936c 74.5px,#368e87 77.5px,#388b94 78.5px,#3c77c0 80.5px,#4061e6 82.5px,#6040e5 84.5px,#742ddf 85.5px,#8620d9 86.5px,#9317d6 88.5px,#8313be 90.5px,#3e125a 95.5px,#321a3d 97.5px,#2e1f32 98.5px)"></i><i style="left:82px;width:1px;background:linear-gradient(#74af41 0.5px,#67ad46 47.5px,#5bab4a 58.5px,#45a553 67.5px,#309469 73.5px,#378d8b 77.5px,#398999 78.5px,#3e68d9 81.5px,#425ee8 82.5px,#643ce4 84.5px,#7929dd 85.5px,#881ed8 86.5px,#9416d6 88.5px,#8212bd 90.5px,#48116a 94.5px,#3d1258 95.5px,#2e1e32 98.5px)"></i><i style="left:83px;width:1px;background:linear-gradient(#6cae44 0.5px,#60ac48 47.5px,#55aa4c 58.5px,#41a257 67.5px,#309468 72.5px,#388c8f 77.5px,#3a86a0 78.5px,#3c70cc 80.5px,#3f65de 81.5px,#465ae8 82.5px,#564ae8 83.5px,#7d26dc 85.5px,#8a1dd8 86.5px,#9316d5 88.5px,#8112bb 90.5px,#471168 94.5px,#3c1257 95.5px,#2e1e33 98.5px)"></i><i style="left:84px;width:1px;background:linear-gradient(#64ad47 0.5px,#57ab4b 48.5px,#4ea94e 58.5px,#3d9f5b 67.5px,#31936c 72.5px,#368e88 76.5px,#388b93 77.5px,#3c78be 79.5px,#3f63e3 81.5px,#4a56e8 82.5px,#5a46e7 83.5px,#8024db 85.5px,#8b1cd8 86.5px,#9216d3 88.5px,#8012ba 90.5px,#471167 94.5px,#3c1257 95.5px,#2f1d34 98.5px)"></i><i style="left:85px;width:1px;background:linear-gradient(#5cab49 0.5px,#4fa94e 50.5px,#45a553 61.5px,#329566 70.5px,#378d8b 76.5px,#398998 77.5px,#3e6ad7 80.5px,#4060e8 81.5px,#5e42e6 83.5px,#722fdf 84.5px,#8421d9 85.5px,#9118d6 87.5px,#9015d1 88.5px,#7e12b7 90.5px,#461166 94.5px,#3b1256 95.5px,#2f1d34 98.5px)"></i><i style="left:86px;width:1px;background:linear-gradient(#54aa4c 0.5px,#46a752 57.5px,#349864 68.5px,#31936f 71.5px,#388c8f 76.5px,#3a879e 77.5px,#3c71ca 79.5px,#3e67dc 80.5px,#435de8 81.5px,#623ee5 83.5px,#762cde 84.5px,#861fd9 85.5px,#9217d6 87.5px,#8f15cf 88.5px,#7c12b5 90.5px,#441163 94.5px,#3a1254 95.5px,#311b3a 97.5px,#2e2032 98.5px)"></i><i style="left:87px;width:1px;background:linear-gradient(#4ca94f 0.5px,#43a455 57.5px,#329566 68.5px,#378d89 75.5px,#388b93 76.5px,#3b84a5 77.5px,#3d6ed0 79.5px,#3f64e0 80.5px,#4759e8 81.5px,#663ae3 83.5px,#7a29dd 84.5px,#881ed8 85.5px,#9317d6 87.5px,#8513c2 89.5px,#7b12b3 90.5px,#431162 94.5px,#341843 96.5px,#2f1d35 97.5px,#302633 98.5px)"></i><i style="left:88px;width:1px;background:linear-gradient(#47a851 0.5px,#41a257 56.5px,#319567 67.5px,#368e86 74.5px,#398997 76.5px,#3c75c3 78.5px,#4062e5 80.5px,#5848e8 82.5px,#7e26db 84.5px,#8a1dd8 85.5px,#9416d6 87.5px,#8413c0 89.5px,#6c119e 91.5px,#421261 94.5px,#33193f 96.5px,#2f2032 97.5px,#322b33 98.5px)"></i><i style="left:89px;width:1px;background:linear-gradient(#46a652 0.5px,#3ea05a 55.5px,#319567 66.5px,#368e88 74.5px,#388c8f 75.5px,#3a879c 76.5px,#3c72c9 78.5px,#415fe8 80.5px,#5c44e7 82.5px,#6f31e0 83.5px,#8123da 84.5px,#9019d7 86.5px,#9316d5 87.5px,#8313bf 89.5px,#6a119c 91.5px,#41125f 94.5px,#311b3b 96.5px,#302433 97.5px,#333034 98.5px)"></i><i style="left:90px;width:1px;background:linear-gradient(#45a553 0.5px,#3c9e5c 54.5px,#309468 65.5px,#378d8b 74.5px,#388b92 75.5px,#3a85a3 76.5px,#3c6fce 78.5px,#3f66de 79.5px,#445ce8 80.5px,#6040e5 82.5px,#732edf 83.5px,#8421d9 84.5px,#9118d7 86.5px,#9216d3 87.5px,#8212bd 89.5px,#5a1085 92.5px,#3f125c 94.5px,#301c38 96.5px,#302733 97.5px,#333234 98.5px)"></i><i style="left:91px;width:1px;background:linear-gradient(#43a455 0.5px,#3a9d5e 53.5px,#30946a 64.5px,#378d8d 74.5px,#398a96 75.5px,#3d6cd3 78.5px,#3f63e2 79.5px,#4759e8 80.5px,#643ce4 82.5px,#772bde 83.5px,#871fd8 84.5px,#9218d6 86.5px,#9015d1 87.5px,#8112bb 89.5px,#581082 92.5px,#3e125a 94.5px,#2f1d34 96.5px,#343434 98.5px)"></i><i style="left:92px;width:1px;background:linear-gradient(#42a356 0.5px,#389b60 53.5px,#31936b 63.5px,#388c90 74.5px,#3a879c 75.5px,#3c73c7 77.5px,#4061e6 79.5px,#5848e8 81.5px,#7b28dc 83.5px,#891ed8 84.5px,#9317d6 86.5px,#7e12b8 89.5px,#3c1257 94.5px,#2e1f32 96.5px,#322d33 97.5px,#343434 98.5px)"></i><i style="left:93px;width:1px;background:linear-gradient(#41a257 0.5px,#369962 52.5px,#31936d 62.5px,#388c8e 73.5px,#398a95 74.5px,#3b84a5 75.5px,#3c6fce 77.5px,#425ee8 79.5px,#5c44e7 81.5px,#8024db 83.5px,#8a1dd8 84.5px,#9416d6 86.5px,#7b12b3 89.5px,#3a1253 94.5px,#331940 95.5px,#2f2232 96.5px,#332f34 97.5px,#343434 98.5px)"></i><i style="left:94px;width:1px;background:linear-gradient(#3fa159 0.5px,#349764 52.5px,#31936f 61.5px,#378d8d 72.5px,#388b93 73.5px,#3a879e 74.5px,#3d6bd4 77.5px,#3f63e2 78.5px,#4759e8 79.5px,#633de4 81.5px,#752cde 82.5px,#8520d9 83.5px,#9118d7 85.5px,#9216d3 86.5px,#8212bd 88.5px,#5c1088 91.5px,#41125f 93.5px,#311b3b 95.5px,#302633 96.5px,#333134 97.5px,#343434 98.5px)"></i><i style="left:95px;width:1px;background:linear-gradient(#3ea05a 0.5px,#329666 51.5px,#329272 61.5px,#378d8d 71.5px,#39889b 73.5px,#4060e8 78.5px,#5947e8 80.5px,#7b28dc 82.5px,#891ed8 83.5px,#9217d6 85.5px,#8713c4 87.5px,#7f12b9 88.5px,#3e125b 93.5px,#301c37 95.5px,#343334 97.5px,#343434 98.5px)"></i><i style="left:96px;width:1px;background:linear-gradient(#3d9e5b 0.5px,#309468 51.5px,#34907d 64.5px,#388b92 71.5px,#3b84a6 73.5px,#3f65df 77.5px,#445ce8 78.5px,#5e42e6 80.5px,#7030e0 81.5px,#8123da 82.5px,#8f19d7 84.5px,#9416d6 85.5px,#7a12b2 88.5px,#3b1256 93.5px,#2e1e32 95.5px,#322c33 96.5px,#343434 97.5px,#343434 98.5px)"></i><i style="left:97px;width:1px;background:linear-gradient(#3b9d5d 0.5px,#309469 49.5px,#358f80 64.5px,#388c91 70.5px,#3a85a3 72.5px,#4062e5 77.5px,#554be8 79.5px,#762bde 81.5px,#8520d9 82.5px,#9118d7 84.5px,#9216d3 85.5px,#8212bd 87.5px,#4f1175 91.5px,#391351 93.5px,#321a3f 94.5px,#2f2332 95.5px,#333034 96.5px,#343434 98.5px)"></i><i style="left:98px;width:1px;background:linear-gradient(#3a9c5e 0.5px,#31936b 47.5px,#358f81 63.5px,#388c91 69.5px,#3a86a1 71.5px,#3e66dd 76.5px,#425ee8 77.5px,#5a46e7 79.5px,#7c27dc 81.5px,#891ed8 82.5px,#9217d6 84.5px,#8713c4 86.5px,#7f12b8 87.5px,#40125d 92.5px,#311b39 94.5px,#312733 95.5px,#343334 96.5px,#343434 98.5px)"></i><i style="left:99px;width:1px;background:linear-gradient(#399b5f 0.5px,#31936c 44.5px,#358f81 61.5px,#388c90 68.5px,#3a879e 70.5px,#3d6bd5 75.5px,#3f63e2 76.5px,#465ae8 77.5px,#6040e5 79.5px,#8123da 81.5px,#8f19d7 83.5px,#9416d6 84.5px,#7a12b2 87.5px,#3d1258 92.5px,#2f1d34 94.5px,#343434 96.5px,#343434 98.5px)"></i><i style="left:100px;width:1px;background:linear-gradient(#379a61 0.5px,#31936d 41.5px,#358f82 60.5px,#388c90 67.5px,#3a879c 69.5px,#3c6fce 74.5px,#4061e7 76.5px,#5749e8 78.5px,#772bde 80.5px,#8620d9 81.5px,#9118d7 83.5px,#9216d3 84.5px,#8212bd 86.5px,#3a1254 92.5px,#2f2132 94.5px,#332f34 95.5px,#343434 96.5px,#343434 98.5px)"></i><i style="left:101px;width:1px;background:linear-gradient(#369962 0.5px,#31936d 37.5px,#358f82 58.5px,#398a95 67.5px,#3c77bf 72.5px,#3f65df 75.5px,#435de8 76.5px,#5c44e7 78.5px,#7d26dc 80.5px,#891dd8 81.5px,#9217d6 83.5px,#8713c4 85.5px,#7f12b8 86.5px,#41125f 91.5px,#311b3b 93.5px,#302633 94.5px,#333234 95.5px,#343434 98.5px)"></i><i style="left:102px;width:1px;background:linear-gradient(#349864 0.5px,#31936e 32.5px,#358f81 55.5px,#388b93 65.5px,#3b82ab 69.5px,#3e69d8 74.5px,#3f62e4 75.5px,#544ce8 77.5px,#8222da 80.5px,#8f19d7 82.5px,#9416d6 83.5px,#7a12b2 86.5px,#3e125a 91.5px,#2f1d36 93.5px,#343434 95.5px,#343434 98.5px)"></i><i style="left:103px;width:1px;background:linear-gradient(#339765 0.5px,#31936f 29.5px,#358f82 53.5px,#398a95 64.5px,#3c7fb2 69.5px,#3d6dd1 73.5px,#415fe8 75.5px,#5947e8 77.5px,#7929dd 79.5px,#871fd8 80.5px,#9118d7 82.5px,#9115d2 83.5px,#8212bc 85.5px,#3b1256 91.5px,#2e1f32 93.5px,#322e33 94.5px,#343434 95.5px,#343434 98.5px)"></i><i style="left:104px;width:1px;background:linear-gradient(#329566 0.5px,#34907b 43.5px,#388b91 61.5px,#3b84a5 66.5px,#3c70cc 72.5px,#3f64e2 74.5px,#455be8 75.5px,#5e42e6 77.5px,#7e25db 79.5px,#891dd8 80.5px,#9317d6 82.5px,#8713c3 84.5px,#7e12b8 85.5px,#391350 91.5px,#321a3e 92.5px,#302433 93.5px,#333134 94.5px,#343434 98.5px)"></i><i style="left:105px;width:1px;background:linear-gradient(#309468 0.5px,#358f7f 44.5px,#388b93 60.5px,#3c80b1 67.5px,#3d6ed0 72.5px,#4061e7 74.5px,#564ae8 76.5px,#752cde 78.5px,#8322da 79.5px,#9316d5 82.5px,#7a12b1 85.5px,#3f125c 90.5px,#301c38 92.5px,#312933 93.5px,#343334 94.5px,#343434 98.5px)"></i><i style="left:106px;width:1px;background:linear-gradient(#30946a 0.5px,#358f82 44.5px,#398a95 59.5px,#3c7db5 67.5px,#3c70cc 71.5px,#445ce8 74.5px,#5c44e7 76.5px,#7b28dc 78.5px,#871ed8 79.5px,#9118d6 81.5px,#9115d1 82.5px,#8112bb 84.5px,#3c1257 90.5px,#2e1f32 92.5px,#322d33 93.5px,#343434 94.5px,#343434 98.5px)"></i><i style="left:107px;width:1px;background:linear-gradient(#31936e 0.5px,#368e84 43.5px,#398998 58.5px,#3c7aba 67.5px,#3d6dd1 71.5px,#4061e7 73.5px,#554be8 75.5px,#8124da 78.5px,#8f1ad7 80.5px,#9317d6 81.5px,#7d12b5 84.5px,#391350 90.5px,#321a3e 91.5px,#302433 92.5px,#333134 93.5px,#343434 98.5px)"></i><i style="left:108px;width:1px;background:linear-gradient(#329271 0.5px,#368e85 41.5px,#398998 56.5px,#3c7db5 65.5px,#3c6fce 70.5px,#445ce8 73.5px,#5b45e7 75.5px,#7929dd 77.5px,#8620d9 78.5px,#9216d4 81.5px,#8313be 83.5px,#3e125a 89.5px,#301c37 91.5px,#343334 93.5px,#343434 98.5px)"></i><i style="left:109px;width:1px;background:linear-gradient(#329274 0.5px,#368e87 40.5px,#39889a 55.5px,#3c7db5 64.5px,#3c70cc 69.5px,#4060e8 72.5px,#613fe5 75.5px,#7f25db 77.5px,#891dd8 78.5px,#9217d6 80.5px,#8713c4 82.5px,#7f12b9 83.5px,#3a1255 89.5px,#2f2032 91.5px,#322e33 92.5px,#343434 93.5px,#343434 98.5px)"></i><i style="left:110px;width:1px;background:linear-gradient(#339178 0.5px,#368e88 37.5px,#39889b 53.5px,#3c7db5 63.5px,#3d6ed0 69.5px,#3f63e3 71.5px,#4f51e8 73.5px,#6838e3 75.5px,#8421d9 77.5px,#9416d6 80.5px,#7a12b2 83.5px,#40125e 88.5px,#311b3b 90.5px,#302633 91.5px,#333234 92.5px,#343434 98.5px)"></i><i style="left:111px;width:1px;background:linear-gradient(#34907b 0.5px,#368e88 33.5px,#398899 50.5px,#3c7eb3 61.5px,#3c6fce 68.5px,#415fe8 71.5px,#6040e5 74.5px,#7d26dc 76.5px,#881ed8 77.5px,#9118d6 79.5px,#9115d2 80.5px,#8112bc 82.5px,#3d1258 88.5px,#2f1d35 90.5px,#343434 92.5px,#343434 98.5px)"></i><i style="left:112px;width:1px;background:linear-gradient(#34907e 0.5px,#368e87 27.5px,#398a96 45.5px,#3c7fb1 59.5px,#3c70cc 67.5px,#4062e5 70.5px,#4f51e8 72.5px,#6739e3 74.5px,#8322da 76.5px,#9317d6 79.5px,#7d12b6 82.5px,#391352 88.5px,#2f2232 90.5px,#333034 91.5px,#343434 93.5px,#343434 98.5px)"></i><i style="left:113px;width:1px;background:linear-gradient(#358f82 0.5px,#368e87 23.5px,#398998 44.5px,#3c7eb4 59.5px,#3d6ed0 67.5px,#425ee8 70.5px,#6040e5 73.5px,#871fd8 76.5px,#9216d3 79.5px,#8313be 81.5px,#3f125b 87.5px,#301c39 89.5px,#312733 90.5px,#343334 91.5px,#343434 98.5px)"></i><i style="left:114px;width:1px;background:linear-gradient(#368e85 0.5px,#368e88 19.5px,#39889a 43.5px,#3c7cb8 59.5px,#3c6fcd 66.5px,#4061e6 69.5px,#5a46e7 72.5px,#8123da 75.5px,#8e1ad7 77.5px,#9217d6 78.5px,#8814c5 80.5px,#8012ba 81.5px,#3b1255 87.5px,#2e1e32 89.5px,#322d33 90.5px,#343434 91.5px,#343434 98.5px)"></i><i style="left:115px;width:1px;background:linear-gradient(#378d89 0.5px,#378d89 16.5px,#3a879d 42.5px,#3c7abb 59.5px,#3c70cc 65.5px,#435de8 69.5px,#6040e5 72.5px,#8620d9 75.5px,#9416d5 78.5px,#7b12b3 81.5px,#41125e 86.5px,#321a3d 88.5px,#302433 89.5px,#333134 90.5px,#343434 93.5px,#343434 98.5px)"></i><i style="left:116px;width:1px;background:linear-gradient(#378d8c 0.5px,#378d8a 13.5px,#3a869f 41.5px,#3c78be 59.5px,#3d6ed0 65.5px,#4061e7 68.5px,#5a46e7 71.5px,#7f24db 74.5px,#891dd8 75.5px,#9218d6 77.5px,#9115d1 78.5px,#8212bc 80.5px,#3d1259 86.5px,#2f1d36 88.5px,#343334 90.5px,#343434 98.5px)"></i><i style="left:117px;width:1px;background:linear-gradient(#388c8f 0.5px,#378d8c 10.5px,#3a86a0 39.5px,#3c78be 58.5px,#3c6ecf 64.5px,#435de8 68.5px,#5f41e6 71.5px,#8421d9 74.5px,#9316d6 77.5px,#7e12b7 80.5px,#3a1253 86.5px,#2f2032 88.5px,#322e33 89.5px,#343434 90.5px,#343434 98.5px)"></i><i style="left:118px;width:1px;background:linear-gradient(#388b91 0.5px,#388c8e 8.5px,#3a86a0 35.5px,#3c79bd 56.5px,#3c6fce 63.5px,#4060e8 67.5px,#5947e8 70.5px,#7e25db 73.5px,#881ed8 74.5px,#9216d3 77.5px,#8313be 79.5px,#55107e 83.5px,#37154c 86.5px,#311b3a 87.5px,#302633 88.5px,#333234 89.5px,#343434 98.5px)"></i><i style="left:119px;width:1px;background:linear-gradient(#388b93 0.5px,#388c90 7.5px,#3a85a3 34.5px,#3c77bf 56.5px,#3d6cd2 63.5px,#445ce8 67.5px,#5f41e6 70.5px,#8322da 73.5px,#9317d6 76.5px,#8012ba 79.5px,#3c1256 85.5px,#2f1d34 87.5px,#343434 89.5px,#343434 98.5px)"></i><i style="left:120px;width:1px;background:linear-gradient(#398a95 0.5px,#398a95 10.5px,#3c7eb3 46.5px,#3c71ca 60.5px,#3e67dc 64.5px,#415fe8 66.5px,#5947e8 69.5px,#7d27dc 72.5px,#871fd8 73.5px,#9316d5 76.5px,#7b12b3 79.5px,#391350 85.5px,#321a3f 86.5px,#2f2232 87.5px,#333034 88.5px,#343434 90.5px,#343434 98.5px)"></i><i style="left:121px;width:1px;background:linear-gradient(#398899 0.5px,#398899 11.5px,#3c7cb7 47.5px,#3c6fcd 60.5px,#4061e6 65.5px,#544ce8 68.5px,#8123da 72.5px,#8e1ad7 74.5px,#9217d6 75.5px,#9015d1 76.5px,#8212bc 78.5px,#3e1259 84.5px,#301c38 86.5px,#312833 87.5px,#343334 88.5px,#343434 98.5px)"></i><i style="left:122px;width:1px;background:linear-gradient(#3a879e 0.5px,#3a879e 12.5px,#3c7abb 48.5px,#3c6fcd 59.5px,#425ee8 65.5px,#5848e8 68.5px,#8520d9 72.5px,#9416d6 75.5px,#7e12b7 78.5px,#3a1254 84.5px,#2e1f32 86.5px,#322d33 87.5px,#343434 88.5px,#343434 98.5px)"></i><i style="left:123px;width:1px;background:linear-gradient(#3a85a2 0.5px,#3a85a4 15.5px,#3c77bf 49.5px,#3d6ed0 59.5px,#4060e8 64.5px,#5c44e7 68.5px,#7f25db 71.5px,#881ed8 72.5px,#9216d3 75.5px,#8313be 77.5px,#55107e 81.5px,#37154d 84.5px,#311b3b 85.5px,#302533 86.5px,#333134 87.5px,#343434 93.5px,#343434 98.5px)"></i><i style="left:124px;width:1px;background:linear-gradient(#3b84a6 0.5px,#3b83a9 17.5px,#3c76c2 49.5px,#3d6ed0 58.5px,#435de8 64.5px,#613fe5 68.5px,#8322da 71.5px,#9317d6 74.5px,#8012ba 77.5px,#3c1256 83.5px,#2f1d34 85.5px,#343434 87.5px,#343434 98.5px)"></i><i style="left:125px;width:1px;background:linear-gradient(#3b82aa 0.5px,#3c81ae 19.5px,#3c74c5 49.5px,#3d6ed0 57.5px,#415fe8 63.5px,#5b45e7 67.5px,#7c27dc 70.5px,#8c1cd7 72.5px,#9316d5 74.5px,#7b12b2 77.5px,#41125f 82.5px,#321a3f 84.5px,#2f2232 85.5px,#332f34 86.5px,#343434 88.5px,#343434 98.5px)"></i><i style="left:126px;width:1px;background:linear-gradient(#3c81ad 0.5px,#3c7eb4 24.5px,#3c72c8 50.5px,#3d6bd4 57.5px,#4060e8 62.5px,#5749e8 66.5px,#8123da 70.5px,#8d1ad7 72.5px,#9217d6 73.5px,#9015d1 74.5px,#8112bc 76.5px,#3d1259 82.5px,#301c38 84.5px,#312833 85.5px,#343334 86.5px,#343434 98.5px)"></i><i style="left:127px;width:1px;background:linear-gradient(#3c80b1 0.5px,#3c7aba 28.5px,#3c70cc 51.5px,#3e67db 58.5px,#425ee8 62.5px,#5a46e7 66.5px,#8521d9 70.5px,#9416d6 73.5px,#7d12b6 76.5px,#3a1253 82.5px,#2e1f32 84.5px,#322d33 85.5px,#343434 86.5px,#343434 98.5px)"></i><i style="left:128px;width:1px;background:linear-gradient(#3c7eb4 0.5px,#3c77bf 32.5px,#3c6ecf 51.5px,#3f64e1 59.5px,#455be8 62.5px,#5e42e6 66.5px,#7e25db 69.5px,#881ed8 70.5px,#9216d3 73.5px,#8313be 75.5px,#55107d 79.5px,#37154c 82.5px,#311b3b 83.5px,#302533 84.5px,#333134 85.5px,#343434 92.5px,#343434 98.5px)"></i><i style="left:129px;width:1px;background:linear-gradient(#3c7cb7 0.5px,#3c74c4 36.5px,#3d6cd3 52.5px,#4060e8 60.5px,#5947e8 65.5px,#8222da 69.5px,#9317d6 72.5px,#8713c4 74.5px,#7f12b9 75.5px,#3b1256 81.5px,#2f1d34 83.5px,#343434 85.5px,#343434 98.5px)"></i><i style="left:130px;width:1px;background:linear-gradient(#3c7abb 0.5px,#3c71ca 42.5px,#3e67dc 55.5px,#425ee8 60.5px,#5d43e6 65.5px,#7c27dc 68.5px,#8b1cd7 70.5px,#9316d5 72.5px,#7a12b2 75.5px,#41125e 80.5px,#321a3e 82.5px,#2f2232 83.5px,#332f34 84.5px,#343434 86.5px,#343434 98.5px)"></i><i style="left:131px;width:1px;background:linear-gradient(#3c78be 0.5px,#3c6fce 44.5px,#3f63e3 57.5px,#445ce8 60.5px,#5947e8 64.5px,#8024db 68.5px,#8d1bd7 70.5px,#9218d6 71.5px,#9015d1 72.5px,#8112bb 74.5px,#3d1258 80.5px,#301c37 82.5px,#312833 83.5px,#343334 84.5px,#343434 98.5px)"></i><i style="left:132px;width:1px;background:linear-gradient(#3c76c1 0.5px,#3d6dd2 45.5px,#4060e8 58.5px,#5c44e7 64.5px,#8421d9 68.5px,#9317d6 71.5px,#7d12b5 74.5px,#421261 79.5px,#331942 81.5px,#2e1f32 82.5px,#322d33 83.5px,#343434 84.5px,#343434 98.5px)"></i><i style="left:133px;width:1px;background:linear-gradient(#3c75c4 0.5px,#3d6bd5 45.5px,#425ee8 58.5px,#5848e8 63.5px,#871fd8 68.5px,#9216d4 71.5px,#8313be 73.5px,#3e125b 79.5px,#311b3b 81.5px,#302533 82.5px,#333134 83.5px,#343434 90.5px,#343434 98.5px)"></i><i style="left:134px;width:1px;background:linear-gradient(#3c73c7 0.5px,#3e6ad7 44.5px,#415fe8 57.5px,#5b45e7 63.5px,#8123da 67.5px,#9217d6 70.5px,#8f15d0 71.5px,#8012b9 73.5px,#3b1255 79.5px,#2f1d34 81.5px,#343434 83.5px,#343434 98.5px)"></i><i style="left:135px;width:1px;background:linear-gradient(#3c71ca 0.5px,#3e69d8 42.5px,#435de8 57.5px,#5749e8 62.5px,#8520d9 67.5px,#9416d6 70.5px,#7b12b3 73.5px,#40125d 78.5px,#321a3e 80.5px,#2f2232 81.5px,#332f34 82.5px,#343434 84.5px,#343434 98.5px)"></i><i style="left:136px;width:1px;background:linear-gradient(#3c6fcd 0.5px,#3e68da 42.5px,#425ee8 56.5px,#5a46e7 62.5px,#881ed8 67.5px,#9216d3 70.5px,#8212bd 72.5px,#3d1258 78.5px,#301c37 80.5px,#312833 81.5px,#343234 82.5px,#343434 98.5px)"></i><i style="left:137px;width:1px;background:linear-gradient(#3c6ecf 0.5px,#3e66dd 42.5px,#435de8 55.5px,#564ae8 61.5px,#782add 65.5px,#891dd8 67.5px,#9217d6 69.5px,#8713c4 71.5px,#7f12b8 72.5px,#431161 77.5px,#341842 79.5px,#2e1f32 80.5px,#322d33 81.5px,#343434 82.5px,#343434 98.5px)"></i><i style="left:138px;width:1px;background:linear-gradient(#3d6dd1 0.5px,#3f65df 42.5px,#445ce8 54.5px,#5848e8 61.5px,#8421d9 66.5px,#9416d6 69.5px,#7a12b2 72.5px,#3f125b 77.5px,#311b3c 79.5px,#302433 80.5px,#333134 81.5px,#343434 85.5px,#343434 98.5px)"></i><i style="left:139px;width:1px;background:linear-gradient(#3d6cd4 0.5px,#3f64e2 42.5px,#445ce8 53.5px,#554be8 60.5px,#613fe5 62.5px,#861fd9 66.5px,#9216d3 69.5px,#8212bd 71.5px,#3c1256 77.5px,#2f1d35 79.5px,#343334 81.5px,#343434 98.5px)"></i><i style="left:140px;width:1px;background:linear-gradient(#3d6ad6 0.5px,#4062e5 43.5px,#4858e8 54.5px,#564ae8 60.5px,#6e32e1 63.5px,#881ed8 66.5px,#9217d6 68.5px,#9015d0 69.5px,#7f12b8 71.5px,#421260 76.5px,#331940 78.5px,#2f2032 79.5px,#322e33 80.5px,#343434 81.5px,#343434 98.5px)"></i><i style="left:141px;width:1px;background:linear-gradient(#3e69d8 0.5px,#435de8 49.5px,#544ce8 59.5px,#5e42e6 61.5px,#8222da 65.5px,#9317d6 68.5px,#8513c1 70.5px,#54107c 74.5px,#3e125a 76.5px,#311b3a 78.5px,#302633 79.5px,#333234 80.5px,#343434 98.5px)"></i><i style="left:142px;width:1px;background:linear-gradient(#3e68da 0.5px,#435de8 48.5px,#534de8 58.5px,#5a46e7 60.5px,#8520d9 65.5px,#9316d5 68.5px,#8212bd 70.5px,#3b1255 76.5px,#2f1d34 78.5px,#343434 80.5px,#343434 98.5px)"></i><i style="left:143px;width:1px;background:linear-gradient(#3e67dc 0.5px,#435de8 47.5px,#544ce8 58.5px,#5c44e7 60.5px,#871fd8 65.5px,#9118d6 67.5px,#9015d1 68.5px,#7f12b9 70.5px,#41125e 75.5px,#321a3e 77.5px,#2f2232 78.5px,#332f34 79.5px,#343434 80.5px,#343434 98.5px)"></i><i style="left:144px;width:1px;background:linear-gradient(#3f65de 0.5px,#425ee8 45.5px,#534de8 57.5px,#5e42e6 60.5px,#8123da 64.5px,#9317d6 67.5px,#8513c2 69.5px,#60108e 72.5px,#3d1259 75.5px,#301c38 77.5px,#302733 78.5px,#333234 79.5px,#343434 98.5px)"></i><i style="left:145px;width:1px;background:linear-gradient(#3f64e1 0.5px,#425ee8 43.5px,#5050e8 55.5px,#5a46e7 59.5px,#8322da 64.5px,#9416d6 67.5px,#8313be 69.5px,#441163 74.5px,#3a1254 75.5px,#2e1e32 77.5px,#322c33 78.5px,#343434 79.5px,#343434 98.5px)"></i><i style="left:146px;width:1px;background:linear-gradient(#3f63e3 0.5px,#445ce8 45.5px,#544ce8 57.5px,#5c44e7 59.5px,#8520d9 64.5px,#9019d7 66.5px,#9216d3 67.5px,#8012ba 69.5px,#40125d 74.5px,#321a3d 76.5px,#2f2332 77.5px,#333034 78.5px,#343434 80.5px,#343434 98.5px)"></i><i style="left:147px;width:1px;background:linear-gradient(#4062e5 0.5px,#445ce8 45.5px,#554be8 57.5px,#5e42e6 59.5px,#881ed8 64.5px,#9118d6 66.5px,#8f15d0 67.5px,#7b12b4 69.5px,#3c1257 74.5px,#301c37 76.5px,#343334 78.5px,#343434 98.5px)"></i><i style="left:148px;width:1px;background:linear-gradient(#4061e7 0.5px,#445ce8 44.5px,#544ce8 56.5px,#6040e5 59.5px,#891dd8 64.5px,#9317d6 66.5px,#8413bf 68.5px,#431161 73.5px,#341842 75.5px,#2e1f32 76.5px,#322d33 77.5px,#343434 78.5px,#343434 98.5px)"></i><i style="left:149px;width:1px;background:linear-gradient(#415fe8 0.5px,#435de8 43.5px,#524ee8 55.5px,#5b45e7 58.5px,#8a1dd8 64.5px,#9416d6 66.5px,#8212bc 68.5px,#40125d 73.5px,#321a3e 75.5px,#2f2332 76.5px,#333134 77.5px,#343434 80.5px,#343434 98.5px)"></i><i style="left:150px;width:1px;background:linear-gradient(#435de8 0.5px,#415fe8 34.5px,#4a56e8 50.5px,#5749e8 57.5px,#6a36e2 60.5px,#8a1cd8 64.5px,#9416d6 66.5px,#8012ba 68.5px,#7011a4 69.5px,#3e1259 73.5px,#311b3b 75.5px,#302633 76.5px,#343334 77.5px,#343434 98.5px)"></i></div><div class="p" style="left:233px;top:126px"><i style="left:0px;width:1px;background:linear-gradient(#b83018 0.5px,#b62e18 46.5px,#b12918 76.5px,#b62e18 77.5px,#bf3918 78.5px,#e06910 80.5px,#efa014 83.5px,#f5bb11 84.5px,#d9d11c 85.5px,#3c79bc 86.5px,#343434 87.5px,#343434 98.5px)"></i><i style="left:1px;width:1px;background:linear-gradient(#b83018 0.5px,#b62e18 46.5px,#b12918 76.5px,#b62e18 77.5px,#bf3918 78.5px,#e06910 80.5px,#efa014 83.5px,#f5bb11 84.5px,#d7d01d 85.5px,#3c76c1 86.5px,#343434 87.5px,#343434 98.5px)"></i><i style="left:2px;width:1px;background:linear-gradient(#b83018 0.5px,#b62e18 46.5px,#b12918 76.5px,#b62e18 77.5px,#bf3a18 78.5px,#e06910 80.5px,#efa014 83.5px,#f5bb11 84.5px,#d4cf1e 85.5px,#3c75c4 86.5px,#343434 87.5px,#343434 98.5px)"></i><i style="left:3px;width:1px;background:linear-gradient(#b83018 0.5px,#b52d18 47.5px,#b12918 76.5px,#b62e18 77.5px,#bf3a18 78.5px,#e06910 80.5px,#efa014 83.5px,#f5bc11 84.5px,#cccc1f 85.5px,#3c71ca 86.5px,#343434 87.5px,#343434 98.5px)"></i><i style="left:4px;width:1px;background:linear-gradient(#b83018 0.5px,#b62e18 47.5px,#b12918 76.5px,#b62e18 77.5px,#bf3a18 78.5px,#cd4f16 79.5px,#e06910 80.5px,#efa014 83.5px,#f5bc11 84.5px,#c8ca20 85.5px,#3c6fcd 86.5px,#343434 87.5px,#343434 98.5px)"></i><i style="left:5px;width:1px;background:linear-gradient(#b83018 0.5px,#b62e18 47.5px,#b12918 76.5px,#b62e18 77.5px,#bf3a18 78.5px,#cd4f16 79.5px,#e06910 80.5px,#efa014 83.5px,#f5bc11 84.5px,#c4c921 85.5px,#3c6fcd 86.5px,#343434 87.5px,#343434 98.5px)"></i><i style="left:6px;width:1px;background:linear-gradient(#b83018 0.5px,#b62e18 47.5px,#b12918 76.5px,#b62e18 77.5px,#bf3a18 78.5px,#cd4f16 79.5px,#e06910 80.5px,#efa014 83.5px,#f5bc11 84.5px,#bfc722 85.5px,#3c6fce 86.5px,#343434 87.5px,#343434 98.5px)"></i><i style="left:7px;width:1px;background:linear-gradient(#b83018 0.5px,#b62e18 47.5px,#b22a18 76.5px,#b72f18 77.5px,#bf3a18 78.5px,#cd4f16 79.5px,#e06910 80.5px,#efa014 83.5px,#f5bd11 84.5px,#bcc523 85.5px,#3d6bd4 86.5px,#343434 87.5px,#343434 98.5px)"></i><i style="left:8px;width:1px;background:linear-gradient(#b93118 0.5px,#b62e18 47.5px,#b22a18 76.5px,#b72f18 77.5px,#bf3a18 78.5px,#cd4f16 79.5px,#e06910 80.5px,#efa014 83.5px,#f5bd11 84.5px,#bbc523 85.5px,#3e6ad7 86.5px,#343434 87.5px,#343434 98.5px)"></i><i style="left:9px;width:1px;background:linear-gradient(#b93118 0.5px,#b62e18 47.5px,#b22a18 76.5px,#b72f18 77.5px,#bf3a18 78.5px,#cd4f16 79.5px,#e06910 80.5px,#efa014 83.5px,#f5bd11 84.5px,#bbc523 85.5px,#3e6ad7 86.5px,#343434 87.5px,#343434 98.5px)"></i><i style="left:10px;width:1px;background:linear-gradient(#b93118 0.5px,#b62e18 46.5px,#b02818 75.5px,#b72f18 77.5px,#c03a18 78.5px,#cd4f16 79.5px,#e06910 80.5px,#efa014 83.5px,#f5bd11 84.5px,#bbc523 85.5px,#3e6ad7 86.5px,#343434 87.5px,#343434 98.5px)"></i><i style="left:11px;width:1px;background:linear-gradient(#b93118 0.5px,#b62e18 46.5px,#b02818 75.5px,#b83018 77.5px,#c03b18 78.5px,#cd4f16 79.5px,#e06910 80.5px,#efa014 83.5px,#f5bd11 84.5px,#bbc523 85.5px,#3e6ad7 86.5px,#343434 87.5px,#343434 98.5px)"></i><i style="left:12px;width:1px;background:linear-gradient(#b93118 0.5px,#b62e18 46.5px,#b12918 75.5px,#b93118 77.5px,#c03b18 78.5px,#cd4f16 79.5px,#e06910 80.5px,#efa014 83.5px,#f5bd11 84.5px,#bac523 85.5px,#3e69d8 86.5px,#343434 87.5px,#343434 98.5px)"></i><i style="left:13px;width:1px;background:linear-gradient(#b93118 0.5px,#b62e18 45.5px,#b12918 74.5px,#b93118 77.5px,#c03b18 78.5px,#cd4f16 79.5px,#e06910 80.5px,#efa014 83.5px,#f5bd11 84.5px,#b8c424 85.5px,#3f65df 86.5px,#343434 87.5px,#343434 98.5px)"></i><i style="left:14px;width:1px;background:linear-gradient(#b93118 0.5px,#b62e18 45.5px,#b02818 73.5px,#b93118 77.5px,#c03b18 78.5px,#cd4f16 79.5px,#e06910 80.5px,#efa014 83.5px,#f5bd11 84.5px,#b5c325 85.5px,#4061e7 86.5px,#343434 87.5px,#343434 98.5px)"></i><i style="left:15px;width:1px;background:linear-gradient(#b93118 0.5px,#b72f18 45.5px,#b12918 73.5px,#b93118 77.5px,#c03b18 78.5px,#cd4f16 79.5px,#e06910 80.5px,#efa014 83.5px,#f5bd11 84.5px,#b4c326 85.5px,#415fe8 86.5px,#343434 87.5px,#343434 98.5px)"></i><i style="left:16px;width:1px;background:linear-gradient(#b93118 0.5px,#b72f18 44.5px,#b12918 72.5px,#ba3218 77.5px,#c03b18 78.5px,#ce4f16 79.5px,#e06910 80.5px,#efa014 83.5px,#f6bd11 84.5px,#b4c326 85.5px,#415fe8 86.5px,#343434 87.5px,#343434 98.5px)"></i><i style="left:17px;width:1px;background:linear-gradient(#b93118 0.5px,#b72f18 44.5px,#b12918 71.5px,#bb3318 77.5px,#c13c18 78.5px,#ce5016 79.5px,#e06910 80.5px,#efa014 83.5px,#f6be11 84.5px,#b2c227 85.5px,#425ee8 86.5px,#343434 87.5px,#343434 98.5px)"></i><i style="left:18px;width:1px;background:linear-gradient(#ba3218 0.5px,#b72f18 43.5px,#b12918 69.5px,#b93118 76.5px,#c23d18 78.5px,#ce5016 79.5px,#e06910 80.5px,#efa014 83.5px,#f6c011 84.5px,#a6bf2c 85.5px,#6040e5 86.5px,#343434 87.5px,#343434 98.5px)"></i><i style="left:19px;width:1px;background:linear-gradient(#ba3218 0.5px,#b83018 43.5px,#b12918 67.5px,#bb3318 76.5px,#c34018 78.5px,#d05215 79.5px,#e06910 80.5px,#efa114 83.5px,#f7c311 84.5px,#9bbb31 85.5px,#712fe0 86.5px,#343434 87.5px,#343434 98.5px)"></i><i style="left:20px;width:1px;background:linear-gradient(#ba3218 0.5px,#b83018 42.5px,#b12918 65.5px,#ba3218 75.5px,#c64518 78.5px,#e16a10 80.5px,#efa114 83.5px,#f7c410 84.5px,#95b933 85.5px,#742ddf 86.5px,#343434 87.5px,#343434 98.5px)"></i><i style="left:21px;width:1px;background:linear-gradient(#ba3218 0.5px,#b83018 42.5px,#b12918 63.5px,#b93118 74.5px,#c44118 77.5px,#cb4c17 78.5px,#e26f11 80.5px,#f0a414 83.5px,#f8c710 84.5px,#7bb13f 85.5px,#8024db 86.5px,#343434 87.5px,#343434 98.5px)"></i><i style="left:22px;width:1px;background:linear-gradient(#ba3218 0.5px,#b93118 41.5px,#b22a18 62.5px,#b83018 73.5px,#c23e18 76.5px,#c74618 77.5px,#df6610 79.5px,#e88a14 81.5px,#f1a913 83.5px,#f9cd10 84.5px,#55aa4c 85.5px,#8e1ad7 86.5px,#343434 87.5px,#343434 98.5px)"></i><i style="left:23px;width:1px;background:linear-gradient(#ba3218 0.5px,#b93118 40.5px,#b42c18 63.5px,#bb3318 73.5px,#c54318 76.5px,#e27111 79.5px,#ea9014 81.5px,#ee9c14 82.5px,#f2af13 83.5px,#fbd610 84.5px,#3a9d5e 85.5px,#6a119c 86.5px,#343434 87.5px,#343434 98.5px)"></i><i style="left:24px;width:1px;background:linear-gradient(#ba3218 0.5px,#b93118 40.5px,#b52d18 64.5px,#bc3418 72.5px,#c34018 75.5px,#ca4a17 76.5px,#e16a10 78.5px,#e88b14 80.5px,#efa014 82.5px,#f4b512 83.5px,#f3d815 84.5px,#368e85 85.5px,#5b1086 86.5px,#343434 87.5px,#343434 98.5px)"></i><i style="left:25px;width:1px;background:linear-gradient(#ba3218 0.5px,#ba3218 39.5px,#b62e18 64.5px,#bf3818 72.5px,#c74718 75.5px,#dd6411 77.5px,#e78413 79.5px,#f0a414 82.5px,#f5ba12 83.5px,#e7d619 84.5px,#3b83a9 85.5px,#321a3d 86.5px,#343434 87.5px,#343434 98.5px)"></i><i style="left:26px;width:1px;background:linear-gradient(#ba3218 0.5px,#bb3318 38.5px,#b72f18 63.5px,#c03a18 71.5px,#c74718 74.5px,#e16e11 77.5px,#e88a14 79.5px,#f1a814 82.5px,#f6c011 83.5px,#cccc1f 84.5px,#3c6fcd 85.5px,#343434 86.5px,#343434 98.5px)"></i><i style="left:27px;width:1px;background:linear-gradient(#bb3318 0.5px,#bb3318 37.5px,#b72f18 61.5px,#bf3918 69.5px,#c84818 73.5px,#e06810 76.5px,#e78513 78.5px,#ee9f14 81.5px,#f2ad13 82.5px,#f7c510 83.5px,#aec129 84.5px,#5f41e6 85.5px,#343434 86.5px,#343434 98.5px)"></i><i style="left:28px;width:1px;background:linear-gradient(#bb3318 0.5px,#bc3418 36.5px,#b83018 59.5px,#c03b18 68.5px,#c94918 72.5px,#e27111 76.5px,#e88b14 78.5px,#efa214 81.5px,#f3b113 82.5px,#f9cb10 83.5px,#87b539 84.5px,#7e25db 85.5px,#343434 86.5px,#343434 98.5px)"></i><i style="left:29px;width:1px;background:linear-gradient(#bb3318 0.5px,#bc3418 36.5px,#b83018 56.5px,#c13c18 67.5px,#ca4a17 71.5px,#e16d11 75.5px,#e78614 77.5px,#f0a514 81.5px,#f4b612 82.5px,#fad110 83.5px,#5fac48 84.5px,#8c1cd7 85.5px,#343434 86.5px,#343434 98.5px)"></i><i style="left:30px;width:1px;background:linear-gradient(#bb3318 0.5px,#bd3518 35.5px,#b83018 53.5px,#c23e18 66.5px,#cb4c17 70.5px,#e06a10 74.5px,#e88b14 77.5px,#f1aa13 81.5px,#f5ba12 82.5px,#fbd510 83.5px,#4ea94e 84.5px,#8f19d7 85.5px,#343434 86.5px,#343434 98.5px)"></i><i style="left:31px;width:1px;background:linear-gradient(#bb3318 0.5px,#bd3618 35.5px,#b83018 50.5px,#c23e18 64.5px,#cc4e17 69.5px,#e06710 73.5px,#e78814 76.5px,#f0a314 80.5px,#f6be11 82.5px,#fcd710 83.5px,#4ba94f 84.5px,#9019d7 85.5px,#343434 86.5px,#343434 98.5px)"></i><i style="left:32px;width:1px;background:linear-gradient(#bb3318 0.5px,#bd3618 35.5px,#b93118 48.5px,#c34018 63.5px,#ce5016 68.5px,#de6611 72.5px,#e98c14 76.5px,#f1a714 80.5px,#f7c211 82.5px,#fad811 83.5px,#49a850 84.5px,#9015d1 85.5px,#343434 86.5px,#343434 98.5px)"></i><i style="left:33px;width:1px;background:linear-gradient(#bb3318 0.5px,#be3718 35.5px,#bb3318 47.5px,#c54218 62.5px,#d05315 67.5px,#e16e11 72.5px,#ea8f14 76.5px,#f2ab13 80.5px,#f7c610 82.5px,#f7d813 83.5px,#45a653 84.5px,#7311a8 85.5px,#343434 86.5px,#343434 98.5px)"></i><i style="left:34px;width:1px;background:linear-gradient(#bb3318 0.5px,#be3818 35.5px,#bd3518 47.5px,#c64418 61.5px,#db6212 69.5px,#e57e13 73.5px,#f0a514 79.5px,#f8c810 82.5px,#f4d814 83.5px,#3ea05a 84.5px,#6d11a0 85.5px,#343434 86.5px,#343434 98.5px)"></i><i style="left:35px;width:1px;background:linear-gradient(#bc3418 0.5px,#bf3818 36.5px,#bf3918 48.5px,#c94918 61.5px,#e16d11 70.5px,#eb9514 76.5px,#f1a814 79.5px,#f9cb10 82.5px,#efd816 83.5px,#349764 84.5px,#681198 85.5px,#343434 86.5px,#343434 98.5px)"></i><i style="left:36px;width:1px;background:linear-gradient(#bc3518 0.5px,#bf3918 40.5px,#c34018 53.5px,#ce5016 61.5px,#e16d11 69.5px,#f0a314 78.5px,#f9cd10 82.5px,#e6d619 83.5px,#34907c 84.5px,#631092 85.5px,#343434 86.5px,#343434 98.5px)"></i><i style="left:37px;width:1px;background:linear-gradient(#bd3518 0.5px,#c23d18 47.5px,#cc4d17 58.5px,#e16d11 68.5px,#f1a714 78.5px,#fad110 82.5px,#d4cf1e 83.5px,#39889a 84.5px,#351746 85.5px,#343434 86.5px,#343434 98.5px)"></i><i style="left:38px;width:1px;background:linear-gradient(#bd3618 0.5px,#c23e18 45.5px,#cc4e17 56.5px,#e16e11 67.5px,#f0a314 77.5px,#f9ca10 81.5px,#fcd710 82.5px,#a8bf2b 83.5px,#3c71c9 84.5px,#343434 85.5px,#343434 98.5px)"></i><i style="left:39px;width:1px;background:linear-gradient(#be3718 0.5px,#c33f18 43.5px,#cf5116 55.5px,#e16e11 66.5px,#f0a614 77.5px,#facf10 81.5px,#efd816 82.5px,#56aa4b 83.5px,#8223da 84.5px,#343434 85.5px,#343434 98.5px)"></i><i style="left:40px;width:1px;background:linear-gradient(#be3818 0.5px,#c33f18 40.5px,#cf5216 53.5px,#e26f11 65.5px,#efa214 76.5px,#f8c910 80.5px,#fcd610 81.5px,#cccc1f 82.5px,#358f7f 83.5px,#7a12b2 84.5px,#343434 85.5px,#343434 98.5px)"></i><i style="left:41px;width:1px;background:linear-gradient(#bf3918 0.5px,#c34018 38.5px,#d25515 52.5px,#e26f11 64.5px,#ed9a14 74.5px,#f0a514 76.5px,#facf10 80.5px,#f2d815 81.5px,#8eb736 82.5px,#3c76c2 83.5px,#40125d 84.5px,#343434 85.5px,#343434 98.5px)"></i><i style="left:42px;width:1px;background:linear-gradient(#bf3a18 0.5px,#c34018 35.5px,#d25515 49.5px,#e27011 63.5px,#ec9714 73.5px,#f1a913 76.5px,#fbd610 80.5px,#d7d01d 81.5px,#49a850 82.5px,#514fe8 83.5px,#343434 84.5px,#343434 98.5px)"></i><i style="left:43px;width:1px;background:linear-gradient(#c03b18 0.5px,#c44118 32.5px,#cf5116 44.5px,#e27011 62.5px,#eb9514 72.5px,#f0a414 75.5px,#face10 79.5px,#f4d814 80.5px,#abc02a 81.5px,#34907e 82.5px,#9118d7 83.5px,#343434 84.5px,#343434 98.5px)"></i><i style="left:44px;width:1px;background:linear-gradient(#c13c18 0.5px,#c44118 27.5px,#cd4f16 40.5px,#e27111 61.5px,#eb9214 71.5px,#f1a714 75.5px,#fbd410 79.5px,#e0d31b 80.5px,#6fae43 81.5px,#3c78bf 82.5px,#641093 83.5px,#343434 84.5px,#343434 98.5px)"></i><i style="left:45px;width:1px;background:linear-gradient(#c23d18 0.5px,#c44118 22.5px,#cd4f16 37.5px,#e16d11 58.5px,#e98c14 69.5px,#efa214 74.5px,#f7c111 77.5px,#f9cd10 78.5px,#f7d813 79.5px,#c0c722 80.5px,#3c9e5c 81.5px,#534de8 82.5px,#2f1d34 83.5px,#343434 84.5px,#343434 98.5px)"></i><i style="left:46px;width:1px;background:linear-gradient(#c23f18 0.5px,#c44218 19.5px,#d05315 36.5px,#e27211 59.5px,#eb9214 70.5px,#f0a414 74.5px,#fbd310 78.5px,#e9d719 79.5px,#8eb736 80.5px,#388b94 81.5px,#8e1ad7 82.5px,#343434 83.5px,#343434 98.5px)"></i><i style="left:47px;width:1px;background:linear-gradient(#c44118 0.5px,#c74618 20.5px,#e26f11 56.5px,#e98d14 68.5px,#f0a614 74.5px,#fad811 78.5px,#d2ce1e 79.5px,#5fac48 80.5px,#3c73c6 81.5px,#54107c 82.5px,#343434 83.5px,#343434 98.5px)"></i><i style="left:48px;width:1px;background:linear-gradient(#c54418 0.5px,#c94918 19.5px,#e16c10 52.5px,#e78413 64.5px,#efa214 73.5px,#f4b512 75.5px,#facf10 77.5px,#f4d814 78.5px,#c5c921 79.5px,#55aa4c 80.5px,#3c6fce 81.5px,#4f1175 82.5px,#343434 83.5px,#343434 98.5px)"></i><i style="left:49px;width:1px;background:linear-gradient(#c74618 0.5px,#cc4d17 18.5px,#e16b10 49.5px,#e68113 62.5px,#f0a314 73.5px,#f5b912 75.5px,#fbd310 77.5px,#f0d816 78.5px,#c7ca21 79.5px,#6eae43 80.5px,#3b82aa 81.5px,#7e12b8 82.5px,#343434 83.5px,#343434 98.5px)"></i><i style="left:50px;width:1px;background:linear-gradient(#c84818 0.5px,#d25515 21.5px,#e27111 52.5px,#e88b14 65.5px,#f0a614 73.5px,#fcd710 77.5px,#ecd818 78.5px,#cacb20 79.5px,#87b539 80.5px,#34907b 81.5px,#8e1ad7 82.5px,#343434 83.5px,#343434 98.5px)"></i><i style="left:51px;width:1px;background:linear-gradient(#cb4c17 0.5px,#d85e13 25.5px,#e37512 53.5px,#e98c14 65.5px,#f0a314 72.5px,#f1a913 73.5px,#facf10 76.5px,#f8d812 77.5px,#e7d619 78.5px,#cacb20 79.5px,#99ba32 80.5px,#3fa159 81.5px,#455be8 82.5px,#301c38 83.5px,#343434 84.5px,#343434 98.5px)"></i><i style="left:52px;width:1px;background:linear-gradient(#cd4f16 0.5px,#e27111 47.5px,#e88914 63.5px,#f0a614 72.5px,#fbd410 76.5px,#f4d814 77.5px,#e2d41a 78.5px,#cacb20 79.5px,#a4be2d 80.5px,#5aab4a 81.5px,#3c81af 82.5px,#8112bb 83.5px,#343434 84.5px,#343434 98.5px)"></i><i style="left:53px;width:1px;background:linear-gradient(#d05315 0.5px,#e26f11 43.5px,#e78714 61.5px,#f0a414 71.5px,#f4b512 73.5px,#fcd810 76.5px,#f0d816 77.5px,#c6c921 79.5px,#a3bd2d 80.5px,#63ad47 81.5px,#378d8a 82.5px,#6e32e1 83.5px,#2f2132 84.5px,#343434 85.5px,#343434 98.5px)"></i><i style="left:54px;width:1px;background:linear-gradient(#d35614 0.5px,#e27011 40.5px,#e78513 59.5px,#ee9c14 68.5px,#f1a814 71.5px,#fad110 75.5px,#f8d812 76.5px,#ebd818 77.5px,#bec623 79.5px,#97ba32 80.5px,#5cab49 81.5px,#368e87 82.5px,#5a46e7 83.5px,#40125d 84.5px,#343434 85.5px,#343434 98.5px)"></i><i style="left:55px;width:1px;background:linear-gradient(#d65a13 0.5px,#e27111 39.5px,#e78714 59.5px,#f0a514 70.5px,#fbd510 75.5px,#f4d814 76.5px,#e3d51a 77.5px,#b4c326 79.5px,#88b539 80.5px,#4fa94e 81.5px,#398a95 82.5px,#6040e5 83.5px,#40125c 84.5px,#343434 85.5px,#343434 98.5px)"></i><i style="left:56px;width:1px;background:linear-gradient(#d85e13 0.5px,#e37311 38.5px,#e88914 59.5px,#f0a414 69.5px,#facf10 74.5px,#fbd810 75.5px,#f0d816 76.5px,#c6c921 78.5px,#a8bf2b 79.5px,#7ab13f 80.5px,#46a652 81.5px,#3a86a1 82.5px,#6b35e2 83.5px,#3c1257 84.5px,#343434 85.5px,#343434 98.5px)"></i><i style="left:57px;width:1px;background:linear-gradient(#da6012 0.5px,#e27311 33.5px,#e78814 57.5px,#f0a314 68.5px,#f5b912 71.5px,#fbd310 74.5px,#f8d812 75.5px,#ead718 76.5px,#bdc623 78.5px,#9bbb31 79.5px,#3ea05a 81.5px,#3c80af 82.5px,#772bde 83.5px,#37154c 84.5px,#343434 85.5px,#343434 98.5px)"></i><i style="left:58px;width:1px;background:linear-gradient(#dd6411 0.5px,#e68213 50.5px,#ea9014 60.5px,#f1a614 68.5px,#fcd710 74.5px,#f3d815 75.5px,#cccc1f 77.5px,#b3c226 78.5px,#64ad47 80.5px,#369962 81.5px,#3c78bd 82.5px,#8521d9 83.5px,#302733 84.5px,#343434 85.5px,#343434 98.5px)"></i><i style="left:59px;width:1px;background:linear-gradient(#df6710 0.5px,#e78413 50.5px,#ea9014 59.5px,#f0a614 67.5px,#fbd410 73.5px,#f8d812 74.5px,#edd818 75.5px,#c3c821 77.5px,#a7bf2b 78.5px,#58ab4b 80.5px,#329270 81.5px,#3c70cc 82.5px,#8b1cd8 83.5px,#343434 84.5px,#343434 98.5px)"></i><i style="left:60px;width:1px;background:linear-gradient(#e16b10 0.5px,#e78614 50.5px,#ea9114 58.5px,#f0a614 66.5px,#fbd810 73.5px,#f2d815 74.5px,#e4d51a 75.5px,#bbc523 77.5px,#9bbb31 78.5px,#49a850 80.5px,#368e86 81.5px,#3e68da 82.5px,#8e1ad7 83.5px,#343434 84.5px,#343434 98.5px)"></i><i style="left:61px;width:1px;background:linear-gradient(#e16e11 0.5px,#e78714 49.5px,#ea9114 57.5px,#f0a614 65.5px,#fcd610 72.5px,#ecd818 74.5px,#c8ca20 76.5px,#b2c227 77.5px,#68ad45 79.5px,#3fa159 80.5px,#3a879c 81.5px,#465ae8 82.5px,#9015d0 83.5px,#343434 84.5px,#343434 98.5px)"></i><i style="left:62px;width:1px;background:linear-gradient(#e27211 0.5px,#e88914 48.5px,#ec9614 58.5px,#f0a614 64.5px,#fbd410 71.5px,#f9d811 72.5px,#e4d51a 74.5px,#c1c722 76.5px,#a7bf2b 77.5px,#5dac49 79.5px,#359963 80.5px,#3c7fb2 81.5px,#5f41e6 82.5px,#621090 83.5px,#343434 84.5px,#343434 98.5px)"></i><i style="left:63px;width:1px;background:linear-gradient(#e37612 0.5px,#e88b14 47.5px,#ed9914 58.5px,#f0a514 63.5px,#fcd810 71.5px,#ebd718 73.5px,#b9c524 76.5px,#9bbb31 77.5px,#75b041 78.5px,#50a94d 79.5px,#329273 80.5px,#3c72c8 81.5px,#7e25db 82.5px,#38144e 83.5px,#343434 84.5px,#343434 98.5px)"></i><i style="left:64px;width:1px;background:linear-gradient(#e47912 0.5px,#e98c14 46.5px,#ee9e14 59.5px,#f1ab13 63.5px,#fcd610 70.5px,#efd817 72.5px,#c5c921 75.5px,#b0c128 76.5px,#45a553 79.5px,#378d8a 80.5px,#3f64e2 81.5px,#9416d6 82.5px,#343434 83.5px,#343434 98.5px)"></i><i style="left:65px;width:1px;background:linear-gradient(#e57d12 0.5px,#e98d14 44.5px,#ee9f14 58.5px,#f1ab13 62.5px,#fbd410 69.5px,#f9d811 70.5px,#e8d719 72.5px,#bec623 75.5px,#a5be2c 76.5px,#60ac48 78.5px,#3c9e5c 79.5px,#3a86a0 80.5px,#564ae8 81.5px,#651094 82.5px,#343434 83.5px,#343434 98.5px)"></i><i style="left:66px;width:1px;background:linear-gradient(#e68113 0.5px,#ea8f14 43.5px,#efa114 58.5px,#f3b212 62.5px,#fbd810 69.5px,#edd818 71.5px,#b6c325 75.5px,#98ba32 76.5px,#74af41 77.5px,#55aa4c 78.5px,#329666 79.5px,#3c7bb9 80.5px,#782add 81.5px,#391350 82.5px,#343434 83.5px,#343434 98.5px)"></i><i style="left:67px;width:1px;background:linear-gradient(#e78513 0.5px,#ea9014 40.5px,#efa214 57.5px,#f3b312 61.5px,#fcd810 68.5px,#efd816 70.5px,#bfc722 74.5px,#aac02a 75.5px,#45a653 78.5px,#358f81 79.5px,#3e68d9 80.5px,#9316d6 81.5px,#343434 82.5px,#343434 98.5px)"></i><i style="left:68px;width:1px;background:linear-gradient(#e88814 0.5px,#ea9114 37.5px,#f0a314 56.5px,#f6c011 62.5px,#fbd810 67.5px,#e8d719 70.5px,#b7c425 74.5px,#9bbb30 75.5px,#78b040 76.5px,#59ab4a 77.5px,#389a60 78.5px,#3a85a3 79.5px,#5848e8 80.5px,#621090 81.5px,#343434 82.5px,#343434 98.5px)"></i><i style="left:69px;width:1px;background:linear-gradient(#e88c14 0.5px,#eb9314 35.5px,#f0a414 55.5px,#fbd610 65.5px,#f0d816 68.5px,#d5cf1d 71.5px,#bec623 73.5px,#aac02a 74.5px,#47a751 77.5px,#339177 78.5px,#3c75c3 79.5px,#8123da 80.5px,#321a3d 81.5px,#343434 82.5px,#343434 98.5px)"></i><i style="left:70px;width:1px;background:linear-gradient(#e98e14 0.5px,#ec9614 36.5px,#f0a514 54.5px,#fcd710 64.5px,#ead718 68.5px,#c3c821 72.5px,#b5c326 73.5px,#9abb31 74.5px,#78b040 75.5px,#5aab4a 76.5px,#3a9d5e 77.5px,#398a96 78.5px,#415fe8 79.5px,#8814c5 80.5px,#343434 81.5px,#343434 98.5px)"></i><i style="left:71px;width:1px;background:linear-gradient(#ea9114 0.5px,#ed9914 36.5px,#f1a614 52.5px,#f4b812 56.5px,#fcd810 63.5px,#ead718 67.5px,#bcc523 72.5px,#a7bf2b 73.5px,#47a751 76.5px,#329270 77.5px,#3c7eb3 78.5px,#6739e3 79.5px,#501176 80.5px,#343434 81.5px,#343434 98.5px)"></i><i style="left:72px;width:1px;background:linear-gradient(#eb9414 0.5px,#ee9c14 36.5px,#f1a814 49.5px,#f4b712 54.5px,#fbd610 61.5px,#efd817 65.5px,#c9cb20 70.5px,#b2c227 72.5px,#97ba32 73.5px,#76b041 74.5px,#5aab4a 75.5px,#3d9e5b 76.5px,#378d8b 77.5px,#3d6cd2 78.5px,#8b1cd7 79.5px,#301c36 80.5px,#343434 81.5px,#343434 98.5px)"></i><i style="left:73px;width:1px;background:linear-gradient(#ec9714 0.5px,#ee9e14 35.5px,#f1a913 46.5px,#f7c211 54.5px,#fcd810 60.5px,#e9d719 65.5px,#b8c424 71.5px,#a4be2d 72.5px,#4aa84f 75.5px,#319567 76.5px,#3a85a3 77.5px,#4c54e8 78.5px,#8112bb 79.5px,#343434 80.5px,#343434 98.5px)"></i><i style="left:74px;width:1px;background:linear-gradient(#ed9a14 0.5px,#efa114 35.5px,#f1aa13 43.5px,#f9cc10 54.5px,#fbd810 58.5px,#e8d619 64.5px,#bbc523 70.5px,#abc029 71.5px,#74af41 73.5px,#5aab4a 74.5px,#3fa159 75.5px,#358f7f 76.5px,#3c79bd 77.5px,#6d33e1 78.5px,#4d1170 79.5px,#343434 80.5px,#343434 98.5px)"></i><i style="left:75px;width:1px;background:linear-gradient(#ee9d14 0.5px,#f0a314 33.5px,#f3af13 42.5px,#fbd811 56.5px,#ecd818 62.5px,#bdc623 69.5px,#b1c227 70.5px,#9bbb31 71.5px,#66ad46 73.5px,#4ba84f 74.5px,#349764 75.5px,#398998 76.5px,#3e69d9 77.5px,#8c1cd7 78.5px,#301c37 79.5px,#343434 80.5px,#343434 98.5px)"></i><i style="left:76px;width:1px;background:linear-gradient(#efa014 0.5px,#f0a514 29.5px,#f4b512 41.5px,#fcd810 53.5px,#ead719 61.5px,#bfc722 68.5px,#b5c325 69.5px,#a2bd2e 70.5px,#41a257 74.5px,#339177 75.5px,#3c81ae 76.5px,#4e52e8 77.5px,#8313bf 78.5px,#343434 79.5px,#343434 98.5px)"></i><i style="left:77px;width:1px;background:linear-gradient(#f0a314 0.5px,#f1a814 26.5px,#f6bd11 41.5px,#fbd810 51.5px,#e7d619 60.5px,#c0c722 67.5px,#b8c424 68.5px,#a8bf2b 69.5px,#78b040 71.5px,#4aa84f 73.5px,#369962 74.5px,#388c8f 75.5px,#3c74c4 76.5px,#6c34e1 77.5px,#571081 78.5px,#343434 79.5px,#343434 98.5px)"></i><i style="left:78px;width:1px;background:linear-gradient(#f1a814 0.5px,#f3b013 26.5px,#f7c510 41.5px,#fbd811 49.5px,#e9d719 58.5px,#c7ca20 65.5px,#bac524 67.5px,#adc129 68.5px,#6cae44 71.5px,#41a257 73.5px,#329271 74.5px,#3a85a2 75.5px,#3f66de 76.5px,#8a1dd8 77.5px,#351746 78.5px,#343434 79.5px,#343434 98.5px)"></i><i style="left:79px;width:1px;background:linear-gradient(#f2ad13 0.5px,#f5ba12 27.5px,#f9cc10 41.5px,#fad811 47.5px,#e7d619 57.5px,#c2c822 65.5px,#b1c227 67.5px,#8ab638 69.5px,#4ba84f 72.5px,#389b60 73.5px,#368e86 74.5px,#3c7db6 75.5px,#5050e8 76.5px,#8a14c8 77.5px,#343434 78.5px,#343434 98.5px)"></i><i style="left:80px;width:1px;background:linear-gradient(#f3b312 0.5px,#f7c410 29.5px,#fbd510 42.5px,#edd818 53.5px,#d1ce1e 61.5px,#bcc623 65.5px,#b3c326 66.5px,#92b835 68.5px,#43a455 72.5px,#30946a 73.5px,#398997 74.5px,#3c72c9 75.5px,#6b35e2 76.5px,#5c1087 77.5px,#343434 78.5px,#343434 98.5px)"></i><i style="left:81px;width:1px;background:linear-gradient(#f5b912 0.5px,#fbd310 37.5px,#f9d812 43.5px,#e5d51a 54.5px,#c2c822 63.5px,#b5c325 65.5px,#97ba32 67.5px,#4ea94e 71.5px,#3c9e5c 72.5px,#339178 73.5px,#3a85a4 74.5px,#3e67db 75.5px,#8421d9 76.5px,#3c1258 77.5px,#343434 78.5px,#343434 98.5px)"></i><i style="left:82px;width:1px;background:linear-gradient(#f6bf11 0.5px,#fbd811 39.5px,#e5d51a 52.5px,#c2c822 62.5px,#b7c425 64.5px,#9bbb31 66.5px,#68ad45 69.5px,#46a652 71.5px,#359963 72.5px,#368e84 73.5px,#3c80b0 74.5px,#455be8 75.5px,#9217d6 76.5px,#2e1e32 77.5px,#343434 78.5px,#343434 98.5px)"></i><i style="left:83px;width:1px;background:linear-gradient(#f7c510 0.5px,#fad811 31.5px,#f1d816 44.5px,#ddd21b 53.5px,#bdc623 62.5px,#adc129 64.5px,#6eae43 68.5px,#50a94d 70.5px,#40a258 71.5px,#30946a 72.5px,#388c90 73.5px,#3c79bc 74.5px,#5749e8 75.5px,#8313bf 76.5px,#343434 77.5px,#343434 98.5px)"></i><i style="left:84px;width:1px;background:linear-gradient(#f9cb10 0.5px,#fad811 22.5px,#efd817 43.5px,#d2ce1e 55.5px,#b7c424 62.5px,#a1bd2e 64.5px,#66ad46 68.5px,#48a850 70.5px,#3a9d5e 71.5px,#339175 72.5px,#39889a 73.5px,#3c71ca 74.5px,#6e32e1 75.5px,#591083 76.5px,#343434 77.5px,#343434 98.5px)"></i><i style="left:85px;width:1px;background:linear-gradient(#fad110 0.5px,#fad811 14.5px,#edd818 42.5px,#c7ca20 57.5px,#b7c424 61.5px,#a2bd2e 63.5px,#6bae44 67.5px,#43a455 70.5px,#349864 71.5px,#358f7f 72.5px,#3a85a4 73.5px,#3e67db 74.5px,#861fd9 75.5px,#3c1256 76.5px,#343434 77.5px,#343434 98.5px)"></i><i style="left:86px;width:1px;background:linear-gradient(#fcd710 0.5px,#ebd818 40.5px,#c9ca20 55.5px,#b8c424 60.5px,#96b933 63.5px,#63ad47 67.5px,#4aa84f 69.5px,#3ea05a 70.5px,#30946a 71.5px,#368e88 72.5px,#3c80af 73.5px,#465ae8 74.5px,#9416d6 75.5px,#2e1f32 76.5px,#343434 77.5px,#343434 98.5px)"></i><i style="left:87px;width:1px;background:linear-gradient(#f9d811 0.5px,#e9d719 38.5px,#cccc1f 52.5px,#b8c424 59.5px,#a4be2d 61.5px,#67ad46 66.5px,#45a553 69.5px,#389b60 70.5px,#329273 71.5px,#388b92 72.5px,#3c79bc 73.5px,#5a46e7 74.5px,#8112bb 75.5px,#343434 76.5px,#343434 98.5px)"></i><i style="left:88px;width:1px;background:linear-gradient(#f5d813 0.5px,#e6d619 36.5px,#d1ce1e 48.5px,#b5c325 58.5px,#a4be2d 60.5px,#6aae45 65.5px,#49a850 68.5px,#329666 70.5px,#34907d 71.5px,#3a879d 72.5px,#3c6fce 73.5px,#742ddf 74.5px,#55107d 75.5px,#343434 76.5px,#343434 98.5px)"></i><i style="left:89px;width:1px;background:linear-gradient(#f2d815 0.5px,#e1d41b 36.5px,#cccc1f 48.5px,#b6c425 56.5px,#a1bd2e 59.5px,#62ac47 65.5px,#44a554 68.5px,#31936e 70.5px,#368e87 71.5px,#3b82aa 72.5px,#4061e6 73.5px,#8c1bd7 74.5px,#391352 75.5px,#343434 76.5px,#343434 98.5px)"></i><i style="left:90px;width:1px;background:linear-gradient(#eed817 0.5px,#dbd21c 37.5px,#c3c822 50.5px,#b3c226 55.5px,#94b934 59.5px,#5aab4a 65.5px,#47a751 67.5px,#339765 69.5px,#339178 70.5px,#388b92 71.5px,#3c7bb9 72.5px,#544ce8 73.5px,#8c14cb 74.5px,#2f2132 75.5px,#343434 76.5px,#343434 98.5px)"></i><i style="left:91px;width:1px;background:linear-gradient(#e8d719 0.5px,#d7d01d 37.5px,#c0c722 49.5px,#b4c326 53.5px,#91b835 58.5px,#49a850 66.5px,#389b60 68.5px,#31936c 69.5px,#358f81 70.5px,#3a879c 71.5px,#3c70cb 72.5px,#6d33e1 73.5px,#7311a8 74.5px,#343434 75.5px,#343434 98.5px)"></i><i style="left:92px;width:1px;background:linear-gradient(#e2d41a 0.5px,#d2ce1e 37.5px,#bcc523 49.5px,#abc02a 53.5px,#65ad46 62.5px,#44a554 66.5px,#339665 68.5px,#339175 69.5px,#378d89 70.5px,#3b83a9 71.5px,#3f63e3 72.5px,#871fd8 73.5px,#501176 74.5px,#343434 75.5px,#343434 98.5px)"></i><i style="left:93px;width:1px;background:linear-gradient(#dbd21c 0.5px,#cecc1f 37.5px,#bac524 48.5px,#a0bc2f 53.5px,#55aa4c 63.5px,#3fa059 66.5px,#31936c 68.5px,#34907c 69.5px,#388b92 70.5px,#3c7bb9 71.5px,#524ee8 72.5px,#9416d6 73.5px,#391350 74.5px,#343434 75.5px,#343434 98.5px)"></i><i style="left:94px;width:1px;background:linear-gradient(#d5cf1d 0.5px,#cacb20 37.5px,#b7c424 47.5px,#8eb736 54.5px,#46a752 64.5px,#319567 67.5px,#368e84 69.5px,#3a879d 70.5px,#3c70cc 71.5px,#6937e2 72.5px,#8212bc 73.5px,#2e1e32 74.5px,#343434 75.5px,#343434 98.5px)"></i><i style="left:95px;width:1px;background:linear-gradient(#cfcd1f 0.5px,#c6c921 37.5px,#b8c424 45.5px,#91b835 52.5px,#47a751 63.5px,#349764 66.5px,#31936e 67.5px,#378d8c 69.5px,#3b82aa 70.5px,#3f63e2 71.5px,#8024db 72.5px,#671197 73.5px,#343434 74.5px,#343434 98.5px)"></i><i style="left:96px;width:1px;background:linear-gradient(#c8ca20 0.5px,#c3c821 34.5px,#b9c424 43.5px,#9abb31 49.5px,#5dab49 59.5px,#43a455 63.5px,#30946a 66.5px,#368e84 68.5px,#398a96 69.5px,#3c7abb 70.5px,#514fe8 71.5px,#8f19d7 72.5px,#49116c 73.5px,#343434 74.5px,#343434 98.5px)"></i><i style="left:97px;width:1px;background:linear-gradient(#c2c822 0.5px,#c1c822 26.5px,#b9c524 41.5px,#a8bf2b 45.5px,#67ad46 56.5px,#44a454 62.5px,#319567 65.5px,#378d8d 68.5px,#3b84a5 69.5px,#3d6dd1 70.5px,#6739e3 71.5px,#8c14cb 72.5px,#37154b 73.5px,#343434 74.5px,#343434 98.5px)"></i><i style="left:98px;width:1px;background:linear-gradient(#bcc623 0.5px,#bdc623 16.5px,#b7c424 40.5px,#86b53a 49.5px,#44a554 61.5px,#329666 64.5px,#368e87 67.5px,#398998 68.5px,#3c7cb7 69.5px,#425ee8 70.5px,#7b27dc 71.5px,#7a12b2 72.5px,#2e1f32 73.5px,#343434 74.5px,#343434 98.5px)"></i><i style="left:99px;width:1px;background:linear-gradient(#b6c325 0.5px,#b9c424 12.5px,#b2c227 39.5px,#88b539 47.5px,#45a553 60.5px,#31936c 64.5px,#388c91 67.5px,#3b84a7 68.5px,#3c72c9 69.5px,#544ce8 70.5px,#8b1cd8 71.5px,#61108e 72.5px,#343434 73.5px,#343434 98.5px)"></i><i style="left:100px;width:1px;background:linear-gradient(#acc029 0.5px,#b1c227 8.5px,#a9bf2b 37.5px,#9ebc2f 41.5px,#61ac48 53.5px,#44a554 59.5px,#309469 63.5px,#378d8a 66.5px,#39889b 67.5px,#3c7db6 68.5px,#3e67dc 69.5px,#663ae3 70.5px,#9416d6 71.5px,#461167 72.5px,#343434 73.5px,#343434 98.5px)"></i><i style="left:101px;width:1px;background:linear-gradient(#a1bd2e 0.5px,#a8bf2b 8.5px,#9fbc2f 35.5px,#97ba33 40.5px,#43a455 58.5px,#309468 62.5px,#368e86 65.5px,#388b93 66.5px,#3b83a8 67.5px,#3c74c5 68.5px,#465ae8 69.5px,#762bde 70.5px,#8613c2 71.5px,#37154d 72.5px,#343434 73.5px,#343434 98.5px)"></i><i style="left:102px;width:1px;background:linear-gradient(#97ba32 0.5px,#9ebc2f 10.5px,#95b933 35.5px,#88b539 41.5px,#46a652 56.5px,#319567 61.5px,#388c8e 65.5px,#3a879e 66.5px,#3c7db6 67.5px,#3d6cd4 68.5px,#554be8 69.5px,#8620d9 70.5px,#7211a7 71.5px,#2f2132 72.5px,#343434 73.5px,#343434 98.5px)"></i><i style="left:103px;width:1px;background:linear-gradient(#8db737 0.5px,#94b934 11.5px,#8cb637 34.5px,#7eb23d 41.5px,#51aa4d 52.5px,#3ea05a 57.5px,#329566 60.5px,#378d89 64.5px,#398a96 65.5px,#3b82aa 66.5px,#3c75c2 67.5px,#3f62e4 68.5px,#643ce4 69.5px,#8f19d7 70.5px,#5d1089 71.5px,#332f34 72.5px,#343434 74.5px,#343434 98.5px)"></i><i style="left:104px;width:1px;background:linear-gradient(#83b43b 0.5px,#8bb638 11.5px,#82b33c 34.5px,#6faf43 43.5px,#44a554 54.5px,#31936c 60.5px,#388c90 64.5px,#3a86a0 65.5px,#3c7db6 66.5px,#3c6ecf 67.5px,#4a56e8 68.5px,#742ddf 69.5px,#8e15ce 70.5px,#461167 71.5px,#343434 72.5px,#343434 98.5px)"></i><i style="left:105px;width:1px;background:linear-gradient(#79b03f 0.5px,#81b33c 11.5px,#78b040 34.5px,#68ad45 43.5px,#43a455 53.5px,#31936b 59.5px,#378d8c 63.5px,#398998 64.5px,#3c77c1 66.5px,#3e67dc 67.5px,#5848e8 68.5px,#8322da 69.5px,#7f12b9 70.5px,#361648 71.5px,#343434 72.5px,#343434 98.5px)"></i><i style="left:106px;width:1px;background:linear-gradient(#72af42 0.5px,#78b040 13.5px,#6fae43 36.5px,#5eac49 44.5px,#43a455 52.5px,#31936b 58.5px,#388b92 63.5px,#3a85a2 64.5px,#3c70cc 66.5px,#435de8 67.5px,#663ae3 68.5px,#8d1ad7 69.5px,#681198 70.5px,#2f2332 71.5px,#343434 72.5px,#343434 98.5px)"></i><i style="left:107px;width:1px;background:linear-gradient(#6aae45 0.5px,#71af42 12.5px,#68ad45 36.5px,#55aa4c 45.5px,#42a356 51.5px,#30946a 57.5px,#388c8e 62.5px,#39889a 63.5px,#3c77c0 65.5px,#3e69d8 66.5px,#4f51e8 67.5px,#742ddf 68.5px,#9216d3 69.5px,#53117a 70.5px,#343434 71.5px,#343434 98.5px)"></i><i style="left:108px;width:1px;background:linear-gradient(#63ac47 0.5px,#6aae45 11.5px,#61ac48 36.5px,#4fa94e 45.5px,#3b9d5d 52.5px,#30946a 56.5px,#378d8b 61.5px,#398a94 62.5px,#3c7db6 64.5px,#3c71c9 65.5px,#4062e5 66.5px,#5b45e7 67.5px,#8223da 68.5px,#8413c0 69.5px,#3d1259 70.5px,#343434 71.5px,#343434 98.5px)"></i><i style="left:109px;width:1px;background:linear-gradient(#5cab49 0.5px,#63ad47 10.5px,#5aab4a 36.5px,#4ca94f 44.5px,#379a61 52.5px,#31936b 55.5px,#388c90 61.5px,#39889c 62.5px,#3c77bf 64.5px,#3d6cd4 65.5px,#4858e8 66.5px,#6739e3 67.5px,#8c1cd7 68.5px,#7111a5 69.5px,#311b3c 70.5px,#343434 71.5px,#343434 98.5px)"></i><i style="left:110px;width:1px;background:linear-gradient(#54aa4c 0.5px,#5cab49 8.5px,#53aa4c 36.5px,#43a455 46.5px,#31936b 54.5px,#378d8d 60.5px,#398a96 61.5px,#3c73c8 64.5px,#3f65df 65.5px,#524ee8 66.5px,#732edf 67.5px,#9317d6 68.5px,#5c1088 69.5px,#302633 70.5px,#343434 71.5px,#343434 98.5px)"></i><i style="left:111px;width:1px;background:linear-gradient(#4da94e 0.5px,#55aa4c 6.5px,#4ea94e 34.5px,#45a553 43.5px,#31936c 53.5px,#388b92 60.5px,#3c81af 62.5px,#3d6ed0 64.5px,#415fe8 65.5px,#5c44e7 66.5px,#7f25db 67.5px,#8a14c7 68.5px,#4a116c 69.5px,#343434 70.5px,#343434 98.5px)"></i><i style="left:112px;width:1px;background:linear-gradient(#48a850 0.5px,#4ea94e 4.5px,#46a652 39.5px,#309469 51.5px,#388c91 59.5px,#3b83a8 61.5px,#3c73c6 63.5px,#3e68d9 64.5px,#4a56e8 65.5px,#663ae3 66.5px,#891dd8 67.5px,#7d12b6 68.5px,#37154c 69.5px,#343434 70.5px,#343434 98.5px)"></i><i style="left:113px;width:1px;background:linear-gradient(#45a653 0.5px,#48a850 12.5px,#40a158 41.5px,#30946a 50.5px,#388c91 58.5px,#3a85a4 60.5px,#3c6fcd 63.5px,#3f63e3 64.5px,#534de8 65.5px,#7030e0 66.5px,#8f19d7 67.5px,#6b119d 68.5px,#311b39 69.5px,#343434 70.5px,#343434 98.5px)"></i><i style="left:114px;width:1px;background:linear-gradient(#41a257 0.5px,#44a554 13.5px,#3c9e5c 41.5px,#31936c 49.5px,#388c91 57.5px,#3a86a1 59.5px,#3c74c5 62.5px,#435de8 64.5px,#5b45e7 65.5px,#7a29dd 66.5px,#9216d4 67.5px,#5b1086 68.5px,#302633 69.5px,#343434 70.5px,#343434 98.5px)"></i><i style="left:115px;width:1px;background:linear-gradient(#3d9f5b 0.5px,#40a158 14.5px,#379a61 41.5px,#31936b 47.5px,#388c91 56.5px,#3b82aa 59.5px,#3c70cb 62.5px,#3e66dd 63.5px,#4a56e8 64.5px,#633de4 65.5px,#8321da 66.5px,#8914c7 67.5px,#4d1171 68.5px,#333134 69.5px,#343434 72.5px,#343434 98.5px)"></i><i style="left:116px;width:1px;background:linear-gradient(#399b5f 0.5px,#3c9e5c 17.5px,#349764 41.5px,#31936e 46.5px,#388c91 55.5px,#3b83a7 58.5px,#3d6dd2 62.5px,#4062e5 63.5px,#524ee8 64.5px,#6b35e2 65.5px,#8b1cd8 66.5px,#7f12b9 67.5px,#40125d 68.5px,#343434 69.5px,#343434 98.5px)"></i><i style="left:117px;width:1px;background:linear-gradient(#359863 0.5px,#389b60 19.5px,#309468 41.5px,#358f80 50.5px,#3a879e 56.5px,#3c71ca 61.5px,#3e68d9 62.5px,#455be8 63.5px,#5947e8 64.5px,#752cde 65.5px,#9018d7 66.5px,#6e11a1 67.5px,#341842 68.5px,#343434 69.5px,#343434 98.5px)"></i><i style="left:118px;width:1px;background:linear-gradient(#319567 0.5px,#349864 20.5px,#31936b 39.5px,#358f82 49.5px,#398997 54.5px,#3c79bc 59.5px,#3d6ed0 61.5px,#3f64e2 62.5px,#4d53e8 63.5px,#623ee5 64.5px,#8024db 65.5px,#9015d0 66.5px,#5b1087 67.5px,#2f2232 68.5px,#343434 69.5px,#343434 98.5px)"></i><i style="left:119px;width:1px;background:linear-gradient(#31936c 0.5px,#319567 12.5px,#31936e 36.5px,#358f81 47.5px,#398997 53.5px,#3c76c1 59.5px,#3e6ad7 61.5px,#425ee8 62.5px,#554be8 63.5px,#8a1dd8 65.5px,#8513c0 66.5px,#4b116e 67.5px,#322d33 68.5px,#343434 69.5px,#343434 98.5px)"></i><i style="left:120px;width:1px;background:linear-gradient(#329272 0.5px,#31936c 12.5px,#339176 38.5px,#378d8b 49.5px,#3a879d 53.5px,#3c74c5 59.5px,#3c6ecf 60.5px,#3f65df 61.5px,#4a56e8 62.5px,#5e42e6 63.5px,#782add 64.5px,#9019d7 65.5px,#7611ac 66.5px,#3d1258 67.5px,#343434 68.5px,#343434 98.5px)"></i><i style="left:121px;width:1px;background:linear-gradient(#339178 0.5px,#329272 12.5px,#34907c 38.5px,#388b92 50.5px,#3c75c3 58.5px,#3d6bd5 60.5px,#4060e8 61.5px,#6739e3 63.5px,#8123da 64.5px,#9216d3 65.5px,#651195 66.5px,#321a3d 67.5px,#343434 68.5px,#343434 98.5px)"></i><i style="left:122px;width:1px;background:linear-gradient(#34907e 0.5px,#339178 12.5px,#358f83 39.5px,#398a94 49.5px,#3c76c2 57.5px,#3d6ed0 59.5px,#3f66de 60.5px,#4858e8 61.5px,#5947e8 62.5px,#8a1dd8 64.5px,#8814c6 65.5px,#55107d 66.5px,#302733 67.5px,#343434 68.5px,#343434 98.5px)"></i><i style="left:123px;width:1px;background:linear-gradient(#368e84 0.5px,#34907e 11.5px,#378d89 40.5px,#39889b 49.5px,#3c73c7 57.5px,#3e69d8 59.5px,#4060e8 60.5px,#623ee5 62.5px,#7929dd 63.5px,#8f19d7 64.5px,#7e12b7 65.5px,#461167 66.5px,#333134 67.5px,#343434 71.5px,#343434 98.5px)"></i><i style="left:124px;width:1px;background:linear-gradient(#378d89 0.5px,#368e84 12.5px,#388c90 41.5px,#3a85a3 49.5px,#3c70cc 57.5px,#3f63e2 59.5px,#4858e8 60.5px,#5749e8 61.5px,#8222da 63.5px,#9416d5 64.5px,#6d119f 65.5px,#391350 66.5px,#343434 67.5px,#343434 98.5px)"></i><i style="left:125px;width:1px;background:linear-gradient(#378d8d 0.5px,#378d8c 22.5px,#398a96 42.5px,#3b83a9 49.5px,#3c71cb 56.5px,#435de8 59.5px,#5e42e6 61.5px,#8a1dd8 63.5px,#8b14c9 64.5px,#5d1089 65.5px,#311b39 66.5px,#343434 67.5px,#343434 98.5px)"></i><i style="left:126px;width:1px;background:linear-gradient(#388c90 0.5px,#398a95 36.5px,#3a86a0 44.5px,#3c7abb 52.5px,#3d6dd1 56.5px,#4061e6 58.5px,#554be8 60.5px,#8e1ad7 63.5px,#8112bc 64.5px,#4e1172 65.5px,#312833 66.5px,#343434 67.5px,#343434 98.5px)"></i><i style="left:127px;width:1px;background:linear-gradient(#388b93 0.5px,#398999 34.5px,#3a85a3 43.5px,#3c77c0 52.5px,#3c6ecf 55.5px,#3f63e2 57.5px,#455be8 58.5px,#5c44e7 60.5px,#8321da 62.5px,#9416d6 63.5px,#7211a7 64.5px,#40125d 65.5px,#333134 66.5px,#343434 85.5px,#343434 98.5px)"></i><i style="left:128px;width:1px;background:linear-gradient(#398997 0.5px,#39889b 32.5px,#3b83a8 43.5px,#3c74c4 52.5px,#3d6bd5 55.5px,#415fe8 57.5px,#544ce8 59.5px,#752cde 61.5px,#8a1dd8 62.5px,#8c14cb 63.5px,#631092 64.5px,#351747 65.5px,#343434 66.5px,#343434 98.5px)"></i><i style="left:129px;width:1px;background:linear-gradient(#39889a 0.5px,#3a879e 29.5px,#3b82ab 42.5px,#3c74c4 51.5px,#3d6bd4 54.5px,#4061e5 56.5px,#5a46e7 59.5px,#8e1ad7 62.5px,#8413c0 63.5px,#56107e 64.5px,#2f1d34 65.5px,#343434 66.5px,#343434 98.5px)"></i><i style="left:130px;width:1px;background:linear-gradient(#3a879d 0.5px,#3a86a0 27.5px,#3c81ad 41.5px,#3c74c5 50.5px,#3d6cd3 53.5px,#435de8 56.5px,#5f41e6 59.5px,#8321da 61.5px,#9217d6 62.5px,#7a12b2 63.5px,#49116b 64.5px,#312a33 65.5px,#343434 66.5px,#343434 98.5px)"></i><i style="left:131px;width:1px;background:linear-gradient(#3a86a0 0.5px,#3a85a3 25.5px,#3c80b0 40.5px,#3c72c8 50.5px,#3e69d8 53.5px,#4060e8 55.5px,#5848e8 58.5px,#762bde 60.5px,#891dd8 61.5px,#9015d1 62.5px,#6f11a2 63.5px,#40125d 64.5px,#333134 65.5px,#343434 98.5px)"></i><i style="left:132px;width:1px;background:linear-gradient(#3a85a3 0.5px,#3b84a5 23.5px,#3c7eb3 40.5px,#3c72c9 49.5px,#3e6ad7 52.5px,#4061e6 54.5px,#5d43e6 58.5px,#8c1bd7 61.5px,#8a14c8 62.5px,#641094 63.5px,#391350 64.5px,#343434 65.5px,#343434 98.5px)"></i><i style="left:133px;width:1px;background:linear-gradient(#3b84a6 0.5px,#3b83a8 22.5px,#3c7cb7 40.5px,#3c70cc 49.5px,#435de8 54.5px,#5749e8 57.5px,#712fe0 59.5px,#8f19d7 61.5px,#8513c1 62.5px,#5c1087 63.5px,#33193f 64.5px,#343434 65.5px,#343434 98.5px)"></i><i style="left:134px;width:1px;background:linear-gradient(#3b83a9 0.5px,#3b82aa 20.5px,#3c7bb8 39.5px,#3c70cc 48.5px,#415fe8 53.5px,#5c44e7 57.5px,#8520d9 60.5px,#9218d6 61.5px,#8012ba 62.5px,#53117b 63.5px,#2f1d34 64.5px,#343434 65.5px,#343434 98.5px)"></i><i style="left:135px;width:1px;background:linear-gradient(#3b82ac 0.5px,#3c81ac 18.5px,#3c7abb 39.5px,#3d6ed0 48.5px,#4061e7 52.5px,#5749e8 56.5px,#7a29dd 59.5px,#9316d5 61.5px,#7912b0 62.5px,#4d1170 63.5px,#2f2332 64.5px,#343434 65.5px,#343434 98.5px)"></i><i style="left:136px;width:1px;background:linear-gradient(#3c80af 0.5px,#3c81af 17.5px,#3c79bd 38.5px,#3d6ed0 47.5px,#435de8 52.5px,#5b45e7 56.5px,#8b1cd7 60.5px,#8e15ce 61.5px,#7011a4 62.5px,#451165 63.5px,#312b33 64.5px,#343434 65.5px,#343434 98.5px)"></i><i style="left:137px;width:1px;background:linear-gradient(#3c7fb1 0.5px,#3c7fb2 18.5px,#3c76c1 39.5px,#3d6ed0 46.5px,#415fe8 51.5px,#5f41e6 56.5px,#8e1ad7 60.5px,#8a14c8 61.5px,#681199 62.5px,#3e125a 63.5px,#332f34 64.5px,#343434 66.5px,#343434 98.5px)"></i><i style="left:138px;width:1px;background:linear-gradient(#3c7fb3 0.5px,#3c7db5 20.5px,#3c74c5 40.5px,#3d6bd4 46.5px,#4060e8 50.5px,#5b45e7 55.5px,#9019d7 60.5px,#8613c2 61.5px,#60108e 62.5px,#38144e 63.5px,#343434 64.5px,#343434 98.5px)"></i><i style="left:139px;width:1px;background:linear-gradient(#3c7eb4 0.5px,#3c7bb8 22.5px,#3c72c9 41.5px,#3e69d8 46.5px,#435de8 50.5px,#5e42e6 55.5px,#9217d6 60.5px,#8112bb 61.5px,#591083 62.5px,#341843 63.5px,#343434 64.5px,#343434 98.5px)"></i><i style="left:140px;width:1px;background:linear-gradient(#3c7db6 0.5px,#3c79bc 23.5px,#3c70cd 42.5px,#415fe8 49.5px,#5a46e7 54.5px,#9216d3 60.5px,#7a12b2 61.5px,#521178 62.5px,#2f1d36 63.5px,#343434 64.5px,#343434 98.5px)"></i><i style="left:141px;width:1px;background:linear-gradient(#3c7cb7 0.5px,#3c77bf 25.5px,#3d6ed0 42.5px,#4060e8 48.5px,#5e42e6 54.5px,#8c1bd7 59.5px,#8e15cd 60.5px,#7311a8 61.5px,#4b116e 62.5px,#2f2132 63.5px,#343434 64.5px,#343434 98.5px)"></i><i style="left:142px;width:1px;background:linear-gradient(#3c7bb9 0.5px,#3c75c3 27.5px,#3d6ed0 41.5px,#435de8 48.5px,#5a46e7 53.5px,#8e1ad7 59.5px,#8a14c8 60.5px,#6c119e 61.5px,#441163 62.5px,#312b33 63.5px,#343434 64.5px,#343434 98.5px)"></i><i style="left:143px;width:1px;background:linear-gradient(#3c7aba 0.5px,#3c73c7 29.5px,#3d6cd3 41.5px,#415fe8 47.5px,#5c44e7 53.5px,#9118d7 59.5px,#8613c2 60.5px,#651094 61.5px,#3d1259 62.5px,#322d33 63.5px,#343434 64.5px,#343434 98.5px)"></i><i style="left:144px;width:1px;background:linear-gradient(#3c79bc 0.5px,#3c6fce 36.5px,#3e69d9 42.5px,#4060e8 46.5px,#5f41e6 53.5px,#9317d6 59.5px,#8212bd 60.5px,#5f108c 61.5px,#391351 62.5px,#333034 63.5px,#343434 66.5px,#343434 98.5px)"></i><i style="left:145px;width:1px;background:linear-gradient(#3c79bd 0.5px,#3d6dd2 38.5px,#425ee8 46.5px,#5c44e7 52.5px,#9115d2 59.5px,#7d12b5 60.5px,#581082 61.5px,#361648 62.5px,#343434 63.5px,#343434 98.5px)"></i><i style="left:146px;width:1px;background:linear-gradient(#3c78bf 0.5px,#3d6dd2 37.5px,#3f62e4 44.5px,#435de8 46.5px,#5e42e6 52.5px,#8e1ad7 58.5px,#8e15cd 59.5px,#7711ad 60.5px,#521179 61.5px,#321a3f 62.5px,#343434 63.5px,#343434 98.5px)"></i><i style="left:147px;width:1px;background:linear-gradient(#3c77c0 0.5px,#3d6cd3 37.5px,#415fe8 45.5px,#613fe5 52.5px,#8f19d7 58.5px,#8a14c8 59.5px,#7011a4 60.5px,#4c1170 61.5px,#2e1e33 62.5px,#343434 63.5px,#343434 98.5px)"></i><i style="left:148px;width:1px;background:linear-gradient(#3c76c1 0.5px,#3c74c6 9.5px,#3c70cd 28.5px,#3d6bd5 38.5px,#425ee8 45.5px,#623ee5 52.5px,#9118d6 58.5px,#8613c3 59.5px,#6a119c 60.5px,#461166 61.5px,#2f2332 62.5px,#343434 63.5px,#343434 98.5px)"></i><i style="left:149px;width:1px;background:linear-gradient(#3c75c3 0.5px,#3c74c5 7.5px,#3c70cc 17.5px,#3d6dd1 35.5px,#3f64e0 42.5px,#435de8 45.5px,#643ce4 52.5px,#9316d6 58.5px,#8313be 59.5px,#651094 60.5px,#41125f 61.5px,#312733 62.5px,#343434 63.5px,#343434 98.5px)"></i><i style="left:150px;width:1px;background:linear-gradient(#3c75c4 0.5px,#3c75c4 6.5px,#3c70cc 12.5px,#3d6dd0 34.5px,#3f64e1 42.5px,#445ce8 45.5px,#653be4 52.5px,#9316d4 58.5px,#8112bb 59.5px,#61108f 60.5px,#3e125a 61.5px,#322c33 62.5px,#343434 63.5px,#343434 98.5px)"></i></div><svg width="409" height="245" viewBox="0 0 409 245" style="position:absolute;left:0;top:0" font-family="Liberation Sans, sans-serif" fill="#000"><defs><linearGradient id="cb" x1="0" y1="0" x2="0" y2="1"><stop offset="0.000" stop-color="#9c1418"/><stop offset="0.051" stop-color="#a81c18"/><stop offset="0.081" stop-color="#b02818"/><stop offset="0.112" stop-color="#bc3418"/><stop offset="0.152" stop-color="#c84818"/><stop offset="0.193" stop-color="#e06810"/><stop offset="0.234" stop-color="#e88a14"/><stop offset="0.274" stop-color="#f0a414"/><stop offset="0.315" stop-color="#f8c810"/><stop offset="0.335" stop-color="#fcd810"/><stop offset="0.355" stop-color="#ecd818"/><stop offset="0.396" stop-color="#b8c424"/><stop offset="0.437" stop-color="#78b040"/><stop offset="0.477" stop-color="#48a850"/><stop offset="0.518" stop-color="#309468"/><stop offset="0.558" stop-color="#388c90"/><stop offset="0.599" stop-color="#3c80b0"/><stop offset="0.640" stop-color="#3c70cc"/><stop offset="0.680" stop-color="#4060e8"/><stop offset="0.721" stop-color="#5848e8"/><stop offset="0.761" stop-color="#7030e0"/><stop offset="0.802" stop-color="#881ed8"/><stop offset="0.843" stop-color="#9416d6"/><stop offset="0.883" stop-color="#8012ba"/><stop offset="0.924" stop-color="#5c1088"/><stop offset="0.964" stop-color="#3a1254"/><stop offset="0.985" stop-color="#2e1e32"/><stop offset="1.000" stop-color="#343434"/></linearGradient><pattern id="v" width="4.04" height="3.3" patternUnits="userSpaceOnUse"><path fill="#fff" fill-opacity=".07" d="M2.9 0h1v3.3h-1zM0 0h4.04v.5h-4.04z"/><ellipse cx="1.5" cy="1.9" rx="1.25" ry=".8" fill="#000" fill-opacity=".13"/></pattern><pattern id="vb" width="4.04" height="5.1" patternUnits="userSpaceOnUse"><ellipse cx="1.5" cy="2.6" rx="1.3" ry=".9" fill="#000" fill-opacity=".85"/><path d="M3 0h.8v5.1h-.8z" fill="#fff" fill-opacity=".05"/></pattern></defs><g transform="translate(0,0)"><rect x="24" y="4.3" width="150.4" height="98.2" fill="url(#v)"/><polygon points="20,0 22.5,75.9 24,75.2 27.4,73.7 31,71.6 34.7,69.3 38.4,66.7 44.8,61.6 48,58 50,55.8 53.6,49.9 57,44 58.7,41 61.6,35.9 64.6,30 65.8,26 67,22 67.8,19 67.8,4 67.8,0" fill="#fff"/><rect x="20" y="0" width="4" height="104" fill="#fff"/><rect x="20" y="102.5" width="160" height="2" fill="#fff"/><rect x="20" y="0" width="160" height="4.4" fill="#fff"/><rect x="174.4" y="0" width="4" height="105" fill="#fff"/><rect x="22.6" y="4.2" width="152.1" height="99.3" fill="none" stroke="#8a8a8a" stroke-width="0.45"/><path d="M22.6 103.50h1.6M174.7 103.50h-1.6M22.6 91.09h1.6M174.7 91.09h-1.6M22.6 78.68h1.6M174.7 78.68h-1.6M22.6 66.27h1.6M174.7 66.27h-1.6M22.6 53.86h1.6M174.7 53.86h-1.6M22.6 41.45h1.6M174.7 41.45h-1.6M22.6 29.04h1.6M174.7 29.04h-1.6M22.6 16.63h1.6M174.7 16.63h-1.6M22.6 4.22h1.6M174.7 4.22h-1.6M22.60 103.5v-1.6M22.60 4.2v1.6M35.77 103.5v-0.8M35.77 4.2v0.8M43.47 103.5v-0.8M43.47 4.2v0.8M48.94 103.5v-0.8M48.94 4.2v0.8M53.18 103.5v-0.8M53.18 4.2v0.8M56.64 103.5v-0.8M56.64 4.2v0.8M59.57 103.5v-0.8M59.57 4.2v0.8M62.11 103.5v-0.8M62.11 4.2v0.8M64.35 103.5v-0.8M64.35 4.2v0.8M66.35 103.5v-1.6M66.35 4.2v1.6M79.52 103.5v-0.8M79.52 4.2v0.8M87.22 103.5v-0.8M87.22 4.2v0.8M92.69 103.5v-0.8M92.69 4.2v0.8M96.93 103.5v-0.8M96.93 4.2v0.8M100.39 103.5v-0.8M100.39 4.2v0.8M103.32 103.5v-0.8M103.32 4.2v0.8M105.86 103.5v-0.8M105.86 4.2v0.8M108.10 103.5v-0.8M108.10 4.2v0.8M110.10 103.5v-1.6M110.10 4.2v1.6M123.27 103.5v-0.8M123.27 4.2v0.8M130.97 103.5v-0.8M130.97 4.2v0.8M136.44 103.5v-0.8M136.44 4.2v0.8M140.68 103.5v-0.8M140.68 4.2v0.8M144.14 103.5v-0.8M144.14 4.2v0.8M147.07 103.5v-0.8M147.07 4.2v0.8M149.61 103.5v-0.8M149.61 4.2v0.8M151.85 103.5v-0.8M151.85 4.2v0.8M153.85 103.5v-1.6M153.85 4.2v1.6M167.02 103.5v-0.8M167.02 4.2v0.8M174.72 103.5v-0.8M174.72 4.2v0.8" stroke="#999" stroke-width="0.4" fill="none"/><text x="18.3" y="104.65" font-size="5.1" text-anchor="end" class="b">0</text><text x="18.3" y="92.45" font-size="5.1" text-anchor="end" class="b">0.1</text><text x="18.3" y="80.25" font-size="5.1" text-anchor="end" class="b">0.2</text><text x="18.3" y="68.05" font-size="5.1" text-anchor="end" class="b">0.3</text><text x="18.3" y="55.85" font-size="5.1" text-anchor="end" class="b">0.4</text><text x="18.3" y="43.65" font-size="5.1" text-anchor="end" class="b">0.5</text><text x="18.3" y="31.45" font-size="5.1" text-anchor="end" class="b">0.6</text><text x="18.3" y="19.25" font-size="5.1" text-anchor="end" class="b">0.7</text><text x="18.3" y="7.05" font-size="5.1" text-anchor="end" class="b">0.8</text><text x="23.90" y="113.1" font-size="5.1" text-anchor="middle" class="b">0.1</text><text x="67.65" y="113.1" font-size="5.1" text-anchor="middle" class="b">1</text><text x="111.40" y="113.1" font-size="5.1" text-anchor="middle" class="b">10</text><text x="155.15" y="113.1" font-size="5.1" text-anchor="middle" class="b">100</text><text x="99" y="120.5" font-size="5.2" font-weight="bold" text-anchor="middle">Radius (AU)</text><text transform="translate(4.8,54.1) rotate(-90)" font-size="5.6" font-weight="bold" text-anchor="middle">Z/R</text><text x="27" y="16.3" font-size="4.9" font-weight="bold" textLength="17.7" lengthAdjust="spacingAndGlyphs">Density</text><text x="27" y="26.6" font-size="4.9" font-weight="bold">(cm<tspan dy="-2" font-size="3.6">-3</tspan><tspan dy="2">)</tspan></text><rect x="178.4" y="4.6" width="8.2" height="99" fill="url(#cb)"/><text x="190.3" y="6.8" font-size="5.2" class="b">10<tspan dy="-2.3" font-size="3.9" font-weight="bold">15</tspan></text><text x="190.3" y="16.7" font-size="5.2" class="b">10<tspan dy="-2.3" font-size="3.9" font-weight="bold">14</tspan></text><text x="190.3" y="26.6" font-size="5.2" class="b">10<tspan dy="-2.3" font-size="3.9" font-weight="bold">13</tspan></text><text x="190.3" y="36.5" font-size="5.2" class="b">10<tspan dy="-2.3" font-size="3.9" font-weight="bold">12</tspan></text><text x="190.3" y="46.4" font-size="5.2" class="b">10<tspan dy="-2.3" font-size="3.9" font-weight="bold">11</tspan></text><text x="190.3" y="56.3" font-size="5.2" class="b">10<tspan dy="-2.3" font-size="3.9" font-weight="bold">10</tspan></text><text x="190.3" y="66.2" font-size="5.2" class="b">10<tspan dy="-2.3" font-size="3.9" font-weight="bold">9</tspan></text><text x="190.3" y="76.1" font-size="5.2" class="b">10<tspan dy="-2.3" font-size="3.9" font-weight="bold">8</tspan></text><text x="190.3" y="86.0" font-size="5.2" class="b">10<tspan dy="-2.3" font-size="3.9" font-weight="bold">7</tspan></text><text x="190.3" y="95.9" font-size="5.2" class="b">10<tspan dy="-2.3" font-size="3.9" font-weight="bold">6</tspan></text><text x="190.3" y="105.8" font-size="5.2" class="b">10<tspan dy="-2.3" font-size="3.9" font-weight="bold">5</tspan></text><path d="M178.4 4.60h1.4M186.6 4.60h-1.4M178.4 14.50h1.4M186.6 14.50h-1.4M178.4 24.40h1.4M186.6 24.40h-1.4M178.4 34.30h1.4M186.6 34.30h-1.4M178.4 44.20h1.4M186.6 44.20h-1.4M178.4 54.10h1.4M186.6 54.10h-1.4M178.4 64.00h1.4M186.6 64.00h-1.4M178.4 73.90h1.4M186.6 73.90h-1.4M178.4 83.80h1.4M186.6 83.80h-1.4M178.4 93.70h1.4M186.6 93.70h-1.4M178.4 103.60h1.4M186.6 103.60h-1.4" stroke="#000" stroke-opacity=".55" stroke-width="0.45" fill="none"/></g><g transform="translate(209,0)"><rect x="24" y="4.3" width="150.4" height="98.2" fill="url(#v)"/><path d="M23.0 91.5L51.0 89.5L71.0 90.3L85.7 85.1L100.4 77.8L110.7 70.4L111.3 61.0L111.3 4.5M34.7 102.5L56.0 96.0L71.0 91.0L79.0 88.0M101.0 102.4L102.0 88.0L104.8 80.7L109.2 73.4L110.7 70.4M116.6 102.4L118.0 88.0L121.0 77.8L124.0 68.0L126.0 55.0L128.0 30.0L128.3 4.5M128.0 102.4L129.0 90.0L131.0 80.0L135.0 70.5L139.0 57.0L143.0 43.4L144.0 36.0L145.0 4.5M141.0 102.4L144.0 88.0L148.4 74.0L156.0 62.0L163.3 51.5L169.0 35.0L172.0 20.0L173.0 4.5" fill="none" stroke="#000" stroke-opacity=".32" stroke-width=".38"/><text x="80.2" y="33.5" font-size="5.4" font-weight="bold" text-anchor="end" class="b">20 K</text><text x="80.2" y="39.2" font-size="5.4" font-weight="bold" text-anchor="end" class="b">30 K</text><text x="80.2" y="44.3" font-size="5.4" font-weight="bold" text-anchor="end" class="b">50 K</text><text x="80.2" y="50.3" font-size="5.4" font-weight="bold" text-anchor="end" class="b">70 K</text><text x="80.2" y="56.1" font-size="5.4" font-weight="bold" text-anchor="end" class="b">100 K</text><text x="80.2" y="61.8" font-size="5.4" font-weight="bold" text-anchor="end" class="b">500 K</text><path d="M83.5 31.7h15M83.5 37.4h15M83.5 42.5h15M83.5 48.5h15M83.5 54.3h15M83.5 60.0h15" stroke="#000" stroke-opacity=".3" stroke-width=".35"/><polygon points="20,0 22.5,75.9 24,75.2 27.4,73.7 31,71.6 34.7,69.3 38.4,66.7 44.8,61.6 48,58 50,55.8 53.6,49.9 57,44 58.7,41 61.6,35.9 64.6,30 65.8,26 67,22 67.8,19 67.8,4 67.8,0" fill="#fff"/><rect x="20" y="0" width="4" height="104" fill="#fff"/><rect x="20" y="102.5" width="160" height="2" fill="#fff"/><rect x="20" y="0" width="160" height="4.4" fill="#fff"/><rect x="174.4" y="0" width="4" height="105" fill="#fff"/><rect x="22.6" y="4.2" width="152.1" height="99.3" fill="none" stroke="#8a8a8a" stroke-width="0.45"/><path d="M22.6 103.50h1.6M174.7 103.50h-1.6M22.6 91.09h1.6M174.7 91.09h-1.6M22.6 78.68h1.6M174.7 78.68h-1.6M22.6 66.27h1.6M174.7 66.27h-1.6M22.6 53.86h1.6M174.7 53.86h-1.6M22.6 41.45h1.6M174.7 41.45h-1.6M22.6 29.04h1.6M174.7 29.04h-1.6M22.6 16.63h1.6M174.7 16.63h-1.6M22.6 4.22h1.6M174.7 4.22h-1.6M22.60 103.5v-1.6M22.60 4.2v1.6M35.77 103.5v-0.8M35.77 4.2v0.8M43.47 103.5v-0.8M43.47 4.2v0.8M48.94 103.5v-0.8M48.94 4.2v0.8M53.18 103.5v-0.8M53.18 4.2v0.8M56.64 103.5v-0.8M56.64 4.2v0.8M59.57 103.5v-0.8M59.57 4.2v0.8M62.11 103.5v-0.8M62.11 4.2v0.8M64.35 103.5v-0.8M64.35 4.2v0.8M66.35 103.5v-1.6M66.35 4.2v1.6M79.52 103.5v-0.8M79.52 4.2v0.8M87.22 103.5v-0.8M87.22 4.2v0.8M92.69 103.5v-0.8M92.69 4.2v0.8M96.93 103.5v-0.8M96.93 4.2v0.8M100.39 103.5v-0.8M100.39 4.2v0.8M103.32 103.5v-0.8M103.32 4.2v0.8M105.86 103.5v-0.8M105.86 4.2v0.8M108.10 103.5v-0.8M108.10 4.2v0.8M110.10 103.5v-1.6M110.10 4.2v1.6M123.27 103.5v-0.8M123.27 4.2v0.8M130.97 103.5v-0.8M130.97 4.2v0.8M136.44 103.5v-0.8M136.44 4.2v0.8M140.68 103.5v-0.8M140.68 4.2v0.8M144.14 103.5v-0.8M144.14 4.2v0.8M147.07 103.5v-0.8M147.07 4.2v0.8M149.61 103.5v-0.8M149.61 4.2v0.8M151.85 103.5v-0.8M151.85 4.2v0.8M153.85 103.5v-1.6M153.85 4.2v1.6M167.02 103.5v-0.8M167.02 4.2v0.8M174.72 103.5v-0.8M174.72 4.2v0.8" stroke="#999" stroke-width="0.4" fill="none"/><text x="18.3" y="104.65" font-size="5.1" text-anchor="end" class="b">0</text><text x="18.3" y="92.45" font-size="5.1" text-anchor="end" class="b">0.1</text><text x="18.3" y="80.25" font-size="5.1" text-anchor="end" class="b">0.2</text><text x="18.3" y="68.05" font-size="5.1" text-anchor="end" class="b">0.3</text><text x="18.3" y="55.85" font-size="5.1" text-anchor="end" class="b">0.4</text><text x="18.3" y="43.65" font-size="5.1" text-anchor="end" class="b">0.5</text><text x="18.3" y="31.45" font-size="5.1" text-anchor="end" class="b">0.6</text><text x="18.3" y="19.25" font-size="5.1" text-anchor="end" class="b">0.7</text><text x="18.3" y="7.05" font-size="5.1" text-anchor="end" class="b">0.8</text><text x="23.90" y="113.1" font-size="5.1" text-anchor="middle" class="b">0.1</text><text x="67.65" y="113.1" font-size="5.1" text-anchor="middle" class="b">1</text><text x="111.40" y="113.1" font-size="5.1" text-anchor="middle" class="b">10</text><text x="155.15" y="113.1" font-size="5.1" text-anchor="middle" class="b">100</text><text x="99" y="120.5" font-size="5.2" font-weight="bold" text-anchor="middle">Radius (AU)</text><text transform="translate(4.8,54.1) rotate(-90)" font-size="5.6" font-weight="bold" text-anchor="middle">Z/R</text><text x="26.1" y="16.3" font-size="4.9" font-weight="bold" textLength="32.5" lengthAdjust="spacingAndGlyphs">Temperature</text><text x="26.1" y="25.9" font-size="4.9" font-weight="bold" textLength="7.4" lengthAdjust="spacingAndGlyphs">(K)</text><rect x="178.4" y="4.6" width="8.2" height="99" fill="url(#cb)"/><text x="190.3" y="6.8" font-size="5.2" class="b">10<tspan dy="-2.3" font-size="3.9" font-weight="bold">4</tspan></text><text x="190.3" y="39.8" font-size="5.2" class="b">10<tspan dy="-2.3" font-size="3.9" font-weight="bold">3</tspan></text><text x="190.3" y="72.8" font-size="5.2" class="b">10<tspan dy="-2.3" font-size="3.9" font-weight="bold">2</tspan></text><text x="190.3" y="105.8" font-size="5.2" class="b">10<tspan dy="-2.3" font-size="3.9" font-weight="bold">1</tspan></text><path d="M178.4 4.60h1.4M186.6 4.60h-1.4M178.4 37.60h1.4M186.6 37.60h-1.4M178.4 70.60h1.4M186.6 70.60h-1.4M178.4 103.60h1.4M186.6 103.60h-1.4M178.4 93.67h.8M186.6 93.67h-.8M178.4 87.85h.8M186.6 87.85h-.8M178.4 83.73h.8M186.6 83.73h-.8M178.4 80.53h.8M186.6 80.53h-.8M178.4 77.92h.8M186.6 77.92h-.8M178.4 75.71h.8M186.6 75.71h-.8M178.4 73.80h.8M186.6 73.80h-.8M178.4 72.11h.8M186.6 72.11h-.8M178.4 60.67h.8M186.6 60.67h-.8M178.4 54.85h.8M186.6 54.85h-.8M178.4 50.73h.8M186.6 50.73h-.8M178.4 47.53h.8M186.6 47.53h-.8M178.4 44.92h.8M186.6 44.92h-.8M178.4 42.71h.8M186.6 42.71h-.8M178.4 40.80h.8M186.6 40.80h-.8M178.4 39.11h.8M186.6 39.11h-.8M178.4 27.67h.8M186.6 27.67h-.8M178.4 21.85h.8M186.6 21.85h-.8M178.4 17.73h.8M186.6 17.73h-.8M178.4 14.53h.8M186.6 14.53h-.8M178.4 11.92h.8M186.6 11.92h-.8M178.4 9.71h.8M186.6 9.71h-.8M178.4 7.80h.8M186.6 7.80h-.8M178.4 6.11h.8M186.6 6.11h-.8" stroke="#000" stroke-opacity=".55" stroke-width="0.45" fill="none"/></g><g transform="translate(0,122)"><rect x="24" y="4.3" width="150.4" height="98.2" fill="url(#v)"/><polygon points="22,96.6 22.5,97.3 49.4,97.6 78.8,97.9 89.4,98.3 96.0,99.4 100.0,101.4 104.0,104.0 108.0,104.0 120.0,101.4 130.0,98.4 145.0,92.9 160.0,86.9 175.0,81.4 176,81 176,104 22,104" fill="url(#vb)"/><polygon points="20,0 22.5,75.9 24,75.2 27.4,73.7 31,71.6 34.7,69.3 38.4,66.7 44.8,61.6 48,58 50,55.8 53.6,49.9 57,44 58.7,41 61.6,35.9 64.6,30 65.8,26 67,22 67.8,19 67.8,4 67.8,0" fill="#fff"/><rect x="20" y="0" width="4" height="104" fill="#fff"/><rect x="20" y="102.5" width="160" height="2" fill="#fff"/><rect x="20" y="0" width="160" height="4.4" fill="#fff"/><rect x="174.4" y="0" width="4" height="105" fill="#fff"/><rect x="22.6" y="4.2" width="152.1" height="99.3" fill="none" stroke="#8a8a8a" stroke-width="0.45"/><path d="M22.6 103.50h1.6M174.7 103.50h-1.6M22.6 91.09h1.6M174.7 91.09h-1.6M22.6 78.68h1.6M174.7 78.68h-1.6M22.6 66.27h1.6M174.7 66.27h-1.6M22.6 53.86h1.6M174.7 53.86h-1.6M22.6 41.45h1.6M174.7 41.45h-1.6M22.6 29.04h1.6M174.7 29.04h-1.6M22.6 16.63h1.6M174.7 16.63h-1.6M22.6 4.22h1.6M174.7 4.22h-1.6M22.60 103.5v-1.6M22.60 4.2v1.6M35.77 103.5v-0.8M35.77 4.2v0.8M43.47 103.5v-0.8M43.47 4.2v0.8M48.94 103.5v-0.8M48.94 4.2v0.8M53.18 103.5v-0.8M53.18 4.2v0.8M56.64 103.5v-0.8M56.64 4.2v0.8M59.57 103.5v-0.8M59.57 4.2v0.8M62.11 103.5v-0.8M62.11 4.2v0.8M64.35 103.5v-0.8M64.35 4.2v0.8M66.35 103.5v-1.6M66.35 4.2v1.6M79.52 103.5v-0.8M79.52 4.2v0.8M87.22 103.5v-0.8M87.22 4.2v0.8M92.69 103.5v-0.8M92.69 4.2v0.8M96.93 103.5v-0.8M96.93 4.2v0.8M100.39 103.5v-0.8M100.39 4.2v0.8M103.32 103.5v-0.8M103.32 4.2v0.8M105.86 103.5v-0.8M105.86 4.2v0.8M108.10 103.5v-0.8M108.10 4.2v0.8M110.10 103.5v-1.6M110.10 4.2v1.6M123.27 103.5v-0.8M123.27 4.2v0.8M130.97 103.5v-0.8M130.97 4.2v0.8M136.44 103.5v-0.8M136.44 4.2v0.8M140.68 103.5v-0.8M140.68 4.2v0.8M144.14 103.5v-0.8M144.14 4.2v0.8M147.07 103.5v-0.8M147.07 4.2v0.8M149.61 103.5v-0.8M149.61 4.2v0.8M151.85 103.5v-0.8M151.85 4.2v0.8M153.85 103.5v-1.6M153.85 4.2v1.6M167.02 103.5v-0.8M167.02 4.2v0.8M174.72 103.5v-0.8M174.72 4.2v0.8" stroke="#999" stroke-width="0.4" fill="none"/><text x="18.3" y="104.65" font-size="5.1" text-anchor="end" class="b">0</text><text x="18.3" y="92.45" font-size="5.1" text-anchor="end" class="b">0.1</text><text x="18.3" y="80.25" font-size="5.1" text-anchor="end" class="b">0.2</text><text x="18.3" y="68.05" font-size="5.1" text-anchor="end" class="b">0.3</text><text x="18.3" y="55.85" font-size="5.1" text-anchor="end" class="b">0.4</text><text x="18.3" y="43.65" font-size="5.1" text-anchor="end" class="b">0.5</text><text x="18.3" y="31.45" font-size="5.1" text-anchor="end" class="b">0.6</text><text x="18.3" y="19.25" font-size="5.1" text-anchor="end" class="b">0.7</text><text x="18.3" y="7.05" font-size="5.1" text-anchor="end" class="b">0.8</text><text x="23.90" y="113.1" font-size="5.1" text-anchor="middle" class="b">0.1</text><text x="67.65" y="113.1" font-size="5.1" text-anchor="middle" class="b">1</text><text x="111.40" y="113.1" font-size="5.1" text-anchor="middle" class="b">10</text><text x="155.15" y="113.1" font-size="5.1" text-anchor="middle" class="b">100</text><text x="99" y="120.5" font-size="5.2" font-weight="bold" text-anchor="middle">Radius (AU)</text><text transform="translate(4.8,54.1) rotate(-90)" font-size="5.6" font-weight="bold" text-anchor="middle">Z/R</text><text x="26.6" y="18.2" font-size="4.9" font-weight="bold" textLength="25" lengthAdjust="spacingAndGlyphs">X-ray Flux</text><text x="26.6" y="26.6" font-size="4.9" font-weight="bold" textLength="32.8" lengthAdjust="spacingAndGlyphs">(erg cm<tspan dy="-2" font-size="3.6">-2</tspan><tspan dy="2"> s</tspan><tspan dy="-2" font-size="3.6">-1</tspan><tspan dy="2">)</tspan></text><rect x="178.4" y="4.6" width="8.2" height="99" fill="url(#cb)"/><text x="190.3" y="6.8" font-size="5.2" class="b">10<tspan dy="-2.3" font-size="3.9" font-weight="bold">7</tspan></text><text x="190.3" y="13.87" font-size="5.2" class="b">10<tspan dy="-2.3" font-size="3.9" font-weight="bold">6</tspan></text><text x="190.3" y="20.94" font-size="5.2" class="b">10<tspan dy="-2.3" font-size="3.9" font-weight="bold">5</tspan></text><text x="190.3" y="28.01" font-size="5.2" class="b">10<tspan dy="-2.3" font-size="3.9" font-weight="bold">4</tspan></text><text x="190.3" y="35.09" font-size="5.2" class="b">10<tspan dy="-2.3" font-size="3.9" font-weight="bold">3</tspan></text><text x="190.3" y="42.16" font-size="5.2" class="b">10<tspan dy="-2.3" font-size="3.9" font-weight="bold">2</tspan></text><text x="190.3" y="49.23" font-size="5.2" class="b">10<tspan dy="-2.3" font-size="3.9" font-weight="bold">1</tspan></text><text x="190.3" y="56.3" font-size="5.2" class="b">10<tspan dy="-2.3" font-size="3.9" font-weight="bold">0</tspan></text><text x="190.3" y="63.37" font-size="5.2" class="b">10<tspan dy="-2.3" font-size="3.9" font-weight="bold">-1</tspan></text><text x="190.3" y="70.44" font-size="5.2" class="b">10<tspan dy="-2.3" font-size="3.9" font-weight="bold">-2</tspan></text><text x="190.3" y="77.51" font-size="5.2" class="b">10<tspan dy="-2.3" font-size="3.9" font-weight="bold">-3</tspan></text><text x="190.3" y="84.59" font-size="5.2" class="b">10<tspan dy="-2.3" font-size="3.9" font-weight="bold">-4</tspan></text><text x="190.3" y="91.66" font-size="5.2" class="b">10<tspan dy="-2.3" font-size="3.9" font-weight="bold">-5</tspan></text><text x="190.3" y="98.73" font-size="5.2" class="b">10<tspan dy="-2.3" font-size="3.9" font-weight="bold">-6</tspan></text><text x="190.3" y="105.8" font-size="5.2" class="b">10<tspan dy="-2.3" font-size="3.9" font-weight="bold">-7</tspan></text><path d="M178.4 4.60h1.4M186.6 4.60h-1.4M178.4 11.67h1.4M186.6 11.67h-1.4M178.4 18.74h1.4M186.6 18.74h-1.4M178.4 25.81h1.4M186.6 25.81h-1.4M178.4 32.89h1.4M186.6 32.89h-1.4M178.4 39.96h1.4M186.6 39.96h-1.4M178.4 47.03h1.4M186.6 47.03h-1.4M178.4 54.10h1.4M186.6 54.10h-1.4M178.4 61.17h1.4M186.6 61.17h-1.4M178.4 68.24h1.4M186.6 68.24h-1.4M178.4 75.31h1.4M186.6 75.31h-1.4M178.4 82.39h1.4M186.6 82.39h-1.4M178.4 89.46h1.4M186.6 89.46h-1.4M178.4 96.53h1.4M186.6 96.53h-1.4M178.4 103.60h1.4M186.6 103.60h-1.4" stroke="#000" stroke-opacity=".55" stroke-width="0.45" fill="none"/></g><g transform="translate(209,122)"><rect x="24" y="4.3" width="150.4" height="98.2" fill="url(#v)"/><polygon points="22,91.5 22.0,91.5 45.0,91.2 53.0,90.0 60.4,89.8 67.7,88.1 72.0,86.6 75.0,87.2 78.0,88.8 85.4,88.4 91.0,86.6 97.0,84.4 104.5,82.1 111.8,80.3 120.0,78.3 128.0,76.4 136.2,74.2 141.5,73.1 155.0,69.6 166.0,67.9 175.0,66.7 176,64.4 176,103 22,103" fill="url(#vb)"/><polygon points="20,0 22.5,75.9 24,75.2 27.4,73.7 31,71.6 34.7,69.3 38.4,66.7 44.8,61.6 48,58 50,55.8 53.6,49.9 57,44 58.7,41 61.6,35.9 64.6,30 65.8,26 67,22 67.8,19 67.8,4 67.8,0" fill="#fff"/><rect x="20" y="0" width="4" height="104" fill="#fff"/><rect x="20" y="102.5" width="160" height="2" fill="#fff"/><rect x="20" y="0" width="160" height="4.4" fill="#fff"/><rect x="174.4" y="0" width="4" height="105" fill="#fff"/><rect x="22.6" y="4.2" width="152.1" height="99.3" fill="none" stroke="#8a8a8a" stroke-width="0.45"/><path d="M22.6 103.50h1.6M174.7 103.50h-1.6M22.6 91.09h1.6M174.7 91.09h-1.6M22.6 78.68h1.6M174.7 78.68h-1.6M22.6 66.27h1.6M174.7 66.27h-1.6M22.6 53.86h1.6M174.7 53.86h-1.6M22.6 41.45h1.6M174.7 41.45h-1.6M22.6 29.04h1.6M174.7 29.04h-1.6M22.6 16.63h1.6M174.7 16.63h-1.6M22.6 4.22h1.6M174.7 4.22h-1.6M22.60 103.5v-1.6M22.60 4.2v1.6M35.77 103.5v-0.8M35.77 4.2v0.8M43.47 103.5v-0.8M43.47 4.2v0.8M48.94 103.5v-0.8M48.94 4.2v0.8M53.18 103.5v-0.8M53.18 4.2v0.8M56.64 103.5v-0.8M56.64 4.2v0.8M59.57 103.5v-0.8M59.57 4.2v0.8M62.11 103.5v-0.8M62.11 4.2v0.8M64.35 103.5v-0.8M64.35 4.2v0.8M66.35 103.5v-1.6M66.35 4.2v1.6M79.52 103.5v-0.8M79.52 4.2v0.8M87.22 103.5v-0.8M87.22 4.2v0.8M92.69 103.5v-0.8M92.69 4.2v0.8M96.93 103.5v-0.8M96.93 4.2v0.8M100.39 103.5v-0.8M100.39 4.2v0.8M103.32 103.5v-0.8M103.32 4.2v0.8M105.86 103.5v-0.8M105.86 4.2v0.8M108.10 103.5v-0.8M108.10 4.2v0.8M110.10 103.5v-1.6M110.10 4.2v1.6M123.27 103.5v-0.8M123.27 4.2v0.8M130.97 103.5v-0.8M130.97 4.2v0.8M136.44 103.5v-0.8M136.44 4.2v0.8M140.68 103.5v-0.8M140.68 4.2v0.8M144.14 103.5v-0.8M144.14 4.2v0.8M147.07 103.5v-0.8M147.07 4.2v0.8M149.61 103.5v-0.8M149.61 4.2v0.8M151.85 103.5v-0.8M151.85 4.2v0.8M153.85 103.5v-1.6M153.85 4.2v1.6M167.02 103.5v-0.8M167.02 4.2v0.8M174.72 103.5v-0.8M174.72 4.2v0.8" stroke="#999" stroke-width="0.4" fill="none"/><text x="18.3" y="104.65" font-size="5.1" text-anchor="end" class="b">0</text><text x="18.3" y="92.45" font-size="5.1" text-anchor="end" class="b">0.1</text><text x="18.3" y="80.25" font-size="5.1" text-anchor="end" class="b">0.2</text><text x="18.3" y="68.05" font-size="5.1" text-anchor="end" class="b">0.3</text><text x="18.3" y="55.85" font-size="5.1" text-anchor="end" class="b">0.4</text><text x="18.3" y="43.65" font-size="5.1" text-anchor="end" class="b">0.5</text><text x="18.3" y="31.45" font-size="5.1" text-anchor="end" class="b">0.6</text><text x="18.3" y="19.25" font-size="5.1" text-anchor="end" class="b">0.7</text><text x="18.3" y="7.05" font-size="5.1" text-anchor="end" class="b">0.8</text><text x="23.90" y="113.1" font-size="5.1" text-anchor="middle" class="b">0.1</text><text x="67.65" y="113.1" font-size="5.1" text-anchor="middle" class="b">1</text><text x="111.40" y="113.1" font-size="5.1" text-anchor="middle" class="b">10</text><text x="155.15" y="113.1" font-size="5.1" text-anchor="middle" class="b">100</text><text x="99" y="120.5" font-size="5.2" font-weight="bold" text-anchor="middle">Radius (AU)</text><text transform="translate(4.8,54.1) rotate(-90)" font-size="5.6" font-weight="bold" text-anchor="middle">Z/R</text><text x="25.9" y="18.2" font-size="4.9" font-weight="bold" textLength="20.3" lengthAdjust="spacingAndGlyphs">UV Flux</text><text x="25.9" y="26.6" font-size="4.9" font-weight="bold" textLength="33.1" lengthAdjust="spacingAndGlyphs">(erg cm<tspan dy="-2" font-size="3.6">-2</tspan><tspan dy="2"> s</tspan><tspan dy="-2" font-size="3.6">-1</tspan><tspan dy="2">)</tspan></text><rect x="178.4" y="4.6" width="8.2" height="99" fill="url(#cb)"/><text x="190.3" y="6.8" font-size="5.2" class="b">10<tspan dy="-2.3" font-size="3.9" font-weight="bold">7</tspan></text><text x="190.3" y="13.87" font-size="5.2" class="b">10<tspan dy="-2.3" font-size="3.9" font-weight="bold">6</tspan></text><text x="190.3" y="20.94" font-size="5.2" class="b">10<tspan dy="-2.3" font-size="3.9" font-weight="bold">5</tspan></text><text x="190.3" y="28.01" font-size="5.2" class="b">10<tspan dy="-2.3" font-size="3.9" font-weight="bold">4</tspan></text><text x="190.3" y="35.09" font-size="5.2" class="b">10<tspan dy="-2.3" font-size="3.9" font-weight="bold">3</tspan></text><text x="190.3" y="42.16" font-size="5.2" class="b">10<tspan dy="-2.3" font-size="3.9" font-weight="bold">2</tspan></text><text x="190.3" y="49.23" font-size="5.2" class="b">10<tspan dy="-2.3" font-size="3.9" font-weight="bold">1</tspan></text><text x="190.3" y="56.3" font-size="5.2" class="b">10<tspan dy="-2.3" font-size="3.9" font-weight="bold">0</tspan></text><text x="190.3" y="63.37" font-size="5.2" class="b">10<tspan dy="-2.3" font-size="3.9" font-weight="bold">-1</tspan></text><text x="190.3" y="70.44" font-size="5.2" class="b">10<tspan dy="-2.3" font-size="3.9" font-weight="bold">-2</tspan></text><text x="190.3" y="77.51" font-size="5.2" class="b">10<tspan dy="-2.3" font-size="3.9" font-weight="bold">-3</tspan></text><text x="190.3" y="84.59" font-size="5.2" class="b">10<tspan dy="-2.3" font-size="3.9" font-weight="bold">-4</tspan></text><text x="190.3" y="91.66" font-size="5.2" class="b">10<tspan dy="-2.3" font-size="3.9" font-weight="bold">-5</tspan></text><text x="190.3" y="98.73" font-size="5.2" class="b">10<tspan dy="-2.3" font-size="3.9" font-weight="bold">-6</tspan></text><text x="190.3" y="105.8" font-size="5.2" class="b">10<tspan dy="-2.3" font-size="3.9" font-weight="bold">-7</tspan></text><path d="M178.4 4.60h1.4M186.6 4.60h-1.4M178.4 11.67h1.4M186.6 11.67h-1.4M178.4 18.74h1.4M186.6 18.74h-1.4M178.4 25.81h1.4M186.6 25.81h-1.4M178.4 32.89h1.4M186.6 32.89h-1.4M178.4 39.96h1.4M186.6 39.96h-1.4M178.4 47.03h1.4M186.6 47.03h-1.4M178.4 54.10h1.4M186.6 54.10h-1.4M178.4 61.17h1.4M186.6 61.17h-1.4M178.4 68.24h1.4M186.6 68.24h-1.4M178.4 75.31h1.4M186.6 75.31h-1.4M178.4 82.39h1.4M186.6 82.39h-1.4M178.4 89.46h1.4M186.6 89.46h-1.4M178.4 96.53h1.4M186.6 96.53h-1.4M178.4 103.60h1.4M186.6 103.60h-1.4" stroke="#000" stroke-opacity=".55" stroke-width="0.45" fill="none"/></g></svg></body></html>
